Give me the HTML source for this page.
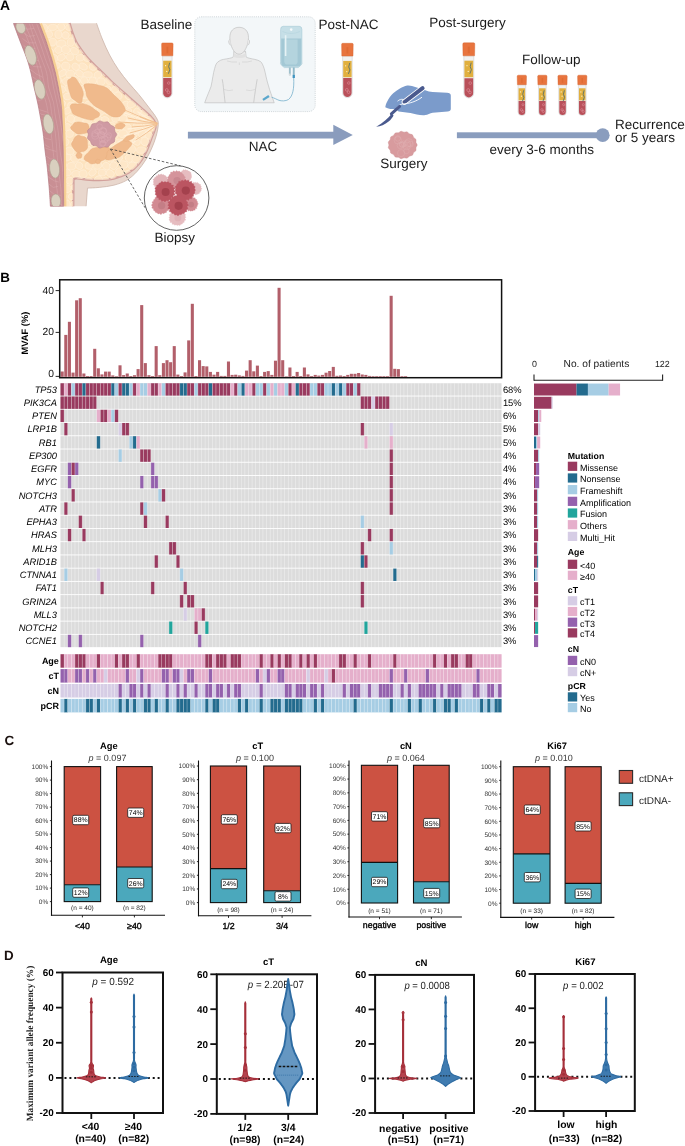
<!DOCTYPE html>
<html><head><meta charset="utf-8"><style>
html,body{margin:0;padding:0;background:#fff;}
svg{display:block;will-change:transform;}
</style></head><body>
<svg width="685" height="1146" viewBox="0 0 685 1146" text-rendering="geometricPrecision">
<rect width="685" height="1146" fill="#fff"/>
<text x="-0.1" y="9.5" font-family="Liberation Sans" font-size="13.9" font-weight="bold" text-anchor="start" fill="#000">A</text>
<path d="M39.3,23.2 L96.5,23.2  C97.47,25.83 100.12,33.70 102.30,39.00 C104.48,44.30 106.92,49.90 109.60,55.00 C112.28,60.10 115.23,64.97 118.40,69.60 C121.57,74.23 125.20,78.65 128.60,82.80 C132.00,86.95 135.40,90.37 138.80,94.50 C142.20,98.63 146.07,103.72 149.00,107.60 C151.93,111.48 154.85,115.02 156.40,117.80 C157.95,120.58 158.35,121.22 158.30,124.30 C158.25,127.38 157.18,132.35 156.10,136.30 C155.02,140.25 153.50,144.12 151.80,148.00 C150.10,151.88 148.33,155.72 145.90,159.60 C143.47,163.48 140.37,167.88 137.20,171.30 C134.03,174.72 130.80,177.78 126.90,180.10 C123.00,182.42 118.42,183.98 113.80,185.20 C109.18,186.42 103.58,186.92 99.20,187.40 C94.82,187.88 89.45,187.98 87.50,188.10 L86.1,206.2 L63.7,206.2 L63.5,175 L63.2,150 L62.6,130 L61.7,110 L60.6,100 L58.5,88 L55.5,73 L51.7,58.8 L46,41 L39.3,23.5 Z" fill="#e9d7cd"/>
<path d="M96.5,23.2  C97.47,25.83 100.12,33.70 102.30,39.00 C104.48,44.30 106.92,49.90 109.60,55.00 C112.28,60.10 115.23,64.97 118.40,69.60 C121.57,74.23 125.20,78.65 128.60,82.80 C132.00,86.95 135.40,90.37 138.80,94.50 C142.20,98.63 146.07,103.72 149.00,107.60 C151.93,111.48 154.85,115.02 156.40,117.80 C157.95,120.58 158.35,121.22 158.30,124.30 C158.25,127.38 157.18,132.35 156.10,136.30 C155.02,140.25 153.50,144.12 151.80,148.00 C150.10,151.88 148.33,155.72 145.90,159.60 C143.47,163.48 140.37,167.88 137.20,171.30 C134.03,174.72 130.80,177.78 126.90,180.10 C123.00,182.42 118.42,183.98 113.80,185.20 C109.18,186.42 103.58,186.92 99.20,187.40 C94.82,187.88 89.45,187.98 87.50,188.10 L86.1,206.2" fill="none" stroke="#cdb5aa" stroke-width="0.8"/>
<path d="M69.50,23.20 C70.00,24.83 71.40,29.88 72.50,33.00 C73.60,36.12 74.68,39.15 76.10,41.90 C77.52,44.65 79.30,47.07 81.00,49.50 C82.70,51.93 84.38,54.22 86.30,56.50 C88.22,58.78 90.32,61.02 92.50,63.20 C94.68,65.38 96.30,66.58 99.40,69.60 C102.50,72.62 106.97,77.40 111.10,81.30 C115.23,85.20 119.82,89.10 124.20,93.00 C128.58,96.90 134.10,101.78 137.40,104.70 C140.70,107.62 141.82,108.55 144.00,110.50 C146.18,112.45 148.75,114.57 150.50,116.40 C152.25,118.23 153.68,119.65 154.50,121.50 C155.32,123.35 155.98,124.55 155.40,127.50 C154.82,130.45 152.58,135.07 151.00,139.20 C149.42,143.33 147.97,148.17 145.90,152.30 C143.83,156.43 141.52,160.58 138.60,164.00 C135.68,167.42 132.53,170.37 128.40,172.80 C124.27,175.23 118.67,177.38 113.80,178.60 C108.93,179.82 104.07,179.98 99.20,180.10 C94.33,180.22 88.50,179.62 84.60,179.30 C80.70,178.98 77.27,178.38 75.80,178.20 L73.4,179.5 L73.2,206.2 L63.7,206.2 L63.5,175 L63.2,150 L62.6,130 L61.7,110 L60.6,100 L58.5,88 L55.5,73 L51.7,58.8 L46,41 L39.3,23.5 Z" fill="#fde3bf"/>
<path d="M69.50,23.20 C70.00,24.83 71.40,29.88 72.50,33.00 C73.60,36.12 74.68,39.15 76.10,41.90 C77.52,44.65 79.30,47.07 81.00,49.50 C82.70,51.93 84.38,54.22 86.30,56.50 C88.22,58.78 90.32,61.02 92.50,63.20 C94.68,65.38 96.30,66.58 99.40,69.60 C102.50,72.62 106.97,77.40 111.10,81.30 C115.23,85.20 119.82,89.10 124.20,93.00 C128.58,96.90 134.10,101.78 137.40,104.70 C140.70,107.62 141.82,108.55 144.00,110.50 C146.18,112.45 148.75,114.57 150.50,116.40 C152.25,118.23 153.68,119.65 154.50,121.50 C155.32,123.35 155.98,124.55 155.40,127.50 C154.82,130.45 152.58,135.07 151.00,139.20 C149.42,143.33 147.97,148.17 145.90,152.30 C143.83,156.43 141.52,160.58 138.60,164.00 C135.68,167.42 132.53,170.37 128.40,172.80 C124.27,175.23 118.67,177.38 113.80,178.60 C108.93,179.82 104.07,179.98 99.20,180.10 C94.33,180.22 88.50,179.62 84.60,179.30 C80.70,178.98 77.27,178.38 75.80,178.20 L73.4,179.5 L73.2,206.2" fill="none" stroke="#d3a19c" stroke-width="2.4"/>
<clipPath id="fatclip"><path d="M69.50,23.20 C70.00,24.83 71.40,29.88 72.50,33.00 C73.60,36.12 74.68,39.15 76.10,41.90 C77.52,44.65 79.30,47.07 81.00,49.50 C82.70,51.93 84.38,54.22 86.30,56.50 C88.22,58.78 90.32,61.02 92.50,63.20 C94.68,65.38 96.30,66.58 99.40,69.60 C102.50,72.62 106.97,77.40 111.10,81.30 C115.23,85.20 119.82,89.10 124.20,93.00 C128.58,96.90 134.10,101.78 137.40,104.70 C140.70,107.62 141.82,108.55 144.00,110.50 C146.18,112.45 148.75,114.57 150.50,116.40 C152.25,118.23 153.68,119.65 154.50,121.50 C155.32,123.35 155.98,124.55 155.40,127.50 C154.82,130.45 152.58,135.07 151.00,139.20 C149.42,143.33 147.97,148.17 145.90,152.30 C143.83,156.43 141.52,160.58 138.60,164.00 C135.68,167.42 132.53,170.37 128.40,172.80 C124.27,175.23 118.67,177.38 113.80,178.60 C108.93,179.82 104.07,179.98 99.20,180.10 C94.33,180.22 88.50,179.62 84.60,179.30 C80.70,178.98 77.27,178.38 75.80,178.20 L73.4,179.5 L73.2,206.2 L63.7,206.2 L63.5,175 L63.2,150 L62.6,130 L61.7,110 L60.6,100 L58.5,88 L55.5,73 L51.7,58.8 L46,41 L39.3,23.5 Z"/></clipPath>
<g clip-path="url(#fatclip)" fill="#fee8cb" stroke="#fff4e4" stroke-width="0.6" opacity="0.75"><ellipse cx="39.6" cy="19.2" rx="4.4" ry="3.1" transform="rotate(3 39.6 19.2)"/><ellipse cx="48.5" cy="18.9" rx="4.2" ry="3.0" transform="rotate(-5 48.5 18.9)"/><ellipse cx="56.6" cy="19.0" rx="4.1" ry="4.0" transform="rotate(-30 56.6 19.0)"/><ellipse cx="65.7" cy="20.3" rx="4.7" ry="3.7" transform="rotate(-8 65.7 20.3)"/><ellipse cx="76.3" cy="18.9" rx="4.6" ry="3.3" transform="rotate(-28 76.3 18.9)"/><ellipse cx="83.1" cy="19.5" rx="4.6" ry="3.2" transform="rotate(7 83.1 19.5)"/><ellipse cx="93.1" cy="19.7" rx="4.3" ry="3.1" transform="rotate(-35 93.1 19.7)"/><ellipse cx="100.9" cy="20.4" rx="4.1" ry="3.4" transform="rotate(7 100.9 20.4)"/><ellipse cx="110.3" cy="19.5" rx="4.6" ry="3.8" transform="rotate(-20 110.3 19.5)"/><ellipse cx="119.4" cy="20.1" rx="4.7" ry="3.9" transform="rotate(-17 119.4 20.1)"/><ellipse cx="129.2" cy="19.1" rx="4.1" ry="3.9" transform="rotate(-28 129.2 19.1)"/><ellipse cx="136.8" cy="18.9" rx="4.4" ry="3.9" transform="rotate(6 136.8 18.9)"/><ellipse cx="146.5" cy="19.6" rx="4.4" ry="3.7" transform="rotate(6 146.5 19.6)"/><ellipse cx="154.3" cy="20.8" rx="4.7" ry="3.6" transform="rotate(13 154.3 20.8)"/><ellipse cx="43.3" cy="28.1" rx="4.4" ry="4.2" transform="rotate(26 43.3 28.1)"/><ellipse cx="52.7" cy="27.4" rx="4.4" ry="3.0" transform="rotate(-3 52.7 27.4)"/><ellipse cx="61.2" cy="26.7" rx="3.7" ry="3.9" transform="rotate(-30 61.2 26.7)"/><ellipse cx="70.2" cy="27.4" rx="4.6" ry="3.1" transform="rotate(-4 70.2 27.4)"/><ellipse cx="79.7" cy="28.6" rx="4.6" ry="4.0" transform="rotate(-18 79.7 28.6)"/><ellipse cx="88.2" cy="27.3" rx="4.7" ry="4.1" transform="rotate(-28 88.2 27.3)"/><ellipse cx="96.4" cy="27.0" rx="3.9" ry="3.6" transform="rotate(7 96.4 27.0)"/><ellipse cx="105.4" cy="26.5" rx="4.1" ry="3.4" transform="rotate(5 105.4 26.5)"/><ellipse cx="115.9" cy="28.1" rx="4.2" ry="3.7" transform="rotate(14 115.9 28.1)"/><ellipse cx="122.5" cy="28.6" rx="4.5" ry="4.0" transform="rotate(24 122.5 28.6)"/><ellipse cx="132.1" cy="27.4" rx="3.7" ry="3.8" transform="rotate(-35 132.1 27.4)"/><ellipse cx="140.2" cy="27.0" rx="3.8" ry="3.4" transform="rotate(-36 140.2 27.0)"/><ellipse cx="148.8" cy="26.8" rx="3.7" ry="3.4" transform="rotate(-38 148.8 26.8)"/><ellipse cx="159.7" cy="27.9" rx="3.8" ry="3.3" transform="rotate(-12 159.7 27.9)"/><ellipse cx="39.7" cy="34.4" rx="4.6" ry="4.2" transform="rotate(-3 39.7 34.4)"/><ellipse cx="48.8" cy="34.3" rx="3.7" ry="3.4" transform="rotate(-19 48.8 34.3)"/><ellipse cx="58.4" cy="34.5" rx="3.6" ry="4.1" transform="rotate(2 58.4 34.5)"/><ellipse cx="65.6" cy="35.4" rx="3.6" ry="3.6" transform="rotate(38 65.6 35.4)"/><ellipse cx="76.1" cy="35.8" rx="3.9" ry="3.4" transform="rotate(-27 76.1 35.8)"/><ellipse cx="84.7" cy="35.4" rx="4.5" ry="3.4" transform="rotate(-22 84.7 35.4)"/><ellipse cx="93.5" cy="36.5" rx="4.6" ry="4.0" transform="rotate(25 93.5 36.5)"/><ellipse cx="102.2" cy="34.7" rx="4.2" ry="3.4" transform="rotate(-38 102.2 34.7)"/><ellipse cx="109.3" cy="34.8" rx="3.9" ry="3.8" transform="rotate(37 109.3 34.8)"/><ellipse cx="119.1" cy="36.4" rx="4.8" ry="4.1" transform="rotate(-11 119.1 36.4)"/><ellipse cx="127.3" cy="34.7" rx="3.8" ry="3.2" transform="rotate(10 127.3 34.7)"/><ellipse cx="137.8" cy="36.1" rx="4.2" ry="3.8" transform="rotate(24 137.8 36.1)"/><ellipse cx="144.6" cy="35.7" rx="4.7" ry="3.9" transform="rotate(20 144.6 35.7)"/><ellipse cx="154.3" cy="34.5" rx="4.5" ry="3.4" transform="rotate(24 154.3 34.5)"/><ellipse cx="45.5" cy="42.7" rx="4.1" ry="4.1" transform="rotate(18 45.5 42.7)"/><ellipse cx="52.4" cy="42.1" rx="3.8" ry="4.1" transform="rotate(25 52.4 42.1)"/><ellipse cx="61.2" cy="43.8" rx="4.8" ry="3.8" transform="rotate(-12 61.2 43.8)"/><ellipse cx="70.9" cy="42.1" rx="3.6" ry="4.2" transform="rotate(12 70.9 42.1)"/><ellipse cx="79.7" cy="44.0" rx="4.1" ry="4.0" transform="rotate(26 79.7 44.0)"/><ellipse cx="87.7" cy="42.4" rx="4.0" ry="3.3" transform="rotate(7 87.7 42.4)"/><ellipse cx="96.6" cy="42.8" rx="3.8" ry="4.1" transform="rotate(-12 96.6 42.8)"/><ellipse cx="105.9" cy="43.2" rx="4.7" ry="3.5" transform="rotate(33 105.9 43.2)"/><ellipse cx="114.8" cy="43.0" rx="4.2" ry="3.0" transform="rotate(-5 114.8 43.0)"/><ellipse cx="122.8" cy="41.8" rx="4.6" ry="3.2" transform="rotate(-2 122.8 41.8)"/><ellipse cx="132.9" cy="43.1" rx="4.0" ry="3.6" transform="rotate(4 132.9 43.1)"/><ellipse cx="141.9" cy="42.0" rx="4.3" ry="3.3" transform="rotate(-18 141.9 42.0)"/><ellipse cx="150.7" cy="43.0" rx="4.3" ry="3.9" transform="rotate(33 150.7 43.0)"/><ellipse cx="158.7" cy="43.2" rx="4.2" ry="3.6" transform="rotate(15 158.7 43.2)"/><ellipse cx="39.9" cy="50.7" rx="4.2" ry="4.1" transform="rotate(16 39.9 50.7)"/><ellipse cx="49.7" cy="51.7" rx="3.9" ry="3.7" transform="rotate(35 49.7 51.7)"/><ellipse cx="58.4" cy="49.8" rx="3.7" ry="3.5" transform="rotate(-34 58.4 49.8)"/><ellipse cx="65.8" cy="49.6" rx="4.4" ry="3.9" transform="rotate(32 65.8 49.6)"/><ellipse cx="74.4" cy="51.1" rx="4.4" ry="3.2" transform="rotate(31 74.4 51.1)"/><ellipse cx="85.1" cy="50.0" rx="4.7" ry="3.5" transform="rotate(-1 85.1 50.0)"/><ellipse cx="94.0" cy="51.4" rx="3.8" ry="3.5" transform="rotate(1 94.0 51.4)"/><ellipse cx="101.2" cy="49.9" rx="4.0" ry="3.9" transform="rotate(-38 101.2 49.9)"/><ellipse cx="110.5" cy="50.5" rx="3.6" ry="3.4" transform="rotate(10 110.5 50.5)"/><ellipse cx="119.2" cy="49.6" rx="4.8" ry="3.9" transform="rotate(38 119.2 49.6)"/><ellipse cx="127.1" cy="50.1" rx="3.6" ry="3.9" transform="rotate(-18 127.1 50.1)"/><ellipse cx="135.9" cy="50.4" rx="4.7" ry="4.0" transform="rotate(-19 135.9 50.4)"/><ellipse cx="144.8" cy="51.6" rx="4.3" ry="3.8" transform="rotate(-33 144.8 51.6)"/><ellipse cx="153.3" cy="51.1" rx="4.1" ry="3.1" transform="rotate(35 153.3 51.1)"/><ellipse cx="44.7" cy="59.0" rx="3.7" ry="4.0" transform="rotate(-35 44.7 59.0)"/><ellipse cx="54.1" cy="58.2" rx="4.0" ry="3.7" transform="rotate(34 54.1 58.2)"/><ellipse cx="61.4" cy="57.4" rx="4.2" ry="3.3" transform="rotate(-31 61.4 57.4)"/><ellipse cx="70.0" cy="57.2" rx="3.8" ry="3.4" transform="rotate(-16 70.0 57.2)"/><ellipse cx="80.2" cy="57.8" rx="4.2" ry="3.2" transform="rotate(-12 80.2 57.8)"/><ellipse cx="87.2" cy="57.7" rx="3.6" ry="3.9" transform="rotate(4 87.2 57.7)"/><ellipse cx="96.5" cy="58.2" rx="4.7" ry="3.1" transform="rotate(26 96.5 58.2)"/><ellipse cx="105.8" cy="58.3" rx="4.6" ry="3.5" transform="rotate(1 105.8 58.3)"/><ellipse cx="115.3" cy="59.4" rx="4.0" ry="4.0" transform="rotate(17 115.3 59.4)"/><ellipse cx="123.9" cy="58.1" rx="4.0" ry="3.1" transform="rotate(-30 123.9 58.1)"/><ellipse cx="131.4" cy="58.9" rx="3.9" ry="3.2" transform="rotate(-33 131.4 58.9)"/><ellipse cx="142.0" cy="59.2" rx="4.4" ry="3.3" transform="rotate(-21 142.0 59.2)"/><ellipse cx="149.5" cy="58.2" rx="3.8" ry="3.5" transform="rotate(-19 149.5 58.2)"/><ellipse cx="159.9" cy="59.4" rx="4.3" ry="3.3" transform="rotate(37 159.9 59.4)"/><ellipse cx="39.5" cy="65.6" rx="3.6" ry="3.5" transform="rotate(-2 39.5 65.6)"/><ellipse cx="48.8" cy="65.2" rx="4.2" ry="3.0" transform="rotate(-19 48.8 65.2)"/><ellipse cx="56.6" cy="65.7" rx="3.7" ry="3.0" transform="rotate(-16 56.6 65.7)"/><ellipse cx="65.8" cy="66.1" rx="4.2" ry="3.9" transform="rotate(13 65.8 66.1)"/><ellipse cx="75.7" cy="66.8" rx="4.1" ry="3.4" transform="rotate(39 75.7 66.8)"/><ellipse cx="83.2" cy="66.5" rx="4.4" ry="3.1" transform="rotate(27 83.2 66.5)"/><ellipse cx="93.7" cy="66.2" rx="4.5" ry="4.0" transform="rotate(-29 93.7 66.2)"/><ellipse cx="101.7" cy="65.9" rx="4.6" ry="4.0" transform="rotate(26 101.7 65.9)"/><ellipse cx="110.6" cy="66.9" rx="4.4" ry="3.8" transform="rotate(-22 110.6 66.9)"/><ellipse cx="118.1" cy="65.1" rx="4.0" ry="3.1" transform="rotate(27 118.1 65.1)"/><ellipse cx="128.1" cy="66.2" rx="4.4" ry="3.8" transform="rotate(-1 128.1 66.2)"/><ellipse cx="135.6" cy="66.7" rx="4.5" ry="3.6" transform="rotate(3 135.6 66.7)"/><ellipse cx="146.0" cy="64.9" rx="4.5" ry="3.3" transform="rotate(-34 146.0 64.9)"/><ellipse cx="153.8" cy="66.5" rx="3.8" ry="3.9" transform="rotate(38 153.8 66.5)"/><ellipse cx="44.4" cy="73.3" rx="4.2" ry="3.8" transform="rotate(21 44.4 73.3)"/><ellipse cx="53.5" cy="73.9" rx="3.7" ry="3.2" transform="rotate(-20 53.5 73.9)"/><ellipse cx="62.6" cy="73.1" rx="4.3" ry="3.0" transform="rotate(-35 62.6 73.1)"/><ellipse cx="70.2" cy="74.0" rx="4.4" ry="3.8" transform="rotate(-17 70.2 74.0)"/><ellipse cx="79.6" cy="73.5" rx="4.2" ry="3.1" transform="rotate(31 79.6 73.5)"/><ellipse cx="87.7" cy="74.7" rx="4.7" ry="3.0" transform="rotate(-3 87.7 74.7)"/><ellipse cx="98.0" cy="74.7" rx="4.1" ry="3.3" transform="rotate(-23 98.0 74.7)"/><ellipse cx="107.1" cy="72.9" rx="4.3" ry="3.2" transform="rotate(2 107.1 72.9)"/><ellipse cx="115.9" cy="72.7" rx="4.6" ry="3.6" transform="rotate(31 115.9 72.7)"/><ellipse cx="124.1" cy="72.9" rx="4.7" ry="3.6" transform="rotate(-38 124.1 72.9)"/><ellipse cx="131.2" cy="73.6" rx="4.1" ry="3.4" transform="rotate(-29 131.2 73.6)"/><ellipse cx="140.8" cy="73.2" rx="4.6" ry="3.0" transform="rotate(20 140.8 73.2)"/><ellipse cx="150.8" cy="72.7" rx="4.7" ry="3.9" transform="rotate(32 150.8 72.7)"/><ellipse cx="158.3" cy="73.3" rx="4.1" ry="4.2" transform="rotate(7 158.3 73.3)"/><ellipse cx="39.7" cy="81.1" rx="3.9" ry="3.1" transform="rotate(-32 39.7 81.1)"/><ellipse cx="49.6" cy="80.7" rx="4.7" ry="3.3" transform="rotate(-19 49.6 80.7)"/><ellipse cx="57.6" cy="80.5" rx="4.0" ry="4.1" transform="rotate(31 57.6 80.5)"/><ellipse cx="67.1" cy="81.6" rx="4.7" ry="4.1" transform="rotate(4 67.1 81.6)"/><ellipse cx="75.7" cy="80.2" rx="4.5" ry="3.5" transform="rotate(20 75.7 80.2)"/><ellipse cx="84.3" cy="80.7" rx="3.7" ry="4.1" transform="rotate(-30 84.3 80.7)"/><ellipse cx="92.7" cy="80.9" rx="4.0" ry="3.9" transform="rotate(38 92.7 80.9)"/><ellipse cx="101.0" cy="81.6" rx="4.0" ry="3.7" transform="rotate(-8 101.0 81.6)"/><ellipse cx="109.6" cy="80.4" rx="3.8" ry="4.1" transform="rotate(-0 109.6 80.4)"/><ellipse cx="118.5" cy="82.2" rx="4.8" ry="3.5" transform="rotate(-29 118.5 82.2)"/><ellipse cx="127.3" cy="80.3" rx="4.0" ry="3.1" transform="rotate(-21 127.3 80.3)"/><ellipse cx="136.2" cy="81.4" rx="4.7" ry="3.9" transform="rotate(-7 136.2 81.4)"/><ellipse cx="145.4" cy="81.3" rx="4.1" ry="3.4" transform="rotate(-35 145.4 81.3)"/><ellipse cx="153.9" cy="82.4" rx="3.8" ry="3.6" transform="rotate(10 153.9 82.4)"/><ellipse cx="45.3" cy="88.2" rx="3.9" ry="3.3" transform="rotate(-8 45.3 88.2)"/><ellipse cx="53.1" cy="90.0" rx="4.6" ry="4.0" transform="rotate(-38 53.1 90.0)"/><ellipse cx="60.9" cy="89.4" rx="4.7" ry="3.6" transform="rotate(7 60.9 89.4)"/><ellipse cx="69.6" cy="88.6" rx="4.7" ry="4.0" transform="rotate(28 69.6 88.6)"/><ellipse cx="80.7" cy="88.3" rx="3.7" ry="3.2" transform="rotate(2 80.7 88.3)"/><ellipse cx="88.8" cy="90.0" rx="4.5" ry="3.8" transform="rotate(21 88.8 90.0)"/><ellipse cx="97.1" cy="89.0" rx="3.6" ry="3.9" transform="rotate(-21 97.1 89.0)"/><ellipse cx="107.0" cy="89.3" rx="4.0" ry="3.2" transform="rotate(-20 107.0 89.3)"/><ellipse cx="115.1" cy="89.4" rx="3.7" ry="3.1" transform="rotate(2 115.1 89.4)"/><ellipse cx="123.8" cy="88.6" rx="3.9" ry="3.7" transform="rotate(-39 123.8 88.6)"/><ellipse cx="131.9" cy="88.8" rx="4.8" ry="3.8" transform="rotate(31 131.9 88.8)"/><ellipse cx="141.1" cy="88.3" rx="3.9" ry="4.2" transform="rotate(16 141.1 88.3)"/><ellipse cx="149.5" cy="87.8" rx="4.2" ry="3.8" transform="rotate(-6 149.5 87.8)"/><ellipse cx="158.2" cy="89.3" rx="4.7" ry="3.3" transform="rotate(-37 158.2 89.3)"/><ellipse cx="39.6" cy="96.4" rx="4.4" ry="3.2" transform="rotate(24 39.6 96.4)"/><ellipse cx="49.4" cy="96.6" rx="3.8" ry="4.2" transform="rotate(-15 49.4 96.6)"/><ellipse cx="58.4" cy="95.9" rx="3.9" ry="3.9" transform="rotate(-16 58.4 95.9)"/><ellipse cx="67.5" cy="96.5" rx="3.8" ry="3.3" transform="rotate(-7 67.5 96.5)"/><ellipse cx="75.6" cy="97.6" rx="3.8" ry="3.5" transform="rotate(-23 75.6 97.6)"/><ellipse cx="85.1" cy="95.7" rx="3.7" ry="3.1" transform="rotate(-9 85.1 95.7)"/><ellipse cx="93.8" cy="97.5" rx="4.5" ry="4.2" transform="rotate(35 93.8 97.5)"/><ellipse cx="101.2" cy="95.8" rx="4.7" ry="3.9" transform="rotate(-37 101.2 95.8)"/><ellipse cx="110.8" cy="96.3" rx="4.0" ry="3.4" transform="rotate(-26 110.8 96.3)"/><ellipse cx="118.0" cy="96.0" rx="4.0" ry="4.1" transform="rotate(-30 118.0 96.0)"/><ellipse cx="129.1" cy="95.9" rx="4.0" ry="4.0" transform="rotate(26 129.1 95.9)"/><ellipse cx="136.6" cy="95.5" rx="4.2" ry="3.4" transform="rotate(34 136.6 95.5)"/><ellipse cx="144.9" cy="96.2" rx="4.7" ry="3.0" transform="rotate(-7 144.9 96.2)"/><ellipse cx="155.1" cy="97.2" rx="3.6" ry="3.0" transform="rotate(-35 155.1 97.2)"/><ellipse cx="45.4" cy="103.6" rx="4.5" ry="4.1" transform="rotate(-13 45.4 103.6)"/><ellipse cx="52.7" cy="105.3" rx="4.3" ry="3.3" transform="rotate(17 52.7 105.3)"/><ellipse cx="61.6" cy="103.7" rx="3.6" ry="3.9" transform="rotate(33 61.6 103.7)"/><ellipse cx="71.1" cy="105.3" rx="3.6" ry="3.3" transform="rotate(-2 71.1 105.3)"/><ellipse cx="80.7" cy="105.3" rx="4.1" ry="3.3" transform="rotate(-6 80.7 105.3)"/><ellipse cx="88.4" cy="105.2" rx="3.8" ry="4.0" transform="rotate(19 88.4 105.2)"/><ellipse cx="98.0" cy="104.9" rx="4.3" ry="3.4" transform="rotate(-14 98.0 104.9)"/><ellipse cx="105.7" cy="104.9" rx="3.7" ry="3.2" transform="rotate(20 105.7 104.9)"/><ellipse cx="114.2" cy="103.2" rx="3.6" ry="3.7" transform="rotate(-14 114.2 103.2)"/><ellipse cx="124.8" cy="105.1" rx="4.8" ry="3.3" transform="rotate(-33 124.8 105.1)"/><ellipse cx="131.4" cy="104.2" rx="4.5" ry="3.5" transform="rotate(-21 131.4 104.2)"/><ellipse cx="141.0" cy="104.5" rx="4.4" ry="3.9" transform="rotate(28 141.0 104.5)"/><ellipse cx="150.4" cy="103.3" rx="4.6" ry="3.4" transform="rotate(5 150.4 103.3)"/><ellipse cx="158.5" cy="104.8" rx="3.8" ry="3.3" transform="rotate(-20 158.5 104.8)"/><ellipse cx="39.2" cy="112.8" rx="4.3" ry="3.4" transform="rotate(-8 39.2 112.8)"/><ellipse cx="50.0" cy="111.9" rx="3.9" ry="4.0" transform="rotate(12 50.0 111.9)"/><ellipse cx="58.8" cy="110.9" rx="4.2" ry="4.0" transform="rotate(27 58.8 110.9)"/><ellipse cx="67.4" cy="110.8" rx="4.0" ry="3.1" transform="rotate(-25 67.4 110.8)"/><ellipse cx="76.3" cy="112.1" rx="4.7" ry="3.4" transform="rotate(29 76.3 112.1)"/><ellipse cx="83.9" cy="111.3" rx="4.5" ry="4.1" transform="rotate(-32 83.9 111.3)"/><ellipse cx="93.0" cy="112.2" rx="3.9" ry="3.4" transform="rotate(-29 93.0 112.2)"/><ellipse cx="100.9" cy="111.3" rx="4.3" ry="3.8" transform="rotate(-24 100.9 111.3)"/><ellipse cx="109.2" cy="111.5" rx="4.4" ry="3.2" transform="rotate(-15 109.2 111.5)"/><ellipse cx="118.5" cy="112.6" rx="4.3" ry="3.1" transform="rotate(-32 118.5 112.6)"/><ellipse cx="127.7" cy="112.0" rx="4.4" ry="3.1" transform="rotate(-27 127.7 112.0)"/><ellipse cx="137.3" cy="111.7" rx="3.9" ry="3.4" transform="rotate(36 137.3 111.7)"/><ellipse cx="145.1" cy="112.0" rx="4.0" ry="3.5" transform="rotate(29 145.1 112.0)"/><ellipse cx="155.6" cy="111.5" rx="3.8" ry="3.9" transform="rotate(-24 155.6 111.5)"/><ellipse cx="43.2" cy="120.5" rx="4.1" ry="4.0" transform="rotate(-8 43.2 120.5)"/><ellipse cx="54.1" cy="119.4" rx="3.8" ry="3.0" transform="rotate(4 54.1 119.4)"/><ellipse cx="62.3" cy="120.5" rx="3.7" ry="3.7" transform="rotate(-10 62.3 120.5)"/><ellipse cx="70.8" cy="118.7" rx="3.9" ry="3.6" transform="rotate(34 70.8 118.7)"/><ellipse cx="78.7" cy="119.5" rx="4.6" ry="4.2" transform="rotate(-24 78.7 119.5)"/><ellipse cx="87.5" cy="120.6" rx="4.8" ry="3.6" transform="rotate(-36 87.5 120.6)"/><ellipse cx="98.2" cy="119.3" rx="4.7" ry="3.7" transform="rotate(26 98.2 119.3)"/><ellipse cx="105.2" cy="120.2" rx="3.9" ry="3.5" transform="rotate(28 105.2 120.2)"/><ellipse cx="115.6" cy="118.8" rx="3.9" ry="3.5" transform="rotate(1 115.6 118.8)"/><ellipse cx="123.3" cy="118.6" rx="3.9" ry="3.9" transform="rotate(32 123.3 118.6)"/><ellipse cx="131.3" cy="119.7" rx="4.5" ry="3.0" transform="rotate(27 131.3 119.7)"/><ellipse cx="140.3" cy="119.8" rx="4.3" ry="3.8" transform="rotate(-16 140.3 119.8)"/><ellipse cx="149.8" cy="119.7" rx="4.1" ry="3.8" transform="rotate(-4 149.8 119.7)"/><ellipse cx="158.7" cy="118.4" rx="4.3" ry="3.6" transform="rotate(-21 158.7 118.4)"/><ellipse cx="40.6" cy="127.9" rx="4.1" ry="3.2" transform="rotate(-2 40.6 127.9)"/><ellipse cx="47.9" cy="126.3" rx="4.1" ry="3.1" transform="rotate(-5 47.9 126.3)"/><ellipse cx="57.6" cy="126.1" rx="4.4" ry="3.1" transform="rotate(19 57.6 126.1)"/><ellipse cx="67.1" cy="127.2" rx="3.7" ry="3.6" transform="rotate(-10 67.1 127.2)"/><ellipse cx="76.3" cy="126.3" rx="4.6" ry="4.2" transform="rotate(19 76.3 126.3)"/><ellipse cx="84.8" cy="126.4" rx="4.8" ry="3.6" transform="rotate(37 84.8 126.4)"/><ellipse cx="93.8" cy="126.4" rx="4.5" ry="4.1" transform="rotate(-35 93.8 126.4)"/><ellipse cx="101.2" cy="127.8" rx="3.8" ry="4.1" transform="rotate(-18 101.2 127.8)"/><ellipse cx="111.2" cy="126.3" rx="4.2" ry="4.1" transform="rotate(-23 111.2 126.3)"/><ellipse cx="118.6" cy="127.2" rx="4.0" ry="3.0" transform="rotate(-25 118.6 127.2)"/><ellipse cx="127.2" cy="128.2" rx="4.4" ry="4.1" transform="rotate(-27 127.2 128.2)"/><ellipse cx="137.5" cy="126.3" rx="4.2" ry="3.8" transform="rotate(-11 137.5 126.3)"/><ellipse cx="146.5" cy="127.3" rx="4.3" ry="4.1" transform="rotate(-32 146.5 127.3)"/><ellipse cx="155.6" cy="127.5" rx="4.1" ry="4.0" transform="rotate(-19 155.6 127.5)"/><ellipse cx="45.6" cy="135.0" rx="4.0" ry="3.9" transform="rotate(-5 45.6 135.0)"/><ellipse cx="52.4" cy="135.4" rx="3.7" ry="4.0" transform="rotate(-20 52.4 135.4)"/><ellipse cx="62.3" cy="136.0" rx="4.3" ry="3.8" transform="rotate(-15 62.3 136.0)"/><ellipse cx="69.6" cy="133.7" rx="3.8" ry="3.7" transform="rotate(-5 69.6 133.7)"/><ellipse cx="79.6" cy="135.8" rx="3.8" ry="3.3" transform="rotate(12 79.6 135.8)"/><ellipse cx="87.3" cy="133.6" rx="4.0" ry="3.1" transform="rotate(-11 87.3 133.6)"/><ellipse cx="96.5" cy="135.0" rx="4.3" ry="3.2" transform="rotate(10 96.5 135.0)"/><ellipse cx="105.9" cy="134.0" rx="4.7" ry="3.3" transform="rotate(-28 105.9 134.0)"/><ellipse cx="113.8" cy="135.2" rx="4.6" ry="3.9" transform="rotate(-8 113.8 135.2)"/><ellipse cx="123.0" cy="133.7" rx="4.4" ry="3.7" transform="rotate(-12 123.0 133.7)"/><ellipse cx="132.7" cy="134.7" rx="4.7" ry="3.9" transform="rotate(-20 132.7 134.7)"/><ellipse cx="142.2" cy="133.7" rx="4.2" ry="3.5" transform="rotate(-21 142.2 133.7)"/><ellipse cx="148.9" cy="135.5" rx="3.6" ry="3.7" transform="rotate(35 148.9 135.5)"/><ellipse cx="157.9" cy="134.1" rx="4.3" ry="3.6" transform="rotate(11 157.9 134.1)"/><ellipse cx="40.8" cy="141.7" rx="4.0" ry="3.4" transform="rotate(-36 40.8 141.7)"/><ellipse cx="49.7" cy="143.2" rx="4.5" ry="3.0" transform="rotate(28 49.7 143.2)"/><ellipse cx="58.2" cy="142.4" rx="4.5" ry="3.5" transform="rotate(-22 58.2 142.4)"/><ellipse cx="65.5" cy="141.9" rx="3.6" ry="3.4" transform="rotate(20 65.5 141.9)"/><ellipse cx="75.7" cy="143.3" rx="4.5" ry="3.3" transform="rotate(4 75.7 143.3)"/><ellipse cx="83.8" cy="143.2" rx="4.2" ry="3.3" transform="rotate(11 83.8 143.2)"/><ellipse cx="93.9" cy="141.8" rx="4.7" ry="3.0" transform="rotate(-19 93.9 141.8)"/><ellipse cx="101.0" cy="143.1" rx="4.7" ry="3.9" transform="rotate(-14 101.0 143.1)"/><ellipse cx="111.3" cy="142.1" rx="3.9" ry="4.1" transform="rotate(10 111.3 142.1)"/><ellipse cx="119.7" cy="142.9" rx="4.8" ry="3.6" transform="rotate(27 119.7 142.9)"/><ellipse cx="128.5" cy="143.4" rx="4.1" ry="3.9" transform="rotate(6 128.5 143.4)"/><ellipse cx="136.3" cy="141.8" rx="4.3" ry="3.1" transform="rotate(33 136.3 141.8)"/><ellipse cx="144.7" cy="141.4" rx="3.7" ry="4.1" transform="rotate(-12 144.7 141.4)"/><ellipse cx="153.5" cy="141.4" rx="3.6" ry="3.8" transform="rotate(11 153.5 141.4)"/><ellipse cx="44.9" cy="150.7" rx="3.7" ry="3.7" transform="rotate(-11 44.9 150.7)"/><ellipse cx="54.0" cy="150.9" rx="4.7" ry="3.1" transform="rotate(29 54.0 150.9)"/><ellipse cx="63.0" cy="151.2" rx="3.7" ry="3.2" transform="rotate(-31 63.0 151.2)"/><ellipse cx="69.7" cy="151.0" rx="4.6" ry="3.8" transform="rotate(26 69.7 151.0)"/><ellipse cx="79.9" cy="149.6" rx="3.7" ry="3.1" transform="rotate(21 79.9 149.6)"/><ellipse cx="87.7" cy="149.7" rx="4.1" ry="3.0" transform="rotate(-19 87.7 149.7)"/><ellipse cx="96.7" cy="150.7" rx="4.0" ry="3.4" transform="rotate(37 96.7 150.7)"/><ellipse cx="106.0" cy="151.0" rx="4.3" ry="3.0" transform="rotate(-7 106.0 151.0)"/><ellipse cx="114.6" cy="150.8" rx="4.0" ry="3.8" transform="rotate(3 114.6 150.8)"/><ellipse cx="122.9" cy="151.0" rx="3.7" ry="4.0" transform="rotate(-26 122.9 151.0)"/><ellipse cx="131.2" cy="149.4" rx="4.5" ry="4.2" transform="rotate(-40 131.2 149.4)"/><ellipse cx="141.2" cy="150.1" rx="4.6" ry="3.2" transform="rotate(-0 141.2 150.1)"/><ellipse cx="149.6" cy="150.9" rx="3.9" ry="4.1" transform="rotate(-17 149.6 150.9)"/><ellipse cx="158.1" cy="150.6" rx="4.2" ry="3.1" transform="rotate(11 158.1 150.6)"/><ellipse cx="39.0" cy="158.5" rx="4.4" ry="3.9" transform="rotate(10 39.0 158.5)"/><ellipse cx="48.5" cy="157.6" rx="4.1" ry="4.1" transform="rotate(-33 48.5 157.6)"/><ellipse cx="58.5" cy="156.7" rx="3.8" ry="3.3" transform="rotate(32 58.5 156.7)"/><ellipse cx="66.4" cy="157.5" rx="4.7" ry="3.3" transform="rotate(-3 66.4 157.5)"/><ellipse cx="75.3" cy="158.4" rx="4.5" ry="3.8" transform="rotate(-12 75.3 158.4)"/><ellipse cx="83.6" cy="157.0" rx="4.6" ry="3.8" transform="rotate(19 83.6 157.0)"/><ellipse cx="92.0" cy="157.7" rx="4.5" ry="3.7" transform="rotate(-30 92.0 157.7)"/><ellipse cx="101.5" cy="158.7" rx="3.9" ry="3.2" transform="rotate(-16 101.5 158.7)"/><ellipse cx="110.9" cy="158.6" rx="3.8" ry="3.2" transform="rotate(-20 110.9 158.6)"/><ellipse cx="118.8" cy="157.9" rx="3.8" ry="3.4" transform="rotate(-25 118.8 157.9)"/><ellipse cx="129.1" cy="158.4" rx="3.7" ry="4.2" transform="rotate(-32 129.1 158.4)"/><ellipse cx="136.5" cy="159.0" rx="4.6" ry="3.9" transform="rotate(-5 136.5 159.0)"/><ellipse cx="144.9" cy="158.1" rx="3.7" ry="3.2" transform="rotate(-9 144.9 158.1)"/><ellipse cx="153.3" cy="157.6" rx="4.5" ry="3.8" transform="rotate(0 153.3 157.6)"/><ellipse cx="44.7" cy="165.4" rx="3.8" ry="3.7" transform="rotate(-8 44.7 165.4)"/><ellipse cx="53.8" cy="166.4" rx="4.1" ry="3.7" transform="rotate(20 53.8 166.4)"/><ellipse cx="61.8" cy="164.8" rx="4.5" ry="4.1" transform="rotate(22 61.8 164.8)"/><ellipse cx="71.3" cy="166.3" rx="4.4" ry="3.8" transform="rotate(-4 71.3 166.3)"/><ellipse cx="79.2" cy="165.8" rx="3.7" ry="3.5" transform="rotate(23 79.2 165.8)"/><ellipse cx="88.9" cy="165.8" rx="3.9" ry="3.5" transform="rotate(-4 88.9 165.8)"/><ellipse cx="97.5" cy="165.2" rx="4.4" ry="4.1" transform="rotate(-25 97.5 165.2)"/><ellipse cx="106.4" cy="166.1" rx="4.1" ry="3.6" transform="rotate(38 106.4 166.1)"/><ellipse cx="113.7" cy="165.6" rx="3.8" ry="3.9" transform="rotate(35 113.7 165.6)"/><ellipse cx="123.6" cy="164.5" rx="4.3" ry="3.6" transform="rotate(17 123.6 164.5)"/><ellipse cx="132.4" cy="165.8" rx="4.6" ry="3.6" transform="rotate(-7 132.4 165.8)"/><ellipse cx="142.3" cy="164.8" rx="4.4" ry="3.5" transform="rotate(21 142.3 164.8)"/><ellipse cx="149.1" cy="166.6" rx="4.0" ry="3.1" transform="rotate(-18 149.1 166.6)"/><ellipse cx="158.6" cy="164.3" rx="4.1" ry="3.5" transform="rotate(16 158.6 164.3)"/><ellipse cx="39.6" cy="172.6" rx="3.9" ry="3.9" transform="rotate(35 39.6 172.6)"/><ellipse cx="48.9" cy="172.4" rx="4.6" ry="3.5" transform="rotate(-23 48.9 172.4)"/><ellipse cx="56.7" cy="173.8" rx="4.6" ry="3.8" transform="rotate(-2 56.7 173.8)"/><ellipse cx="66.5" cy="172.5" rx="4.8" ry="3.4" transform="rotate(11 66.5 172.5)"/><ellipse cx="76.0" cy="173.9" rx="4.2" ry="3.4" transform="rotate(4 76.0 173.9)"/><ellipse cx="83.1" cy="173.9" rx="4.0" ry="4.0" transform="rotate(-19 83.1 173.9)"/><ellipse cx="92.5" cy="172.5" rx="4.1" ry="3.2" transform="rotate(-40 92.5 172.5)"/><ellipse cx="102.1" cy="172.6" rx="3.9" ry="3.4" transform="rotate(-2 102.1 172.6)"/><ellipse cx="110.2" cy="173.4" rx="4.4" ry="3.4" transform="rotate(34 110.2 173.4)"/><ellipse cx="120.1" cy="172.1" rx="4.6" ry="4.1" transform="rotate(23 120.1 172.1)"/><ellipse cx="127.1" cy="173.9" rx="4.4" ry="3.0" transform="rotate(-39 127.1 173.9)"/><ellipse cx="137.9" cy="173.5" rx="3.9" ry="3.1" transform="rotate(-29 137.9 173.5)"/><ellipse cx="145.0" cy="173.8" rx="4.0" ry="3.2" transform="rotate(32 145.0 173.8)"/><ellipse cx="155.1" cy="172.3" rx="4.7" ry="3.7" transform="rotate(23 155.1 172.3)"/><ellipse cx="44.8" cy="181.7" rx="4.5" ry="4.0" transform="rotate(-24 44.8 181.7)"/><ellipse cx="53.7" cy="180.8" rx="4.5" ry="3.5" transform="rotate(31 53.7 180.8)"/><ellipse cx="62.1" cy="180.2" rx="3.9" ry="3.2" transform="rotate(-1 62.1 180.2)"/><ellipse cx="69.7" cy="180.7" rx="3.8" ry="3.6" transform="rotate(-0 69.7 180.7)"/><ellipse cx="79.7" cy="181.6" rx="3.6" ry="4.0" transform="rotate(-3 79.7 181.6)"/><ellipse cx="88.6" cy="181.2" rx="4.6" ry="3.4" transform="rotate(-6 88.6 181.2)"/><ellipse cx="98.3" cy="179.8" rx="4.4" ry="3.8" transform="rotate(-38 98.3 179.8)"/><ellipse cx="106.3" cy="181.2" rx="4.7" ry="3.4" transform="rotate(39 106.3 181.2)"/><ellipse cx="114.8" cy="180.7" rx="4.7" ry="3.0" transform="rotate(17 114.8 180.7)"/><ellipse cx="123.9" cy="180.4" rx="4.6" ry="3.4" transform="rotate(-2 123.9 180.4)"/><ellipse cx="132.5" cy="181.4" rx="3.9" ry="3.5" transform="rotate(-6 132.5 181.4)"/><ellipse cx="141.3" cy="181.6" rx="4.0" ry="4.0" transform="rotate(-8 141.3 181.6)"/><ellipse cx="150.0" cy="180.2" rx="4.2" ry="4.2" transform="rotate(12 150.0 180.2)"/><ellipse cx="159.5" cy="180.4" rx="4.0" ry="3.4" transform="rotate(7 159.5 180.4)"/><ellipse cx="40.3" cy="189.1" rx="3.6" ry="3.9" transform="rotate(31 40.3 189.1)"/><ellipse cx="48.9" cy="187.4" rx="4.0" ry="3.0" transform="rotate(-25 48.9 187.4)"/><ellipse cx="58.6" cy="188.7" rx="4.4" ry="3.9" transform="rotate(33 58.6 188.7)"/><ellipse cx="66.7" cy="188.7" rx="4.4" ry="3.8" transform="rotate(8 66.7 188.7)"/><ellipse cx="75.6" cy="187.7" rx="4.4" ry="3.5" transform="rotate(21 75.6 187.7)"/><ellipse cx="83.0" cy="187.7" rx="3.6" ry="3.9" transform="rotate(33 83.0 187.7)"/><ellipse cx="93.2" cy="188.1" rx="4.6" ry="3.9" transform="rotate(5 93.2 188.1)"/><ellipse cx="101.0" cy="188.0" rx="4.1" ry="3.4" transform="rotate(-6 101.0 188.0)"/><ellipse cx="110.7" cy="189.5" rx="3.7" ry="3.7" transform="rotate(-37 110.7 189.5)"/><ellipse cx="118.3" cy="189.2" rx="4.3" ry="4.1" transform="rotate(-4 118.3 189.2)"/><ellipse cx="126.8" cy="188.2" rx="4.3" ry="4.1" transform="rotate(38 126.8 188.2)"/><ellipse cx="136.7" cy="188.2" rx="3.7" ry="3.8" transform="rotate(-23 136.7 188.2)"/><ellipse cx="144.8" cy="187.3" rx="3.6" ry="3.8" transform="rotate(-30 144.8 187.3)"/><ellipse cx="155.5" cy="187.4" rx="4.6" ry="3.2" transform="rotate(-39 155.5 187.4)"/><ellipse cx="44.9" cy="195.5" rx="4.5" ry="3.2" transform="rotate(-36 44.9 195.5)"/><ellipse cx="53.9" cy="196.6" rx="4.6" ry="3.9" transform="rotate(-33 53.9 196.6)"/><ellipse cx="62.3" cy="196.6" rx="4.2" ry="4.1" transform="rotate(-20 62.3 196.6)"/><ellipse cx="71.9" cy="196.6" rx="3.6" ry="3.0" transform="rotate(12 71.9 196.6)"/><ellipse cx="80.4" cy="195.1" rx="4.0" ry="3.9" transform="rotate(-27 80.4 195.1)"/><ellipse cx="89.3" cy="196.1" rx="3.7" ry="3.4" transform="rotate(6 89.3 196.1)"/><ellipse cx="97.1" cy="196.5" rx="3.8" ry="4.0" transform="rotate(-11 97.1 196.5)"/><ellipse cx="106.3" cy="196.4" rx="4.1" ry="3.5" transform="rotate(23 106.3 196.4)"/><ellipse cx="115.9" cy="196.8" rx="4.3" ry="3.4" transform="rotate(-35 115.9 196.8)"/><ellipse cx="124.7" cy="196.6" rx="4.6" ry="3.4" transform="rotate(8 124.7 196.6)"/><ellipse cx="133.5" cy="196.9" rx="4.3" ry="3.4" transform="rotate(-6 133.5 196.9)"/><ellipse cx="142.1" cy="195.8" rx="4.4" ry="3.7" transform="rotate(32 142.1 195.8)"/><ellipse cx="150.7" cy="195.6" rx="3.6" ry="3.3" transform="rotate(-6 150.7 195.6)"/><ellipse cx="159.0" cy="196.8" rx="4.7" ry="3.1" transform="rotate(27 159.0 196.8)"/><ellipse cx="40.7" cy="204.6" rx="4.3" ry="3.3" transform="rotate(28 40.7 204.6)"/><ellipse cx="49.5" cy="204.2" rx="4.7" ry="3.4" transform="rotate(-33 49.5 204.2)"/><ellipse cx="57.7" cy="204.5" rx="3.8" ry="3.9" transform="rotate(35 57.7 204.5)"/><ellipse cx="65.8" cy="204.0" rx="4.4" ry="3.6" transform="rotate(-23 65.8 204.0)"/><ellipse cx="74.6" cy="204.3" rx="4.5" ry="3.6" transform="rotate(-33 74.6 204.3)"/><ellipse cx="84.7" cy="204.4" rx="3.9" ry="3.7" transform="rotate(32 84.7 204.4)"/><ellipse cx="93.7" cy="203.8" rx="4.2" ry="3.7" transform="rotate(-25 93.7 203.8)"/><ellipse cx="100.9" cy="203.0" rx="4.4" ry="3.4" transform="rotate(5 100.9 203.0)"/><ellipse cx="110.2" cy="203.8" rx="3.8" ry="3.1" transform="rotate(40 110.2 203.8)"/><ellipse cx="118.9" cy="202.8" rx="4.4" ry="3.9" transform="rotate(-28 118.9 202.8)"/><ellipse cx="128.2" cy="203.4" rx="4.2" ry="3.0" transform="rotate(-37 128.2 203.4)"/><ellipse cx="138.0" cy="204.6" rx="4.2" ry="3.7" transform="rotate(-19 138.0 204.6)"/><ellipse cx="146.3" cy="203.6" rx="4.7" ry="3.9" transform="rotate(26 146.3 203.6)"/><ellipse cx="155.5" cy="203.2" rx="3.6" ry="3.2" transform="rotate(-26 155.5 203.2)"/></g>
<path d="M39.30,23.50 C40.42,26.42 43.93,35.12 46.00,41.00 C48.07,46.88 50.12,53.47 51.70,58.80 C53.28,64.13 54.37,68.13 55.50,73.00 C56.63,77.87 57.65,83.50 58.50,88.00 C59.35,92.50 60.07,96.33 60.60,100.00 C61.13,103.67 61.37,105.00 61.70,110.00 C62.03,115.00 62.35,123.33 62.60,130.00 C62.85,136.67 63.05,142.50 63.20,150.00 C63.35,157.50 63.42,165.63 63.50,175.00 C63.58,184.37 63.67,201.00 63.70,206.20" fill="none" stroke="#f7cf93" stroke-width="2.4" transform="translate(1.5,0)"/>
<path d="M13.50,23.50 C14.58,26.42 17.77,35.12 20.00,41.00 C22.23,46.88 25.07,53.47 26.90,58.80 C28.73,64.13 29.78,68.13 31.00,73.00 C32.22,77.87 33.12,83.17 34.20,88.00 C35.28,92.83 36.53,97.50 37.50,102.00 C38.47,106.50 39.08,110.00 40.00,115.00 C40.92,120.00 42.17,126.17 43.00,132.00 C43.83,137.83 44.33,144.50 45.00,150.00 C45.67,155.50 46.42,160.00 47.00,165.00 C47.58,170.00 48.08,175.50 48.50,180.00 C48.92,184.50 49.18,187.63 49.50,192.00 C49.82,196.37 50.25,203.83 50.40,206.20 L63.7,206.2 L63.5,175 L63.2,150 L62.6,130 L61.7,110 L60.6,100 L58.5,88 L55.5,73 L51.7,58.8 L46,41 L39.3,23.5 Z" fill="#c98f94" stroke="#b27780" stroke-width="0.7"/>
<clipPath id="muscclip"><path d="M13.50,23.50 C14.58,26.42 17.77,35.12 20.00,41.00 C22.23,46.88 25.07,53.47 26.90,58.80 C28.73,64.13 29.78,68.13 31.00,73.00 C32.22,77.87 33.12,83.17 34.20,88.00 C35.28,92.83 36.53,97.50 37.50,102.00 C38.47,106.50 39.08,110.00 40.00,115.00 C40.92,120.00 42.17,126.17 43.00,132.00 C43.83,137.83 44.33,144.50 45.00,150.00 C45.67,155.50 46.42,160.00 47.00,165.00 C47.58,170.00 48.08,175.50 48.50,180.00 C48.92,184.50 49.18,187.63 49.50,192.00 C49.82,196.37 50.25,203.83 50.40,206.20 L63.7,206.2 L63.5,175 L63.2,150 L62.6,130 L61.7,110 L60.6,100 L58.5,88 L55.5,73 L51.7,58.8 L46,41 L39.3,23.5 Z"/></clipPath>
<g clip-path="url(#muscclip)" fill="none" stroke="#e2b8bb" stroke-width="0.4" opacity="0.8"><path d="M20.96,23.50 C22.19,26.42 25.94,35.12 28.30,41.00 C30.66,46.88 33.34,53.47 35.12,58.80 C36.89,64.13 37.86,68.13 38.97,73.00 C40.07,77.87 40.58,83.17 41.75,88.00 C42.91,92.83 44.84,97.50 45.97,102.00 C47.09,106.50 47.65,110.00 48.49,115.00 C49.33,120.00 50.27,126.17 51.02,132.00 C51.77,137.83 52.42,144.50 53.01,150.00 C53.60,155.50 54.13,160.00 54.58,165.00 C55.03,170.00 55.25,175.50 55.71,180.00 C56.16,184.50 56.82,187.63 57.29,192.00 C57.77,196.37 58.33,203.83 58.54,206.20"/><path d="M24.41,23.50 C25.69,26.42 29.79,35.12 32.07,41.00 C34.35,46.88 36.39,53.47 38.07,58.80 C39.76,64.13 41.01,68.13 42.17,73.00 C43.34,77.87 43.78,83.17 45.07,88.00 C46.36,92.83 48.74,97.50 49.90,102.00 C51.05,106.50 51.10,110.00 51.98,115.00 C52.87,120.00 54.40,126.17 55.20,132.00 C56.00,137.83 56.34,144.50 56.79,150.00 C57.23,155.50 57.35,160.00 57.85,165.00 C58.36,170.00 59.29,175.50 59.83,180.00 C60.37,184.50 60.84,187.63 61.10,192.00 C61.36,196.37 61.34,203.83 61.39,206.20"/><path d="M29.42,23.50 C30.35,26.42 32.97,35.12 34.99,41.00 C37.01,46.88 39.59,53.47 41.55,58.80 C43.50,64.13 45.50,68.13 46.71,73.00 C47.92,77.87 47.69,83.17 48.80,88.00 C49.91,92.83 52.33,97.50 53.38,102.00 C54.44,106.50 54.31,110.00 55.13,115.00 C55.94,120.00 57.48,126.17 58.28,132.00 C59.09,137.83 59.30,144.50 59.95,150.00 C60.60,155.50 61.63,160.00 62.18,165.00 C62.72,170.00 62.90,175.50 63.20,180.00 C63.50,184.50 63.46,187.63 63.96,192.00 C64.46,196.37 65.81,203.83 66.19,206.20"/><path d="M31.88,23.50 C33.10,26.42 37.02,35.12 39.25,41.00 C41.47,46.88 43.35,53.47 45.23,58.80 C47.12,64.13 49.15,68.13 50.55,73.00 C51.95,77.87 52.60,83.17 53.63,88.00 C54.66,92.83 55.78,97.50 56.71,102.00 C57.64,106.50 58.35,110.00 59.22,115.00 C60.09,120.00 61.10,126.17 61.93,132.00 C62.75,137.83 63.62,144.50 64.17,150.00 C64.71,155.50 64.68,160.00 65.20,165.00 C65.71,170.00 66.66,175.50 67.26,180.00 C67.87,184.50 68.58,187.63 68.82,192.00 C69.07,196.37 68.74,203.83 68.72,206.20"/><path d="M36.58,23.50 C37.65,26.42 40.92,35.12 43.02,41.00 C45.12,46.88 47.46,53.47 49.16,58.80 C50.85,64.13 51.96,68.13 53.18,73.00 C54.41,77.87 55.43,83.17 56.52,88.00 C57.61,92.83 58.61,97.50 59.72,102.00 C60.83,106.50 62.27,110.00 63.19,115.00 C64.11,120.00 64.64,126.17 65.22,132.00 C65.79,137.83 66.05,144.50 66.64,150.00 C67.23,155.50 67.98,160.00 68.75,165.00 C69.52,170.00 70.59,175.50 71.25,180.00 C71.91,184.50 72.43,187.63 72.69,192.00 C72.95,196.37 72.78,203.83 72.79,206.20"/><path d="M20.0,24.0 l7.0,5.2 l7.0,-0.7"/><path d="M21.2,31.2 l7.4,5.2 l6.5,-0.9"/><path d="M22.4,38.4 l5.7,4.4 l7.7,0.1"/><path d="M23.7,45.6 l7.4,4.2 l4.4,-1.6"/><path d="M24.9,52.8 l8.3,6.1 l5.5,2.1"/><path d="M26.1,60.0 l7.7,6.6 l7.8,0.4"/><path d="M27.3,67.2 l9.0,6.8 l6.4,3.3"/><path d="M28.6,74.4 l7.0,4.5 l5.0,3.3"/><path d="M29.8,81.6 l5.6,3.3 l7.2,2.6"/><path d="M31.0,88.8 l6.9,6.3 l4.2,-0.5"/><path d="M32.2,96.0 l6.2,4.7 l4.7,-1.6"/><path d="M33.5,103.2 l6.4,6.6 l7.9,2.5"/><path d="M34.7,110.4 l6.9,4.0 l7.8,1.2"/><path d="M35.9,117.6 l7.9,3.1 l4.8,3.0"/><path d="M37.1,124.8 l8.2,6.5 l6.4,0.6"/><path d="M38.4,132.0 l7.3,6.4 l5.2,1.2"/><path d="M39.6,139.2 l6.1,6.1 l4.0,2.1"/><path d="M40.8,146.4 l8.8,3.1 l6.4,1.9"/><path d="M42.0,153.6 l8.4,5.3 l5.0,0.4"/><path d="M43.3,160.8 l8.8,6.6 l4.5,-1.4"/><path d="M44.5,168.0 l5.4,3.1 l5.8,-1.2"/><path d="M45.7,175.2 l8.5,5.6 l4.5,1.2"/><path d="M46.9,182.4 l6.3,5.0 l4.9,-1.0"/><path d="M48.2,189.6 l5.7,4.5 l6.8,1.3"/><path d="M49.4,196.8 l5.2,5.8 l7.5,2.6"/><path d="M50.6,204.0 l8.2,3.0 l5.9,-1.6"/></g>
<g clip-path="url(#muscclip)" fill="#d9d0bf" stroke="#ad9f8f" stroke-width="0.6"><ellipse cx="20.7" cy="27.5" rx="4.6" ry="6.2" transform="rotate(-20 20.7 27.5)"/><ellipse cx="30.6" cy="55.3" rx="5.3" ry="10.2" transform="rotate(-17 30.6 55.3)"/><ellipse cx="39.8" cy="89.4" rx="5.2" ry="10.0" transform="rotate(-14 39.8 89.4)"/><ellipse cx="48.4" cy="124.0" rx="5.1" ry="10.0" transform="rotate(-10 48.4 124.0)"/><ellipse cx="54.6" cy="168.6" rx="5.0" ry="9.6" transform="rotate(-6 54.6 168.6)"/><ellipse cx="55.9" cy="201.0" rx="4.8" ry="7.0" transform="rotate(-4 55.9 201.0)"/></g>
<g fill="none" stroke="#fff1dc" stroke-width="1.3" stroke-linecap="round" opacity="0.9"><path d="M112,104 Q134.0,114.55 156,123.5"/><path d="M122,112 Q139.0,118.55 156,123.5"/><path d="M126,121 Q141.0,123.05 156,123.5"/><path d="M128,129 Q142.0,127.05 156,123.5"/><path d="M124,136 Q140.0,130.55 156,123.5"/><path d="M133,143 Q144.5,134.05 156,123.5"/><path d="M118,142 Q137.0,133.55 156,123.5"/><path d="M138,112 Q147.0,118.55 156,123.5"/></g>
<g fill="#f0ba8c" stroke="#e5ab7b" stroke-width="0.4"><path d="M81.65,87.76 C82.42,89.54 83.24,91.97 83.36,93.67 C83.49,95.36 82.69,96.48 82.40,97.93 C82.11,99.39 82.25,101.58 81.63,102.42 C81.01,103.26 79.72,103.27 78.67,102.97 C77.62,102.68 76.46,101.48 75.31,100.65 C74.16,99.83 72.72,99.44 71.76,98.02 C70.81,96.60 70.19,94.06 69.59,92.15 C69.00,90.24 68.51,88.45 68.17,86.58 C67.84,84.71 67.29,82.20 67.60,80.91 C67.91,79.63 69.22,79.54 70.01,78.87 C70.79,78.20 71.35,77.00 72.30,76.90 C73.25,76.80 74.63,77.25 75.71,78.27 C76.78,79.29 77.77,81.43 78.76,83.01 C79.75,84.59 80.88,85.99 81.65,87.76Z"/><path d="M122.68,113.70 C121.61,114.84 120.81,116.19 119.01,116.64 C117.21,117.08 114.59,117.39 111.88,116.38 C109.17,115.38 105.77,112.47 102.74,110.60 C99.70,108.73 96.23,107.34 93.66,105.16 C91.09,102.98 88.65,99.84 87.33,97.51 C86.01,95.18 86.27,93.35 85.72,91.20 C85.18,89.05 83.30,85.84 84.07,84.61 C84.84,83.37 88.08,83.73 90.35,83.78 C92.62,83.83 95.01,84.25 97.71,84.93 C100.41,85.60 103.76,86.11 106.52,87.84 C109.29,89.58 111.81,92.89 114.31,95.33 C116.82,97.77 119.72,100.07 121.57,102.48 C123.42,104.89 125.22,107.92 125.40,109.79 C125.59,111.66 123.74,112.56 122.68,113.70Z"/><path d="M99.08,116.24 C98.49,117.11 96.80,117.47 95.65,118.11 C94.49,118.76 93.84,119.98 92.16,120.11 C90.48,120.24 87.67,119.43 85.54,118.87 C83.42,118.31 81.47,117.58 79.41,116.76 C77.35,115.94 74.51,115.05 73.19,113.97 C71.86,112.89 71.97,111.47 71.47,110.28 C70.97,109.09 70.08,107.87 70.17,106.84 C70.25,105.81 70.73,104.57 72.00,104.09 C73.28,103.61 75.90,104.05 77.80,103.97 C79.70,103.90 81.38,103.31 83.39,103.64 C85.39,103.98 87.99,105.04 89.84,105.98 C91.69,106.93 92.90,108.17 94.46,109.32 C96.03,110.47 98.45,111.72 99.22,112.87 C99.99,114.03 99.68,115.37 99.08,116.24Z"/><path d="M89.35,128.77 C89.41,129.66 89.90,130.83 89.32,131.55 C88.74,132.27 87.10,132.72 85.89,133.09 C84.67,133.46 83.40,133.63 82.04,133.79 C80.67,133.94 78.95,134.34 77.70,134.03 C76.45,133.72 75.53,132.63 74.53,131.93 C73.54,131.23 72.38,130.65 71.71,129.85 C71.05,129.05 70.39,127.96 70.57,127.13 C70.74,126.30 72.08,125.65 72.78,124.89 C73.48,124.14 73.75,123.08 74.77,122.59 C75.79,122.09 77.52,121.90 78.88,121.92 C80.25,121.93 81.57,122.42 82.96,122.69 C84.35,122.97 86.23,122.98 87.23,123.56 C88.24,124.15 88.64,125.34 88.99,126.21 C89.34,127.08 89.30,127.88 89.35,128.77Z"/><path d="M87.44,144.00 C87.49,145.26 87.90,146.71 87.50,147.84 C87.10,148.96 86.04,150.09 85.07,150.75 C84.09,151.41 82.83,151.43 81.67,151.78 C80.51,152.13 79.19,153.05 78.10,152.83 C77.01,152.62 75.99,151.34 75.15,150.47 C74.30,149.59 73.62,148.65 73.01,147.58 C72.40,146.50 71.43,145.17 71.46,144.00 C71.50,142.83 72.64,141.65 73.22,140.53 C73.80,139.41 74.13,138.14 74.95,137.28 C75.77,136.41 77.03,135.52 78.14,135.35 C79.26,135.19 80.47,136.01 81.66,136.29 C82.84,136.57 84.30,136.36 85.23,137.03 C86.16,137.69 86.87,139.14 87.24,140.30 C87.60,141.46 87.40,142.74 87.44,144.00Z"/><path d="M110.09,150.42 C110.24,151.53 109.79,152.72 109.46,153.95 C109.13,155.18 109.26,156.71 108.11,157.82 C106.96,158.92 104.40,159.73 102.58,160.57 C100.75,161.41 99.07,162.29 97.18,162.84 C95.29,163.38 92.81,164.05 91.26,163.87 C89.71,163.68 89.03,162.41 87.89,161.73 C86.74,161.04 84.92,160.71 84.39,159.77 C83.85,158.84 84.03,157.33 84.67,156.13 C85.31,154.92 87.03,153.76 88.23,152.54 C89.42,151.32 90.24,149.67 91.84,148.79 C93.44,147.91 95.93,147.56 97.82,147.25 C99.71,146.94 101.40,146.92 103.18,146.92 C104.97,146.93 107.38,146.70 108.53,147.28 C109.68,147.87 109.93,149.31 110.09,150.42Z"/><path d="M130.12,141.86 C130.84,142.43 132.21,142.88 131.93,143.99 C131.66,145.10 129.70,147.06 128.46,148.54 C127.21,150.01 126.03,151.39 124.48,152.82 C122.93,154.26 120.93,156.16 119.16,157.13 C117.39,158.09 115.60,158.11 113.85,158.61 C112.11,159.11 110.03,160.08 108.69,160.12 C107.35,160.17 106.13,159.70 105.81,158.89 C105.49,158.07 106.50,156.45 106.79,155.24 C107.08,154.02 106.60,152.96 107.55,151.61 C108.50,150.26 110.74,148.48 112.47,147.15 C114.19,145.81 116.02,144.77 117.91,143.60 C119.80,142.43 122.20,140.65 123.82,140.15 C125.44,139.65 126.57,140.30 127.62,140.59 C128.67,140.87 129.41,141.29 130.12,141.86Z"/><path d="M125.12,125.10 C125.25,125.51 125.04,126.08 124.73,126.51 C124.42,126.93 123.77,127.27 123.26,127.66 C122.76,128.05 122.35,128.64 121.71,128.86 C121.07,129.09 120.14,129.01 119.43,128.99 C118.71,128.97 118.07,128.90 117.42,128.76 C116.76,128.63 115.85,128.53 115.51,128.20 C115.16,127.88 115.41,127.27 115.37,126.82 C115.33,126.37 115.12,125.94 115.28,125.49 C115.45,125.05 115.83,124.49 116.37,124.15 C116.91,123.82 117.80,123.73 118.51,123.50 C119.22,123.27 119.92,122.83 120.62,122.77 C121.31,122.71 122.11,122.93 122.67,123.14 C123.23,123.35 123.57,123.72 123.98,124.05 C124.39,124.38 125.00,124.69 125.12,125.10Z"/><path d="M81.91,155.50 C81.87,155.94 81.78,156.35 81.63,156.77 C81.48,157.18 81.33,157.75 80.99,158.00 C80.66,158.25 80.07,158.17 79.63,158.24 C79.18,158.32 78.75,158.52 78.32,158.47 C77.89,158.42 77.36,158.23 77.05,157.94 C76.75,157.65 76.69,157.12 76.48,156.71 C76.28,156.30 75.87,155.92 75.84,155.50 C75.81,155.08 76.07,154.57 76.30,154.20 C76.53,153.83 76.90,153.58 77.23,153.28 C77.56,152.97 77.88,152.47 78.29,152.37 C78.69,152.27 79.21,152.56 79.64,152.70 C80.07,152.83 80.47,152.95 80.84,153.19 C81.21,153.43 81.69,153.73 81.87,154.12 C82.04,154.50 81.95,155.06 81.91,155.50Z"/><path d="M100.40,161.50 C100.37,161.82 100.34,162.13 100.22,162.44 C100.09,162.74 99.94,163.15 99.65,163.33 C99.37,163.50 98.89,163.44 98.52,163.50 C98.15,163.57 97.78,163.74 97.43,163.70 C97.07,163.66 96.65,163.49 96.39,163.27 C96.14,163.05 96.07,162.69 95.90,162.39 C95.73,162.09 95.37,161.81 95.35,161.50 C95.33,161.19 95.58,160.83 95.77,160.56 C95.97,160.28 96.24,160.08 96.51,159.86 C96.78,159.63 97.07,159.27 97.40,159.21 C97.74,159.14 98.17,159.36 98.53,159.46 C98.89,159.56 99.24,159.62 99.55,159.79 C99.86,159.96 100.24,160.21 100.38,160.49 C100.52,160.78 100.43,161.18 100.40,161.50Z"/><path d="M134.36,135.50 C134.41,135.83 134.24,136.23 134.08,136.64 C133.92,137.05 133.92,137.53 133.40,137.98 C132.89,138.42 131.79,138.89 131.01,139.31 C130.22,139.73 129.50,140.17 128.70,140.50 C127.89,140.84 126.84,141.24 126.19,141.31 C125.55,141.38 125.29,141.04 124.82,140.93 C124.34,140.82 123.55,140.88 123.35,140.63 C123.15,140.39 123.31,139.88 123.60,139.44 C123.90,139.01 124.62,138.51 125.14,138.02 C125.66,137.54 126.05,136.94 126.75,136.53 C127.44,136.12 128.49,135.82 129.30,135.55 C130.10,135.29 130.83,135.11 131.58,134.96 C132.33,134.81 133.34,134.55 133.80,134.64 C134.27,134.73 134.32,135.16 134.36,135.50Z"/></g>
<g fill="none" stroke="#f0bd8c" stroke-width="0.9" stroke-linecap="round"><path d="M120,108 Q138.5,116.5 157,123"/><path d="M128,118 Q142.5,121.75 157,123.5"/><path d="M132,127 Q144.5,126.5 157,124"/><path d="M130,133 Q143.5,129.75 157,124.5"/><path d="M136,140 Q146.5,133.5 157,125"/><path d="M118,122 Q137.5,123.6 157,123.2"/><path d="M140,117 Q148.5,121.0 157,123"/></g>
<path d="M116.67,134.50 C116.67,135.67 115.17,136.78 114.77,138.02 C114.38,139.25 115.00,140.94 114.31,141.92 C113.62,142.91 111.71,143.09 110.65,143.93 C109.60,144.78 109.13,146.50 107.98,146.99 C106.82,147.47 105.11,146.67 103.72,146.85 C102.34,147.04 100.94,148.26 99.68,148.09 C98.43,147.92 97.45,146.39 96.18,145.85 C94.91,145.32 93.02,145.64 92.06,144.87 C91.10,144.11 91.18,142.33 90.43,141.25 C89.67,140.16 87.89,139.49 87.53,138.37 C87.17,137.24 88.28,135.79 88.28,134.50 C88.28,133.21 87.17,131.76 87.53,130.63 C87.89,129.51 89.67,128.84 90.43,127.75 C91.18,126.67 91.10,124.89 92.06,124.13 C93.02,123.36 94.91,123.68 96.18,123.15 C97.45,122.61 98.43,121.08 99.68,120.91 C100.94,120.74 102.34,121.96 103.72,122.15 C105.11,122.33 106.82,121.53 107.98,122.01 C109.13,122.50 109.60,124.22 110.65,125.07 C111.71,125.91 113.62,126.09 114.31,127.08 C115.00,128.06 114.38,129.75 114.77,130.98 C115.17,132.22 116.67,133.33 116.67,134.50Z" fill="#cf9aa3" stroke="#bb838d" stroke-width="0.6"/>
<g fill="none" stroke="#dcaab2" stroke-width="0.5"><circle cx="101.9" cy="139.7" r="2.7"/><circle cx="97.0" cy="131.4" r="2.3"/><circle cx="109.0" cy="135.4" r="2.6"/><circle cx="102.4" cy="143.7" r="2.9"/><circle cx="103.7" cy="131.1" r="3.1"/><circle cx="104.8" cy="139.4" r="3.4"/><circle cx="94.9" cy="133.8" r="3.1"/><circle cx="107.8" cy="137.5" r="3.0"/><circle cx="101.4" cy="135.1" r="3.4"/><circle cx="95.1" cy="135.9" r="3.4"/><circle cx="99.6" cy="126.7" r="2.8"/><circle cx="102.8" cy="131.0" r="3.5"/><circle cx="102.1" cy="134.2" r="2.4"/><circle cx="103.3" cy="143.3" r="2.8"/></g>
<g fill="none" stroke="#444" stroke-width="0.8" stroke-dasharray="2.6 1.8"><line x1="110.4" y1="149" x2="180.6" y2="165.8"/><line x1="110.4" y1="149" x2="145.1" y2="207.8"/></g>
<circle cx="176.6" cy="198" r="32.3" fill="#fff" stroke="#3a3a3a" stroke-width="0.8"/>
<path d="M185.82,217.30 L184.92,218.51 L185.76,220.05 L184.12,220.78 L184.23,222.34 L182.77,222.77 L182.18,224.02 L180.79,224.15 L179.98,225.54 L178.53,225.07 L177.30,225.54 L176.12,224.76 L174.76,225.13 L173.72,224.32 L172.18,224.35 L172.08,222.52 L170.06,222.56 L170.19,220.92 L169.04,219.98 L169.64,218.51 L169.01,217.30 L170.02,216.15 L169.14,214.65 L170.71,213.94 L170.58,212.41 L171.99,211.99 L172.49,210.68 L173.82,210.48 L174.67,209.20 L176.06,209.50 L177.30,208.72 L178.52,209.63 L179.95,209.16 L180.83,210.36 L182.31,210.40 L182.63,211.97 L184.55,212.03 L184.43,213.67 L185.70,214.57 L185.02,216.08Z" fill="#e6bcc0" stroke="#e6bcc0" stroke-width="0.3"/>
<circle cx="177.9" cy="217.9" r="3.4" fill="#e0b0b5"/>
<path d="M168.99,182.00 L168.04,183.12 L168.58,184.46 L167.27,185.19 L167.74,186.90 L166.12,187.12 L165.93,188.79 L164.28,188.44 L163.62,190.07 L162.17,189.41 L161.00,189.75 L159.89,189.03 L158.39,190.03 L157.70,188.48 L156.01,188.87 L155.89,187.11 L154.68,186.59 L154.43,185.35 L153.06,184.58 L153.93,183.12 L153.18,182.00 L153.89,180.87 L152.93,179.38 L154.36,178.62 L154.66,177.39 L155.95,176.95 L156.40,175.67 L157.81,175.74 L158.42,174.05 L159.89,174.99 L161.00,173.82 L162.14,174.83 L163.44,174.49 L164.38,175.37 L165.62,175.65 L166.22,176.78 L167.34,177.39 L167.46,178.71 L168.53,179.55 L168.07,180.88Z" fill="#e2b4b9" stroke="#e2b4b9" stroke-width="0.3"/>
<path d="M202.00,188.50 L201.13,189.42 L201.29,190.45 L200.60,191.20 L200.35,192.17 L199.34,192.54 L199.20,193.87 L197.95,193.69 L197.21,194.38 L196.24,194.42 L195.30,194.75 L194.42,194.07 L193.27,194.76 L192.72,193.56 L191.60,193.60 L191.37,192.43 L190.31,192.13 L190.13,191.13 L189.34,190.44 L189.56,189.41 L188.96,188.50 L189.63,187.60 L188.93,186.43 L190.17,185.89 L190.07,184.70 L191.10,184.30 L191.64,183.46 L192.76,183.52 L193.24,182.16 L194.38,182.66 L195.30,182.23 L196.18,182.96 L197.33,182.26 L198.01,183.18 L198.97,183.45 L199.53,184.27 L200.68,184.59 L200.48,185.86 L201.36,186.53 L200.80,187.63Z" fill="#e4b8bc" stroke="#e4b8bc" stroke-width="0.3"/>
<path d="M191.64,176.00 L191.41,176.94 L191.46,177.94 L190.72,178.66 L190.58,179.69 L189.68,180.18 L189.31,181.24 L188.07,181.04 L187.42,181.92 L186.42,181.79 L185.50,182.16 L184.62,181.56 L183.51,182.14 L182.81,181.28 L181.69,181.25 L181.50,180.00 L180.10,179.92 L180.49,178.55 L179.67,177.89 L179.92,176.88 L179.11,176.00 L180.02,175.13 L179.58,174.08 L180.42,173.41 L180.27,172.20 L181.55,172.05 L181.78,170.87 L182.80,170.70 L183.43,169.62 L184.59,170.24 L185.50,169.47 L186.41,170.27 L187.42,170.10 L188.01,171.07 L189.10,171.04 L189.71,171.79 L190.79,172.16 L190.83,173.28 L191.33,174.10 L191.25,175.09Z" fill="#e6bcc0" stroke="#e6bcc0" stroke-width="0.3"/>
<path d="M185.90,180.00 L185.00,181.35 L185.30,182.86 L184.34,183.99 L183.82,185.31 L182.50,186.00 L182.16,187.79 L180.46,187.78 L179.47,189.15 L177.84,188.49 L176.50,189.67 L175.13,188.63 L173.63,188.83 L172.61,187.64 L170.76,187.90 L170.34,186.16 L168.94,185.49 L168.79,183.93 L167.24,183.01 L168.11,181.33 L166.97,180.00 L168.24,178.69 L167.48,177.07 L168.90,176.13 L169.18,174.68 L170.46,173.96 L170.71,172.03 L172.54,172.23 L173.53,170.85 L175.19,171.73 L176.50,170.38 L177.83,171.60 L179.39,171.09 L180.44,172.26 L181.82,172.68 L182.60,173.90 L183.78,174.71 L184.09,176.13 L185.44,177.10 L184.66,178.71Z" fill="#d5949b" stroke="#d5949b" stroke-width="0.3"/>
<circle cx="177.1" cy="180.6" r="3.7" fill="#c98890"/>
<path d="M170.59,205.00 L169.34,206.32 L170.05,207.94 L168.79,208.97 L168.44,210.41 L166.73,210.73 L166.43,212.48 L164.89,212.64 L163.83,213.71 L162.29,213.11 L161.00,214.77 L159.66,213.46 L158.11,213.91 L157.04,212.77 L155.55,212.49 L154.94,211.06 L153.60,210.38 L153.52,208.81 L151.79,207.99 L152.37,206.37 L151.25,205.00 L152.74,203.69 L151.98,202.07 L153.59,201.22 L153.64,199.65 L155.03,199.03 L155.29,197.14 L157.05,197.25 L158.03,195.87 L159.63,196.34 L161.00,195.78 L162.29,196.89 L163.90,196.09 L164.76,197.61 L166.39,197.59 L166.93,199.07 L168.71,199.40 L168.52,201.17 L169.80,202.14 L169.58,203.64Z" fill="#d28a92" stroke="#d28a92" stroke-width="0.3"/>
<circle cx="161.6" cy="205.6" r="3.7" fill="#c47e86"/>
<path d="M198.43,204.00 L197.21,205.05 L197.44,206.22 L196.35,206.93 L196.87,208.56 L195.17,208.57 L195.09,210.18 L193.67,210.02 L192.87,211.00 L191.68,210.80 L190.60,211.15 L189.58,210.44 L188.30,211.09 L187.67,209.75 L186.06,210.25 L185.95,208.65 L184.74,208.25 L184.84,206.94 L183.39,206.34 L183.99,205.05 L183.02,204.00 L183.88,202.94 L183.27,201.62 L184.38,200.83 L184.44,199.52 L185.97,199.37 L186.21,197.95 L187.63,198.17 L188.39,197.20 L189.55,197.38 L190.60,196.36 L191.62,197.54 L192.87,197.03 L193.61,198.09 L195.08,197.83 L195.36,199.24 L196.72,199.55 L196.72,200.88 L197.65,201.71 L197.40,202.92Z" fill="#d28a92" stroke="#d28a92" stroke-width="0.3"/>
<circle cx="191.2" cy="204.6" r="2.9" fill="#c47e86"/>
<path d="M175.66,191.30 L173.79,192.69 L175.16,194.60 L173.36,195.56 L173.02,197.13 L171.49,197.79 L171.11,199.71 L169.33,199.79 L168.14,200.96 L166.45,200.45 L165.00,201.94 L163.52,200.63 L161.69,201.47 L160.83,199.49 L158.88,199.73 L158.64,197.66 L156.52,197.46 L156.57,195.59 L155.10,194.52 L155.73,192.77 L155.00,191.30 L155.59,189.81 L154.79,187.98 L156.46,186.95 L156.66,185.24 L158.33,184.63 L159.06,183.13 L160.67,182.81 L161.72,181.21 L163.58,182.31 L165.00,181.43 L166.43,182.24 L168.19,181.48 L169.28,182.90 L171.03,183.00 L171.26,185.04 L173.55,185.09 L172.91,187.27 L175.04,188.04 L173.85,189.90Z" fill="#bb5561" stroke="#bb5561" stroke-width="0.3"/>
<circle cx="165.6" cy="191.9" r="4.0" fill="#a4414d"/>
<path d="M195.52,190.00 L194.72,191.51 L194.84,193.13 L193.34,194.15 L193.70,196.17 L191.98,196.78 L191.56,198.75 L189.54,198.51 L188.58,200.39 L186.67,199.29 L185.20,200.93 L183.78,198.97 L182.04,199.71 L180.92,198.40 L179.16,198.32 L178.42,196.78 L176.61,196.24 L176.80,194.28 L174.91,193.34 L175.86,191.48 L174.90,190.00 L176.00,188.54 L174.91,186.66 L176.54,185.59 L176.95,184.00 L178.35,183.15 L178.77,181.15 L180.92,181.60 L181.94,179.96 L183.76,180.94 L185.20,179.48 L186.67,180.71 L188.47,179.93 L189.30,181.95 L191.63,181.14 L191.86,183.34 L193.60,183.89 L193.79,185.62 L195.23,186.74 L194.49,188.53Z" fill="#bb5561" stroke="#bb5561" stroke-width="0.3"/>
<circle cx="185.8" cy="190.6" r="4.1" fill="#a4414d"/>
<path d="M188.67,205.20 L186.96,206.62 L188.01,208.45 L186.32,209.44 L186.85,211.63 L184.89,212.09 L184.03,213.50 L182.26,213.56 L181.13,214.83 L179.46,214.44 L178.00,216.00 L176.48,214.80 L174.77,215.15 L173.79,213.45 L172.01,213.44 L171.28,211.92 L169.18,211.61 L169.88,209.34 L167.77,208.52 L169.08,206.61 L167.81,205.20 L168.92,203.76 L167.85,201.90 L169.74,200.99 L169.63,199.12 L171.28,198.48 L172.06,197.03 L173.65,196.66 L174.87,195.58 L176.53,195.90 L178.00,194.96 L179.43,196.14 L181.25,195.20 L182.25,196.86 L184.09,196.82 L184.60,198.60 L186.51,199.02 L186.14,201.05 L187.70,202.05 L187.39,203.71Z" fill="#bb5561" stroke="#bb5561" stroke-width="0.3"/>
<circle cx="178.6" cy="205.8" r="4.1" fill="#a4414d"/>
<rect x="194.8" y="16.8" width="120.4" height="94.8" rx="6.5" fill="#f3f7f9" stroke="#c4cbcf" stroke-width="0.8" stroke-dasharray="1 1.1"/>
<path d="M204.7,102.8 C207,96 209.5,91 211.1,86.2 C212.5,80 213.2,73 214.6,68.7 C215.5,65 216.5,63 217.5,62.3 C219.5,60.5 221.5,59.8 223.4,59.4 C227.5,58.7 231.5,58.2 233.3,57 L233.9,51.2 L245.5,51.2 L246.1,57 C248,58.2 251.5,58.7 254.9,59.4 C257,59.8 259,60.5 260.7,61.7 C262,63 263,65 264.2,68.7 C265.5,73 266.5,80 268.3,85.1 C269.8,91 272,96 274.2,102.8 Z" fill="#ebebeb" stroke="#b4b4b4" stroke-width="0.55"/>
<path d="M222.2,79.2 C222.8,82 223.2,85 223.4,87.4 C224,93 224.6,98 225.1,102.6 M257.2,79.2 C256.5,83 256,86.5 255.5,89.7 C254.8,94 254.2,98.5 253.7,102.6" fill="none" stroke="#b4b4b4" stroke-width="0.55"/>
<path d="M227,61 Q232,62.5 237,62 M252,61 Q247,62.5 242,62 M239.4,62.5 L239.4,65 M224,89.5 Q229,91.5 233,90 M255,89.5 Q250,91.5 246,90" fill="none" stroke="#c6c6c6" stroke-width="0.45"/>
<path d="M233.6,53 Q239.5,57.5 245.8,53 L246,57 Q239.5,59 233.3,57 Z" fill="#e1e1e1"/>
<path d="M239.1,27.3 C244.6,27.3 248.5,31 248.5,37.5 C248.5,44 245.5,50.5 242.5,53 C240.5,54.6 237.7,54.6 235.7,53 C232.7,50.5 229.8,44 229.8,37.5 C229.8,31 233.6,27.3 239.1,27.3 Z" fill="#ebebeb" stroke="#b4b4b4" stroke-width="0.55"/>
<path d="M229.9,39.5 q-1.8,0.5 -1,3.5 q0.6,2 1.8,2 M248.4,39.5 q1.8,0.5 1,3.5 q-0.6,2 -1.8,2" fill="#ebebeb" stroke="#b4b4b4" stroke-width="0.5"/>
<path d="M283.2,26.3 L299.2,26.3 Q301.9,26.3 301.9,29.6 L301.9,61.5 Q302.6,63.8 300.8,65.4 L298.2,67.6 L284.3,67.6 L281.7,65.4 Q279.9,63.8 280.6,61.5 L280.6,29.6 Q280.6,26.3 283.2,26.3 Z" fill="#c6dfe7" stroke="#a6c9d5" stroke-width="0.6"/>
<path d="M281.2,38.6 L301.3,38.6 L301.3,62 Q301.3,66.6 297.5,66.6 L285,66.6 Q281.2,66.6 281.2,62 Z" fill="#a3c8d5"/>
<path d="M284.3,39.6 L297.6,39.6 L297.6,61.5 Q297.6,64.6 294.5,64.6 L287.4,64.6 Q284.3,64.6 284.3,61.5 Z" fill="#b4d4de"/>
<path d="M282.5,31.5 Q291.2,35.5 300,31.5" fill="none" stroke="#b3d3dd" stroke-width="0.6"/>
<rect x="284.8" y="35.2" width="1.6" height="20.8" fill="#e6f2f5"/>
<circle cx="291.2" cy="29.6" r="1.3" fill="#f5f9fa"/>
<rect x="288.9" y="67.4" width="1.9" height="7.9" fill="#9fc0cc"/><rect x="289" y="73.6" width="1.7" height="1.8" fill="#d9dcdd"/>
<rect x="292.8" y="67.4" width="1.9" height="7.6" fill="#8fb8c8"/>
<rect x="292.6" y="74.9" width="2.3" height="3.1" fill="#3e93c0"/>
<path d="M293.7,78 C294.2,88 293,96 288.5,99.5 C285.5,101.3 281.5,101.1 279,100.3 C276.5,99.4 274.5,98 271.5,97.2" fill="none" stroke="#76b0cb" stroke-width="0.8"/>
<path d="M262.3,98.9 l6,-3.9 l1.3,1.9 l-6,3.9 Z" fill="#5ba7cc"/>
<path d="M385.3,107.3 C385.6,105 386.2,103.5 387.1,101.8 C388.8,98.5 390.8,95.5 393.2,93.3 C395.3,91.3 397.5,89.8 399.9,88.5 C402.3,87.2 404.7,85.9 407.1,85.5 C408.8,85.2 410.5,85.5 412,86.1 L420,88.5 C421.8,89 423.5,89.6 425.3,90.3 C427.8,91.2 430,91.8 432.6,92.1 L447.1,92.7 C449.3,92.8 450.8,93.6 450.8,95.5 L450.8,109.1 C450.8,110.6 449.5,111.4 447.7,111.5 L432.6,112.7 C430,113.3 427.6,114.6 425.3,115.1 C422.5,115.6 419.5,114.9 416.8,114.5 C414,114 411.2,113 408.4,112.7 L398.7,111.5 C397.5,111 396.8,110 396.2,109.1 L390.2,109.1 C388.4,108.7 386.7,108.2 385.3,107.3 Z" fill="#7b9bcb"/>
<line x1="422.6" y1="88.2" x2="404.5" y2="102" stroke="#ffffff" stroke-width="5.6" stroke-linecap="round"/>
<line x1="422.6" y1="88.2" x2="404.5" y2="102" stroke="#4a5a8e" stroke-width="4.0" stroke-linecap="round"/>
<path d="M396.5,108.5 C398,106 399.5,104.6 402,104 C410,103.6 416,101.5 422,97.2" fill="none" stroke="#ffffff" stroke-width="0.9"/>
<path d="M397.5,101.2 C399.5,99.4 401.3,99 403.4,99.5" fill="none" stroke="#ffffff" stroke-width="0.8"/>
<line x1="399.6" y1="106.4" x2="391.4" y2="113.9" stroke="#4a5a8e" stroke-width="3.0" stroke-linecap="round"/>
<path d="M391.6,113.9 C388,118 383,122.6 376.2,126.8 C380.5,126.6 385,124.6 388.6,121.6 C390.8,119.6 392.6,117.4 393.6,115.4 Z" fill="#4a5a8e"/>
<path d="M417.23,145.00 C417.23,145.89 416.16,146.74 415.95,147.68 C415.74,148.61 416.35,149.80 415.97,150.61 C415.58,151.43 414.24,151.79 413.64,152.56 C413.05,153.34 413.09,154.65 412.39,155.25 C411.69,155.85 410.30,155.67 409.43,156.15 C408.55,156.62 408.02,157.84 407.12,158.12 C406.22,158.39 405.04,157.70 404.03,157.80 C403.02,157.90 402.01,158.81 401.07,158.72 C400.13,158.63 399.35,157.54 398.38,157.24 C397.42,156.94 396.10,157.39 395.29,156.95 C394.47,156.50 394.22,155.20 393.47,154.56 C392.71,153.92 391.32,153.83 390.76,153.11 C390.21,152.39 390.54,151.11 390.13,150.23 C389.72,149.36 388.49,148.74 388.29,147.87 C388.09,147.00 388.95,145.96 388.95,145.00 C388.95,144.04 388.09,143.00 388.29,142.13 C388.49,141.26 389.72,140.64 390.13,139.77 C390.54,138.89 390.21,137.61 390.76,136.89 C391.32,136.17 392.71,136.08 393.47,135.44 C394.22,134.80 394.47,133.50 395.29,133.05 C396.10,132.61 397.42,133.06 398.38,132.76 C399.35,132.46 400.13,131.37 401.07,131.28 C402.01,131.19 403.02,132.10 404.03,132.20 C405.04,132.30 406.22,131.61 407.12,131.88 C408.02,132.16 408.55,133.38 409.43,133.85 C410.30,134.33 411.69,134.15 412.39,134.75 C413.09,135.35 413.05,136.66 413.64,137.44 C414.24,138.21 415.58,138.57 415.97,139.39 C416.35,140.20 415.74,141.39 415.95,142.32 C416.16,143.26 417.23,144.11 417.23,145.00Z" fill="#d89b9e" stroke="#cc8e91" stroke-width="0.4"/>
<g fill="none" stroke="#e0aeb0" stroke-width="0.45"><circle cx="397.8" cy="140.3" r="3.7"/><circle cx="408.8" cy="142.6" r="3.9"/><circle cx="406.7" cy="145.8" r="3.9"/><circle cx="397.8" cy="138.5" r="2.7"/><circle cx="400.4" cy="145.4" r="3.3"/><circle cx="402.5" cy="144.9" r="2.8"/><circle cx="401.1" cy="153.1" r="3.6"/><circle cx="406.5" cy="151.0" r="2.7"/><circle cx="401.8" cy="144.2" r="2.5"/><circle cx="403.9" cy="143.6" r="2.8"/><circle cx="410.4" cy="144.1" r="2.9"/><circle cx="407.3" cy="143.8" r="3.5"/></g>
<path d="M187.9,131.8 L333.3,131.8 L333.3,124.8 L352.8,134.9 L333.3,145.0 L333.3,138.4 L187.9,138.4 Z" fill="#8a9cbd"/>
<rect x="456.9" y="132.3" width="145.8" height="5.9" fill="#8a9dbe"/>
<circle cx="602.7" cy="135.2" r="6.9" fill="#8a9dbe"/>
<path d="M162.58,55.82 L162.58,93.13 A4.77,4.77 0 0 0 172.12,93.13 L172.12,55.82 Z" fill="#f1f1f1" stroke="#c9c9c9" stroke-width="0.5"/>
<rect x="163.18" y="60.72" width="8.35" height="16.50" fill="#e1b03f"/>
<path d="M163.18,78.10 L163.18,93.13 A4.17,4.17 0 0 0 171.52,93.13 L171.52,78.10 Z" fill="#b9505a"/>
<circle cx="168.73" cy="83.05" r="1.26" fill="none" stroke="#dd8f98" stroke-width="0.6"/>
<circle cx="166.78" cy="89.98" r="1.38" fill="none" stroke="#dd8f98" stroke-width="0.6"/>
<circle cx="168.50" cy="92.36" r="1.26" fill="none" stroke="#dd8f98" stroke-width="0.6"/>
<path d="M169.65,62.72 l-1,4 l1.2,3 l-1.5,4" fill="none" stroke="#4a6a70" stroke-width="0.8"/>
<circle cx="165.62" cy="65.67" r="0.6" fill="#fff6d8"/>
<circle cx="166.78" cy="71.44" r="0.6" fill="#fff6d8"/>
<path d="M161.60,44.10 Q161.60,42.90 162.80,42.90 L171.90,42.90 Q173.10,42.90 173.10,44.10 L172.90,55.82 L161.80,55.82 Z" fill="#e8743e" stroke="#d2622e" stroke-width="0.4"/>
<rect x="166.43" y="46.78" width="1.84" height="6.46" fill="#d9652f" opacity="0.6"/>
<path d="M342.59,56.08 L342.59,92.89 A4.81,4.81 0 0 0 352.21,92.89 L352.21,56.08 Z" fill="#f1f1f1" stroke="#c9c9c9" stroke-width="0.5"/>
<rect x="343.19" y="60.93" width="8.43" height="16.32" fill="#e1b03f"/>
<path d="M343.19,78.12 L343.19,92.89 A4.21,4.21 0 0 0 351.61,92.89 L351.61,78.12 Z" fill="#b9505a"/>
<circle cx="348.79" cy="83.01" r="1.28" fill="none" stroke="#dd8f98" stroke-width="0.6"/>
<circle cx="346.82" cy="89.87" r="1.39" fill="none" stroke="#dd8f98" stroke-width="0.6"/>
<circle cx="348.56" cy="92.22" r="1.28" fill="none" stroke="#dd8f98" stroke-width="0.6"/>
<path d="M349.72,62.93 l-1,4 l1.2,3 l-1.5,4" fill="none" stroke="#4a6a70" stroke-width="0.8"/>
<circle cx="345.66" cy="65.82" r="0.6" fill="#fff6d8"/>
<circle cx="346.82" cy="71.53" r="0.6" fill="#fff6d8"/>
<path d="M341.60,44.50 Q341.60,43.30 342.80,43.30 L352.00,43.30 Q353.20,43.30 353.20,44.50 L353.00,56.08 L341.80,56.08 Z" fill="#e8743e" stroke="#d2622e" stroke-width="0.4"/>
<rect x="346.47" y="47.14" width="1.86" height="6.39" fill="#d9652f" opacity="0.6"/>
<path d="M463.82,55.77 L463.82,93.02 A4.98,4.98 0 0 0 473.78,93.02 L473.78,55.77 Z" fill="#f1f1f1" stroke="#c9c9c9" stroke-width="0.5"/>
<rect x="464.42" y="60.68" width="8.76" height="16.56" fill="#e1b03f"/>
<path d="M464.42,78.13 L464.42,93.02 A4.38,4.38 0 0 0 473.18,93.02 L473.18,78.13 Z" fill="#b9505a"/>
<circle cx="470.24" cy="83.10" r="1.32" fill="none" stroke="#dd8f98" stroke-width="0.6"/>
<circle cx="468.20" cy="90.05" r="1.44" fill="none" stroke="#dd8f98" stroke-width="0.6"/>
<circle cx="470.00" cy="92.44" r="1.32" fill="none" stroke="#dd8f98" stroke-width="0.6"/>
<path d="M471.20,62.68 l-1,4 l1.2,3 l-1.5,4" fill="none" stroke="#4a6a70" stroke-width="0.8"/>
<circle cx="467.00" cy="65.65" r="0.6" fill="#fff6d8"/>
<circle cx="468.20" cy="71.45" r="0.6" fill="#fff6d8"/>
<path d="M462.80,44.00 Q462.80,42.80 464.00,42.80 L473.60,42.80 Q474.80,42.80 474.80,44.00 L474.60,55.77 L463.00,55.77 Z" fill="#e8743e" stroke="#d2622e" stroke-width="0.4"/>
<rect x="467.84" y="46.69" width="1.92" height="6.49" fill="#d9652f" opacity="0.6"/>
<path d="M517.99,84.69 L517.99,111.74 A3.86,3.86 0 0 0 525.71,111.74 L525.71,84.69 Z" fill="#f1f1f1" stroke="#c9c9c9" stroke-width="0.5"/>
<rect x="518.59" y="88.29" width="6.52" height="12.12" fill="#e1b03f"/>
<path d="M518.59,101.06 L518.59,111.74 A3.26,3.26 0 0 0 525.11,111.74 L525.11,101.06 Z" fill="#b9505a"/>
<circle cx="522.97" cy="104.69" r="1.02" fill="none" stroke="#dd8f98" stroke-width="0.6"/>
<circle cx="521.38" cy="109.78" r="1.12" fill="none" stroke="#dd8f98" stroke-width="0.6"/>
<circle cx="522.78" cy="111.53" r="1.02" fill="none" stroke="#dd8f98" stroke-width="0.6"/>
<path d="M523.71,90.29 l-1,4 l1.2,3 l-1.5,4" fill="none" stroke="#4a6a70" stroke-width="0.8"/>
<circle cx="520.46" cy="91.93" r="0.6" fill="#fff6d8"/>
<circle cx="521.38" cy="96.17" r="0.6" fill="#fff6d8"/>
<path d="M517.20,76.40 Q517.20,75.20 518.40,75.20 L525.30,75.20 Q526.50,75.20 526.50,76.40 L526.30,84.69 L517.40,84.69 Z" fill="#e8743e" stroke="#d2622e" stroke-width="0.4"/>
<rect x="521.11" y="78.05" width="1.49" height="4.75" fill="#d9652f" opacity="0.6"/>
<path d="M538.49,84.69 L538.49,111.74 A3.86,3.86 0 0 0 546.21,111.74 L546.21,84.69 Z" fill="#f1f1f1" stroke="#c9c9c9" stroke-width="0.5"/>
<rect x="539.09" y="88.29" width="6.52" height="12.12" fill="#e1b03f"/>
<path d="M539.09,101.06 L539.09,111.74 A3.26,3.26 0 0 0 545.61,111.74 L545.61,101.06 Z" fill="#b9505a"/>
<circle cx="543.47" cy="104.69" r="1.02" fill="none" stroke="#dd8f98" stroke-width="0.6"/>
<circle cx="541.88" cy="109.78" r="1.12" fill="none" stroke="#dd8f98" stroke-width="0.6"/>
<circle cx="543.28" cy="111.53" r="1.02" fill="none" stroke="#dd8f98" stroke-width="0.6"/>
<path d="M544.21,90.29 l-1,4 l1.2,3 l-1.5,4" fill="none" stroke="#4a6a70" stroke-width="0.8"/>
<circle cx="540.96" cy="91.93" r="0.6" fill="#fff6d8"/>
<circle cx="541.88" cy="96.17" r="0.6" fill="#fff6d8"/>
<path d="M537.70,76.40 Q537.70,75.20 538.90,75.20 L545.80,75.20 Q547.00,75.20 547.00,76.40 L546.80,84.69 L537.90,84.69 Z" fill="#e8743e" stroke="#d2622e" stroke-width="0.4"/>
<rect x="541.61" y="78.05" width="1.49" height="4.75" fill="#d9652f" opacity="0.6"/>
<path d="M558.69,84.69 L558.69,111.74 A3.86,3.86 0 0 0 566.41,111.74 L566.41,84.69 Z" fill="#f1f1f1" stroke="#c9c9c9" stroke-width="0.5"/>
<rect x="559.29" y="88.29" width="6.52" height="12.12" fill="#e1b03f"/>
<path d="M559.29,101.06 L559.29,111.74 A3.26,3.26 0 0 0 565.81,111.74 L565.81,101.06 Z" fill="#b9505a"/>
<circle cx="563.67" cy="104.69" r="1.02" fill="none" stroke="#dd8f98" stroke-width="0.6"/>
<circle cx="562.08" cy="109.78" r="1.12" fill="none" stroke="#dd8f98" stroke-width="0.6"/>
<circle cx="563.48" cy="111.53" r="1.02" fill="none" stroke="#dd8f98" stroke-width="0.6"/>
<path d="M564.41,90.29 l-1,4 l1.2,3 l-1.5,4" fill="none" stroke="#4a6a70" stroke-width="0.8"/>
<circle cx="561.15" cy="91.93" r="0.6" fill="#fff6d8"/>
<circle cx="562.08" cy="96.17" r="0.6" fill="#fff6d8"/>
<path d="M557.90,76.40 Q557.90,75.20 559.10,75.20 L566.00,75.20 Q567.20,75.20 567.20,76.40 L567.00,84.69 L558.10,84.69 Z" fill="#e8743e" stroke="#d2622e" stroke-width="0.4"/>
<rect x="561.81" y="78.05" width="1.49" height="4.75" fill="#d9652f" opacity="0.6"/>
<path d="M578.39,84.69 L578.39,111.74 A3.86,3.86 0 0 0 586.11,111.74 L586.11,84.69 Z" fill="#f1f1f1" stroke="#c9c9c9" stroke-width="0.5"/>
<rect x="578.99" y="88.29" width="6.52" height="12.12" fill="#e1b03f"/>
<path d="M578.99,101.06 L578.99,111.74 A3.26,3.26 0 0 0 585.51,111.74 L585.51,101.06 Z" fill="#b9505a"/>
<circle cx="583.37" cy="104.69" r="1.02" fill="none" stroke="#dd8f98" stroke-width="0.6"/>
<circle cx="581.78" cy="109.78" r="1.12" fill="none" stroke="#dd8f98" stroke-width="0.6"/>
<circle cx="583.18" cy="111.53" r="1.02" fill="none" stroke="#dd8f98" stroke-width="0.6"/>
<path d="M584.11,90.29 l-1,4 l1.2,3 l-1.5,4" fill="none" stroke="#4a6a70" stroke-width="0.8"/>
<circle cx="580.86" cy="91.93" r="0.6" fill="#fff6d8"/>
<circle cx="581.78" cy="96.17" r="0.6" fill="#fff6d8"/>
<path d="M577.60,76.40 Q577.60,75.20 578.80,75.20 L585.70,75.20 Q586.90,75.20 586.90,76.40 L586.70,84.69 L577.80,84.69 Z" fill="#e8743e" stroke="#d2622e" stroke-width="0.4"/>
<rect x="581.51" y="78.05" width="1.49" height="4.75" fill="#d9652f" opacity="0.6"/>
<text x="140.5" y="29.1" font-family="Liberation Sans" font-size="13.5" font-weight="normal" text-anchor="start" fill="#1a1a1a">Baseline</text>
<text x="318.4" y="29.1" font-family="Liberation Sans" font-size="13.5" font-weight="normal" text-anchor="start" fill="#1a1a1a">Post-NAC</text>
<text x="429.3" y="26.9" font-family="Liberation Sans" font-size="13.5" font-weight="normal" text-anchor="start" fill="#1a1a1a">Post-surgery</text>
<text x="522.1" y="63.7" font-family="Liberation Sans" font-size="13.5" font-weight="normal" text-anchor="start" fill="#1a1a1a">Follow-up</text>
<text x="248.8" y="151.3" font-family="Liberation Sans" font-size="13.5" font-weight="normal" text-anchor="start" fill="#1a1a1a">NAC</text>
<text x="380.2" y="168.1" font-family="Liberation Sans" font-size="13.5" font-weight="normal" text-anchor="start" fill="#1a1a1a">Surgery</text>
<text x="489.6" y="153.7" font-family="Liberation Sans" font-size="13.5" font-weight="normal" text-anchor="start" fill="#1a1a1a">every 3-6 months</text>
<text x="615.0" y="129.4" font-family="Liberation Sans" font-size="13.5" font-weight="normal" text-anchor="start" fill="#1a1a1a">Recurrence</text>
<text x="615.0" y="142.4" font-family="Liberation Sans" font-size="13.5" font-weight="normal" text-anchor="start" fill="#1a1a1a">or 5 years</text>
<text x="154.6" y="242.4" font-family="Liberation Sans" font-size="13.5" font-weight="normal" text-anchor="start" fill="#1a1a1a">Biopsy</text>
<text x="0.2" y="281.6" font-family="Liberation Sans" font-size="13.4" font-weight="bold" font-style="normal" text-anchor="start" fill="#000" >B</text>
<g>
<rect x="60.65" y="371.5" width="3.07" height="5.3" fill="#b25f6a" />
<rect x="64.27" y="334.9" width="3.07" height="41.9" fill="#b25f6a" />
<rect x="67.88" y="321.8" width="3.07" height="55" fill="#b25f6a" />
<rect x="71.5" y="372.6" width="3.07" height="4.2" fill="#b25f6a" />
<rect x="75.11" y="300.3" width="3.07" height="76.5" fill="#b25f6a" />
<rect x="78.73" y="298.2" width="3.07" height="78.6" fill="#b25f6a" />
<rect x="82.34" y="373.5" width="3.07" height="3.3" fill="#b25f6a" />
<rect x="85.96" y="376" width="3.07" height="0.8" fill="#b25f6a" />
<rect x="89.57" y="376" width="3.07" height="0.8" fill="#b25f6a" />
<rect x="93.19" y="348.8" width="3.07" height="28" fill="#b25f6a" />
<rect x="96.8" y="368.3" width="3.07" height="8.5" fill="#b25f6a" />
<rect x="100.42" y="374.4" width="3.07" height="2.4" fill="#b25f6a" />
<rect x="104.03" y="371.6" width="3.07" height="5.2" fill="#b25f6a" />
<rect x="107.65" y="371.6" width="3.07" height="5.2" fill="#b25f6a" />
<rect x="111.26" y="375.4" width="3.07" height="1.4" fill="#b25f6a" />
<rect x="114.88" y="376.2" width="3.07" height="0.6" fill="#b25f6a" />
<rect x="118.49" y="365.3" width="3.07" height="11.5" fill="#b25f6a" />
<rect x="122.11" y="375.1" width="3.07" height="1.7" fill="#b25f6a" />
<rect x="125.72" y="373.5" width="3.07" height="3.3" fill="#b25f6a" />
<rect x="129.34" y="376" width="3.07" height="0.8" fill="#b25f6a" />
<rect x="132.95" y="375.2" width="3.07" height="1.6" fill="#b25f6a" />
<rect x="136.57" y="369.1" width="3.07" height="7.7" fill="#b25f6a" />
<rect x="140.18" y="305.1" width="3.07" height="71.7" fill="#b25f6a" />
<rect x="143.8" y="363.1" width="3.07" height="13.7" fill="#b25f6a" />
<rect x="147.41" y="375.2" width="3.07" height="1.6" fill="#b25f6a" />
<rect x="151.03" y="376" width="3.07" height="0.8" fill="#b25f6a" />
<rect x="154.64" y="346.1" width="3.07" height="30.7" fill="#b25f6a" />
<rect x="158.26" y="375.2" width="3.07" height="1.6" fill="#b25f6a" />
<rect x="161.87" y="363.1" width="3.07" height="13.7" fill="#b25f6a" />
<rect x="165.49" y="360.2" width="3.07" height="16.6" fill="#b25f6a" />
<rect x="169.1" y="362.2" width="3.07" height="14.6" fill="#b25f6a" />
<rect x="172.72" y="346.1" width="3.07" height="30.7" fill="#b25f6a" />
<rect x="176.33" y="374.6" width="3.07" height="2.2" fill="#b25f6a" />
<rect x="179.95" y="376" width="3.07" height="0.8" fill="#b25f6a" />
<rect x="183.56" y="372.4" width="3.07" height="4.4" fill="#b25f6a" />
<rect x="187.18" y="340.4" width="3.07" height="36.4" fill="#b25f6a" />
<rect x="190.79" y="303.8" width="3.07" height="73" fill="#b25f6a" />
<rect x="194.41" y="376" width="3.07" height="0.8" fill="#b25f6a" />
<rect x="198.02" y="360.2" width="3.07" height="16.6" fill="#b25f6a" />
<rect x="201.64" y="366.1" width="3.07" height="10.7" fill="#b25f6a" />
<rect x="205.25" y="366.4" width="3.07" height="10.4" fill="#b25f6a" />
<rect x="208.87" y="371.9" width="3.07" height="4.9" fill="#b25f6a" />
<rect x="212.48" y="374.7" width="3.07" height="2.1" fill="#b25f6a" />
<rect x="216.1" y="371.9" width="3.07" height="4.9" fill="#b25f6a" />
<rect x="219.71" y="375.9" width="3.07" height="0.9" fill="#b25f6a" />
<rect x="223.33" y="375.9" width="3.07" height="0.9" fill="#b25f6a" />
<rect x="226.94" y="361.5" width="3.07" height="15.3" fill="#b25f6a" />
<rect x="230.56" y="374.9" width="3.07" height="1.9" fill="#b25f6a" />
<rect x="234.17" y="374.7" width="3.07" height="2.1" fill="#b25f6a" />
<rect x="237.79" y="375.4" width="3.07" height="1.4" fill="#b25f6a" />
<rect x="241.4" y="375.9" width="3.07" height="0.9" fill="#b25f6a" />
<rect x="245.02" y="370.6" width="3.07" height="6.2" fill="#b25f6a" />
<rect x="248.63" y="360.2" width="3.07" height="16.6" fill="#b25f6a" />
<rect x="252.25" y="371.3" width="3.07" height="5.5" fill="#b25f6a" />
<rect x="255.86" y="365.6" width="3.07" height="11.2" fill="#b25f6a" />
<rect x="259.48" y="376" width="3.07" height="0.8" fill="#b25f6a" />
<rect x="263.09" y="371.9" width="3.07" height="4.9" fill="#b25f6a" />
<rect x="266.7" y="371.1" width="3.07" height="5.7" fill="#b25f6a" />
<rect x="270.32" y="374.9" width="3.07" height="1.9" fill="#b25f6a" />
<rect x="273.94" y="360.7" width="3.07" height="16.1" fill="#b25f6a" />
<rect x="277.55" y="287.8" width="3.07" height="89" fill="#b25f6a" />
<rect x="281.16" y="360.2" width="3.07" height="16.6" fill="#b25f6a" />
<rect x="284.78" y="376.3" width="3.07" height="0.5" fill="#b25f6a" />
<rect x="288.39" y="367.5" width="3.07" height="9.3" fill="#b25f6a" />
<rect x="292.01" y="376" width="3.07" height="0.8" fill="#b25f6a" />
<rect x="295.62" y="371.9" width="3.07" height="4.9" fill="#b25f6a" />
<rect x="299.24" y="376" width="3.07" height="0.8" fill="#b25f6a" />
<rect x="302.86" y="367.5" width="3.07" height="9.3" fill="#b25f6a" />
<rect x="306.47" y="374.4" width="3.07" height="2.4" fill="#b25f6a" />
<rect x="310.08" y="376" width="3.07" height="0.8" fill="#b25f6a" />
<rect x="313.7" y="374.9" width="3.07" height="1.9" fill="#b25f6a" />
<rect x="317.31" y="375.6" width="3.07" height="1.2" fill="#b25f6a" />
<rect x="320.93" y="374.9" width="3.07" height="1.9" fill="#b25f6a" />
<rect x="324.55" y="372.7" width="3.07" height="4.1" fill="#b25f6a" />
<rect x="328.16" y="371" width="3.07" height="5.8" fill="#b25f6a" />
<rect x="331.77" y="366.9" width="3.07" height="9.9" fill="#b25f6a" />
<rect x="335.39" y="375.8" width="3.07" height="1" fill="#b25f6a" />
<rect x="339" y="375.5" width="3.07" height="1.3" fill="#b25f6a" />
<rect x="342.62" y="376" width="3.07" height="0.8" fill="#b25f6a" />
<rect x="346.24" y="374.9" width="3.07" height="1.9" fill="#b25f6a" />
<rect x="349.85" y="373.8" width="3.07" height="3" fill="#b25f6a" />
<rect x="353.46" y="373.8" width="3.07" height="3" fill="#b25f6a" />
<rect x="357.08" y="373" width="3.07" height="3.8" fill="#b25f6a" />
<rect x="360.69" y="374.5" width="3.07" height="2.3" fill="#b25f6a" />
<rect x="364.31" y="374.9" width="3.07" height="1.9" fill="#b25f6a" />
<rect x="367.93" y="375.9" width="3.07" height="0.9" fill="#b25f6a" />
<rect x="371.54" y="376.1" width="3.07" height="0.7" fill="#b25f6a" />
<rect x="375.15" y="376.1" width="3.07" height="0.7" fill="#b25f6a" />
<rect x="378.77" y="376.1" width="3.07" height="0.7" fill="#b25f6a" />
<rect x="382.38" y="376.1" width="3.07" height="0.7" fill="#b25f6a" />
<rect x="386" y="376.1" width="3.07" height="0.7" fill="#b25f6a" />
<rect x="389.62" y="295.8" width="3.07" height="81" fill="#b25f6a" />
<rect x="393.23" y="368.8" width="3.07" height="8" fill="#b25f6a" />
<rect x="396.84" y="369.1" width="3.07" height="7.7" fill="#b25f6a" />
<rect x="400.46" y="376.1" width="3.07" height="0.7" fill="#b25f6a" />
<rect x="404.07" y="376.1" width="3.07" height="0.7" fill="#b25f6a" />
</g>
<rect x="59.7" y="279.8" width="441.9" height="97.9" fill="none" stroke="#111" stroke-width="1.5"/>
<line x1="55.6" y1="290.6" x2="59.7" y2="290.6" stroke="#111" stroke-width="0.9" />
<text x="54" y="293.6" font-family="Liberation Sans" font-size="10.3" font-weight="normal" font-style="normal" text-anchor="end" fill="#111" >40</text>
<line x1="55.6" y1="332.4" x2="59.7" y2="332.4" stroke="#111" stroke-width="0.9" />
<text x="54" y="335.3" font-family="Liberation Sans" font-size="10.3" font-weight="normal" font-style="normal" text-anchor="end" fill="#111" >20</text>
<line x1="55.6" y1="376.4" x2="59.7" y2="376.4" stroke="#111" stroke-width="0.9" />
<text x="54" y="376.8" font-family="Liberation Sans" font-size="10.3" font-weight="normal" font-style="normal" text-anchor="end" fill="#111" >0</text>
<text x="0" y="0" font-family="Liberation Sans" font-size="9.3" font-weight="bold" font-style="normal" text-anchor="middle" fill="#000" transform="translate(28.0,333.1) rotate(-90)">MVAF (%)</text>
<g>
<rect x="60.5" y="383.25" width="441.03" height="12.35" fill="#dcdcdc" />
<rect x="60.5" y="396.49" width="441.03" height="12.35" fill="#dcdcdc" />
<rect x="60.5" y="409.73" width="441.03" height="12.35" fill="#dcdcdc" />
<rect x="60.5" y="422.97" width="441.03" height="12.35" fill="#dcdcdc" />
<rect x="60.5" y="436.21" width="441.03" height="12.35" fill="#dcdcdc" />
<rect x="60.5" y="449.45" width="441.03" height="12.35" fill="#dcdcdc" />
<rect x="60.5" y="462.69" width="441.03" height="12.35" fill="#dcdcdc" />
<rect x="60.5" y="475.93" width="441.03" height="12.35" fill="#dcdcdc" />
<rect x="60.5" y="489.17" width="441.03" height="12.35" fill="#dcdcdc" />
<rect x="60.5" y="502.41" width="441.03" height="12.35" fill="#dcdcdc" />
<rect x="60.5" y="515.65" width="441.03" height="12.35" fill="#dcdcdc" />
<rect x="60.5" y="528.89" width="441.03" height="12.35" fill="#dcdcdc" />
<rect x="60.5" y="542.13" width="441.03" height="12.35" fill="#dcdcdc" />
<rect x="60.5" y="555.37" width="441.03" height="12.35" fill="#dcdcdc" />
<rect x="60.5" y="568.61" width="441.03" height="12.35" fill="#dcdcdc" />
<rect x="60.5" y="581.85" width="441.03" height="12.35" fill="#dcdcdc" />
<rect x="60.5" y="595.09" width="441.03" height="12.35" fill="#dcdcdc" />
<rect x="60.5" y="608.33" width="441.03" height="12.35" fill="#dcdcdc" />
<rect x="60.5" y="621.57" width="441.03" height="12.35" fill="#dcdcdc" />
<rect x="60.5" y="634.81" width="441.03" height="12.35" fill="#dcdcdc" />
<rect x="60.5" y="383.25" width="3.62" height="12.35" fill="#993a5f" />
<rect x="64.11" y="383.25" width="3.62" height="12.35" fill="#e5afcb" />
<rect x="67.73" y="383.25" width="3.62" height="12.35" fill="#993a5f" />
<rect x="71.34" y="383.25" width="3.62" height="12.35" fill="#a6cde4" />
<rect x="74.96" y="383.25" width="3.62" height="12.35" fill="#993a5f" />
<rect x="78.58" y="383.25" width="3.62" height="12.35" fill="#993a5f" />
<rect x="82.19" y="383.25" width="3.62" height="12.35" fill="#236b8e" />
<rect x="85.81" y="383.25" width="3.62" height="12.35" fill="#993a5f" />
<rect x="89.42" y="383.25" width="3.62" height="12.35" fill="#993a5f" />
<rect x="93.03" y="383.25" width="3.62" height="12.35" fill="#993a5f" />
<rect x="96.65" y="383.25" width="3.62" height="12.35" fill="#993a5f" />
<rect x="100.27" y="383.25" width="3.62" height="12.35" fill="#993a5f" />
<rect x="103.88" y="383.25" width="3.62" height="12.35" fill="#993a5f" />
<rect x="107.5" y="383.25" width="3.62" height="12.35" fill="#993a5f" />
<rect x="111.11" y="383.25" width="3.62" height="12.35" fill="#236b8e" />
<rect x="114.72" y="383.25" width="3.62" height="12.35" fill="#a6cde4" />
<rect x="118.34" y="383.25" width="3.62" height="12.35" fill="#993a5f" />
<rect x="121.96" y="383.25" width="3.62" height="12.35" fill="#236b8e" />
<rect x="125.57" y="383.25" width="3.62" height="12.35" fill="#236b8e" />
<rect x="129.19" y="383.25" width="3.62" height="12.35" fill="#a6cde4" />
<rect x="132.8" y="383.25" width="3.62" height="12.35" fill="#993a5f" />
<rect x="136.42" y="383.25" width="3.62" height="12.35" fill="#e5afcb" />
<rect x="140.03" y="383.25" width="3.62" height="12.35" fill="#a6cde4" />
<rect x="143.65" y="383.25" width="3.62" height="12.35" fill="#a6cde4" />
<rect x="147.26" y="383.25" width="3.62" height="12.35" fill="#e5afcb" />
<rect x="150.88" y="383.25" width="3.62" height="12.35" fill="#993a5f" />
<rect x="154.49" y="383.25" width="3.62" height="12.35" fill="#993a5f" />
<rect x="158.11" y="383.25" width="3.62" height="12.35" fill="#e5afcb" />
<rect x="161.72" y="383.25" width="3.62" height="12.35" fill="#a6cde4" />
<rect x="165.34" y="383.25" width="3.62" height="12.35" fill="#993a5f" />
<rect x="168.95" y="383.25" width="3.62" height="12.35" fill="#993a5f" />
<rect x="172.56" y="383.25" width="3.62" height="12.35" fill="#993a5f" />
<rect x="176.18" y="383.25" width="3.62" height="12.35" fill="#993a5f" />
<rect x="179.8" y="383.25" width="3.62" height="12.35" fill="#236b8e" />
<rect x="183.41" y="383.25" width="3.62" height="12.35" fill="#236b8e" />
<rect x="187.03" y="383.25" width="3.62" height="12.35" fill="#993a5f" />
<rect x="190.64" y="383.25" width="3.62" height="12.35" fill="#993a5f" />
<rect x="194.25" y="383.25" width="3.62" height="12.35" fill="#a6cde4" />
<rect x="197.87" y="383.25" width="3.62" height="12.35" fill="#993a5f" />
<rect x="201.49" y="383.25" width="3.62" height="12.35" fill="#993a5f" />
<rect x="205.1" y="383.25" width="3.62" height="12.35" fill="#993a5f" />
<rect x="208.72" y="383.25" width="3.62" height="12.35" fill="#236b8e" />
<rect x="212.33" y="383.25" width="3.62" height="12.35" fill="#993a5f" />
<rect x="215.95" y="383.25" width="3.62" height="12.35" fill="#993a5f" />
<rect x="219.56" y="383.25" width="3.62" height="12.35" fill="#993a5f" />
<rect x="223.18" y="383.25" width="3.62" height="12.35" fill="#993a5f" />
<rect x="226.79" y="383.25" width="3.62" height="12.35" fill="#993a5f" />
<rect x="230.41" y="383.25" width="3.62" height="12.35" fill="#e5afcb" />
<rect x="234.02" y="383.25" width="3.62" height="12.35" fill="#993a5f" />
<rect x="237.64" y="383.25" width="3.62" height="12.35" fill="#a6cde4" />
<rect x="241.25" y="383.25" width="3.62" height="12.35" fill="#236b8e" />
<rect x="244.87" y="383.25" width="3.62" height="12.35" fill="#e5afcb" />
<rect x="248.48" y="383.25" width="3.62" height="12.35" fill="#e5afcb" />
<rect x="252.09" y="383.25" width="3.62" height="12.35" fill="#993a5f" />
<rect x="255.71" y="383.25" width="3.62" height="12.35" fill="#a6cde4" />
<rect x="259.33" y="383.25" width="3.62" height="12.35" fill="#a6cde4" />
<rect x="262.94" y="383.25" width="3.62" height="12.35" fill="#993a5f" />
<rect x="266.56" y="383.25" width="3.62" height="12.35" fill="#a6cde4" />
<rect x="270.17" y="383.25" width="3.62" height="12.35" fill="#e5afcb" />
<rect x="273.79" y="383.25" width="3.62" height="12.35" fill="#a6cde4" />
<rect x="277.4" y="383.25" width="3.62" height="12.35" fill="#e5afcb" />
<rect x="281.01" y="383.25" width="3.62" height="12.35" fill="#e5afcb" />
<rect x="284.63" y="383.25" width="3.62" height="12.35" fill="#a6cde4" />
<rect x="288.25" y="383.25" width="3.62" height="12.35" fill="#993a5f" />
<rect x="291.86" y="383.25" width="3.62" height="12.35" fill="#e5afcb" />
<rect x="295.48" y="383.25" width="3.62" height="12.35" fill="#236b8e" />
<rect x="299.09" y="383.25" width="3.62" height="12.35" fill="#993a5f" />
<rect x="302.71" y="383.25" width="3.62" height="12.35" fill="#993a5f" />
<rect x="306.32" y="383.25" width="3.62" height="12.35" fill="#993a5f" />
<rect x="309.94" y="383.25" width="3.62" height="12.35" fill="#a6cde4" />
<rect x="313.55" y="383.25" width="3.62" height="12.35" fill="#a6cde4" />
<rect x="317.17" y="383.25" width="3.62" height="12.35" fill="#993a5f" />
<rect x="320.78" y="383.25" width="3.62" height="12.35" fill="#993a5f" />
<rect x="324.4" y="383.25" width="3.62" height="12.35" fill="#a6cde4" />
<rect x="328.01" y="383.25" width="3.62" height="12.35" fill="#a6cde4" />
<rect x="331.62" y="383.25" width="3.62" height="12.35" fill="#236b8e" />
<rect x="335.24" y="383.25" width="3.62" height="12.35" fill="#a6cde4" />
<rect x="338.86" y="383.25" width="3.62" height="12.35" fill="#236b8e" />
<rect x="342.47" y="383.25" width="3.62" height="12.35" fill="#a6cde4" />
<rect x="346.09" y="383.25" width="3.62" height="12.35" fill="#993a5f" />
<rect x="349.7" y="383.25" width="3.62" height="12.35" fill="#993a5f" />
<rect x="353.31" y="383.25" width="3.62" height="12.35" fill="#a6cde4" />
<rect x="356.93" y="383.25" width="3.62" height="12.35" fill="#993a5f" />
<rect x="60.5" y="396.49" width="3.62" height="12.35" fill="#993a5f" />
<rect x="64.11" y="396.49" width="3.62" height="12.35" fill="#993a5f" />
<rect x="67.73" y="396.49" width="3.62" height="12.35" fill="#993a5f" />
<rect x="71.34" y="396.49" width="3.62" height="12.35" fill="#993a5f" />
<rect x="74.96" y="396.49" width="3.62" height="12.35" fill="#993a5f" />
<rect x="78.58" y="396.49" width="3.62" height="12.35" fill="#993a5f" />
<rect x="82.19" y="396.49" width="3.62" height="12.35" fill="#993a5f" />
<rect x="85.81" y="396.49" width="3.62" height="12.35" fill="#993a5f" />
<rect x="89.42" y="396.49" width="3.62" height="12.35" fill="#993a5f" />
<rect x="93.03" y="396.49" width="3.62" height="12.35" fill="#993a5f" />
<rect x="360.55" y="396.49" width="3.62" height="12.35" fill="#993a5f" />
<rect x="364.16" y="396.49" width="3.62" height="12.35" fill="#993a5f" />
<rect x="367.78" y="396.49" width="3.62" height="12.35" fill="#993a5f" />
<rect x="371.39" y="396.49" width="3.62" height="12.35" fill="#d6cde5" />
<rect x="375" y="396.49" width="3.62" height="12.35" fill="#993a5f" />
<rect x="378.62" y="396.49" width="3.62" height="12.35" fill="#993a5f" />
<rect x="382.24" y="396.49" width="3.62" height="12.35" fill="#993a5f" />
<rect x="385.85" y="396.49" width="3.62" height="12.35" fill="#993a5f" />
<rect x="60.5" y="409.73" width="3.62" height="12.35" fill="#993a5f" />
<rect x="96.65" y="409.73" width="3.62" height="12.35" fill="#e5afcb" />
<rect x="100.27" y="409.73" width="3.62" height="12.35" fill="#993a5f" />
<rect x="103.88" y="409.73" width="3.62" height="12.35" fill="#993a5f" />
<rect x="107.5" y="409.73" width="3.62" height="12.35" fill="#e5afcb" />
<rect x="111.11" y="409.73" width="3.62" height="12.35" fill="#a6cde4" />
<rect x="114.72" y="409.73" width="3.62" height="12.35" fill="#993a5f" />
<rect x="64.11" y="422.97" width="3.62" height="12.35" fill="#993a5f" />
<rect x="118.34" y="422.97" width="3.62" height="12.35" fill="#d6cde5" />
<rect x="121.96" y="422.97" width="3.62" height="12.35" fill="#993a5f" />
<rect x="125.57" y="422.97" width="3.62" height="12.35" fill="#993a5f" />
<rect x="360.55" y="422.97" width="3.62" height="12.35" fill="#993a5f" />
<rect x="389.47" y="422.97" width="3.62" height="12.35" fill="#d6cde5" />
<rect x="96.65" y="436.21" width="3.62" height="12.35" fill="#236b8e" />
<rect x="129.19" y="436.21" width="3.62" height="12.35" fill="#a6cde4" />
<rect x="132.8" y="436.21" width="3.62" height="12.35" fill="#236b8e" />
<rect x="136.42" y="436.21" width="3.62" height="12.35" fill="#e5afcb" />
<rect x="364.16" y="436.21" width="3.62" height="12.35" fill="#e5afcb" />
<rect x="389.47" y="436.21" width="3.62" height="12.35" fill="#e5afcb" />
<rect x="118.34" y="449.45" width="3.62" height="12.35" fill="#a6cde4" />
<rect x="140.03" y="449.45" width="3.62" height="12.35" fill="#993a5f" />
<rect x="143.65" y="449.45" width="3.62" height="12.35" fill="#993a5f" />
<rect x="147.26" y="449.45" width="3.62" height="12.35" fill="#993a5f" />
<rect x="389.47" y="449.45" width="3.62" height="12.35" fill="#993a5f" />
<rect x="67.73" y="462.69" width="3.62" height="12.35" fill="#9461ad" />
<rect x="71.34" y="462.69" width="3.62" height="12.35" fill="#993a5f" />
<rect x="74.96" y="462.69" width="3.62" height="12.35" fill="#9461ad" />
<rect x="150.88" y="462.69" width="3.62" height="12.35" fill="#9461ad" />
<rect x="389.47" y="462.69" width="3.62" height="12.35" fill="#993a5f" />
<rect x="67.73" y="475.93" width="3.62" height="12.35" fill="#9461ad" />
<rect x="140.03" y="475.93" width="3.62" height="12.35" fill="#9461ad" />
<rect x="150.88" y="475.93" width="3.62" height="12.35" fill="#9461ad" />
<rect x="154.49" y="475.93" width="3.62" height="12.35" fill="#9461ad" />
<rect x="389.47" y="475.93" width="3.62" height="12.35" fill="#993a5f" />
<rect x="71.34" y="489.17" width="3.62" height="12.35" fill="#993a5f" />
<rect x="158.11" y="489.17" width="3.62" height="12.35" fill="#a6cde4" />
<rect x="161.72" y="489.17" width="3.62" height="12.35" fill="#993a5f" />
<rect x="389.47" y="489.17" width="3.62" height="12.35" fill="#993a5f" />
<rect x="64.11" y="502.41" width="3.62" height="12.35" fill="#993a5f" />
<rect x="140.03" y="502.41" width="3.62" height="12.35" fill="#993a5f" />
<rect x="143.65" y="502.41" width="3.62" height="12.35" fill="#a6cde4" />
<rect x="389.47" y="502.41" width="3.62" height="12.35" fill="#993a5f" />
<rect x="78.58" y="515.65" width="3.62" height="12.35" fill="#993a5f" />
<rect x="143.65" y="515.65" width="3.62" height="12.35" fill="#993a5f" />
<rect x="165.34" y="515.65" width="3.62" height="12.35" fill="#993a5f" />
<rect x="360.55" y="515.65" width="3.62" height="12.35" fill="#a6cde4" />
<rect x="67.73" y="528.89" width="3.62" height="12.35" fill="#993a5f" />
<rect x="82.19" y="528.89" width="3.62" height="12.35" fill="#993a5f" />
<rect x="367.78" y="528.89" width="3.62" height="12.35" fill="#993a5f" />
<rect x="389.47" y="528.89" width="3.62" height="12.35" fill="#993a5f" />
<rect x="168.95" y="542.13" width="3.62" height="12.35" fill="#993a5f" />
<rect x="172.56" y="542.13" width="3.62" height="12.35" fill="#993a5f" />
<rect x="360.55" y="542.13" width="3.62" height="12.35" fill="#993a5f" />
<rect x="389.47" y="542.13" width="3.62" height="12.35" fill="#a6cde4" />
<rect x="154.49" y="555.37" width="3.62" height="12.35" fill="#993a5f" />
<rect x="176.18" y="555.37" width="3.62" height="12.35" fill="#993a5f" />
<rect x="360.55" y="555.37" width="3.62" height="12.35" fill="#236b8e" />
<rect x="364.16" y="555.37" width="3.62" height="12.35" fill="#993a5f" />
<rect x="64.11" y="568.61" width="3.62" height="12.35" fill="#a6cde4" />
<rect x="96.65" y="568.61" width="3.62" height="12.35" fill="#d6cde5" />
<rect x="179.8" y="568.61" width="3.62" height="12.35" fill="#a6cde4" />
<rect x="393.08" y="568.61" width="3.62" height="12.35" fill="#236b8e" />
<rect x="100.27" y="581.85" width="3.62" height="12.35" fill="#993a5f" />
<rect x="150.88" y="581.85" width="3.62" height="12.35" fill="#993a5f" />
<rect x="183.41" y="581.85" width="3.62" height="12.35" fill="#993a5f" />
<rect x="360.55" y="581.85" width="3.62" height="12.35" fill="#993a5f" />
<rect x="179.8" y="595.09" width="3.62" height="12.35" fill="#993a5f" />
<rect x="187.03" y="595.09" width="3.62" height="12.35" fill="#993a5f" />
<rect x="190.64" y="595.09" width="3.62" height="12.35" fill="#993a5f" />
<rect x="360.55" y="595.09" width="3.62" height="12.35" fill="#993a5f" />
<rect x="183.41" y="608.33" width="3.62" height="12.35" fill="#d6cde5" />
<rect x="194.25" y="608.33" width="3.62" height="12.35" fill="#e5afcb" />
<rect x="197.87" y="608.33" width="3.62" height="12.35" fill="#e5afcb" />
<rect x="201.49" y="608.33" width="3.62" height="12.35" fill="#993a5f" />
<rect x="168.95" y="621.57" width="3.62" height="12.35" fill="#21a59c" />
<rect x="194.25" y="621.57" width="3.62" height="12.35" fill="#993a5f" />
<rect x="205.1" y="621.57" width="3.62" height="12.35" fill="#21a59c" />
<rect x="364.16" y="621.57" width="3.62" height="12.35" fill="#21a59c" />
<rect x="67.73" y="634.81" width="3.62" height="12.35" fill="#9461ad" />
<rect x="78.58" y="634.81" width="3.62" height="12.35" fill="#9461ad" />
<rect x="140.03" y="634.81" width="3.62" height="12.35" fill="#9461ad" />
<rect x="197.87" y="634.81" width="3.62" height="12.35" fill="#9461ad" />
<rect x="63.81" y="383.25" width="0.6" height="264.8" fill="#ffffff" fill-opacity="0.55"/>
<rect x="67.43" y="383.25" width="0.6" height="264.8" fill="#ffffff" fill-opacity="0.55"/>
<rect x="71.05" y="383.25" width="0.6" height="264.8" fill="#ffffff" fill-opacity="0.55"/>
<rect x="74.66" y="383.25" width="0.6" height="264.8" fill="#ffffff" fill-opacity="0.55"/>
<rect x="78.28" y="383.25" width="0.6" height="264.8" fill="#ffffff" fill-opacity="0.55"/>
<rect x="81.89" y="383.25" width="0.6" height="264.8" fill="#ffffff" fill-opacity="0.55"/>
<rect x="85.51" y="383.25" width="0.6" height="264.8" fill="#ffffff" fill-opacity="0.55"/>
<rect x="89.12" y="383.25" width="0.6" height="264.8" fill="#ffffff" fill-opacity="0.55"/>
<rect x="92.73" y="383.25" width="0.6" height="264.8" fill="#ffffff" fill-opacity="0.55"/>
<rect x="96.35" y="383.25" width="0.6" height="264.8" fill="#ffffff" fill-opacity="0.55"/>
<rect x="99.97" y="383.25" width="0.6" height="264.8" fill="#ffffff" fill-opacity="0.55"/>
<rect x="103.58" y="383.25" width="0.6" height="264.8" fill="#ffffff" fill-opacity="0.55"/>
<rect x="107.2" y="383.25" width="0.6" height="264.8" fill="#ffffff" fill-opacity="0.55"/>
<rect x="110.81" y="383.25" width="0.6" height="264.8" fill="#ffffff" fill-opacity="0.55"/>
<rect x="114.42" y="383.25" width="0.6" height="264.8" fill="#ffffff" fill-opacity="0.55"/>
<rect x="118.04" y="383.25" width="0.6" height="264.8" fill="#ffffff" fill-opacity="0.55"/>
<rect x="121.66" y="383.25" width="0.6" height="264.8" fill="#ffffff" fill-opacity="0.55"/>
<rect x="125.27" y="383.25" width="0.6" height="264.8" fill="#ffffff" fill-opacity="0.55"/>
<rect x="128.88" y="383.25" width="0.6" height="264.8" fill="#ffffff" fill-opacity="0.55"/>
<rect x="132.5" y="383.25" width="0.6" height="264.8" fill="#ffffff" fill-opacity="0.55"/>
<rect x="136.12" y="383.25" width="0.6" height="264.8" fill="#ffffff" fill-opacity="0.55"/>
<rect x="139.73" y="383.25" width="0.6" height="264.8" fill="#ffffff" fill-opacity="0.55"/>
<rect x="143.34" y="383.25" width="0.6" height="264.8" fill="#ffffff" fill-opacity="0.55"/>
<rect x="146.96" y="383.25" width="0.6" height="264.8" fill="#ffffff" fill-opacity="0.55"/>
<rect x="150.57" y="383.25" width="0.6" height="264.8" fill="#ffffff" fill-opacity="0.55"/>
<rect x="154.19" y="383.25" width="0.6" height="264.8" fill="#ffffff" fill-opacity="0.55"/>
<rect x="157.81" y="383.25" width="0.6" height="264.8" fill="#ffffff" fill-opacity="0.55"/>
<rect x="161.42" y="383.25" width="0.6" height="264.8" fill="#ffffff" fill-opacity="0.55"/>
<rect x="165.03" y="383.25" width="0.6" height="264.8" fill="#ffffff" fill-opacity="0.55"/>
<rect x="168.65" y="383.25" width="0.6" height="264.8" fill="#ffffff" fill-opacity="0.55"/>
<rect x="172.26" y="383.25" width="0.6" height="264.8" fill="#ffffff" fill-opacity="0.55"/>
<rect x="175.88" y="383.25" width="0.6" height="264.8" fill="#ffffff" fill-opacity="0.55"/>
<rect x="179.5" y="383.25" width="0.6" height="264.8" fill="#ffffff" fill-opacity="0.55"/>
<rect x="183.11" y="383.25" width="0.6" height="264.8" fill="#ffffff" fill-opacity="0.55"/>
<rect x="186.72" y="383.25" width="0.6" height="264.8" fill="#ffffff" fill-opacity="0.55"/>
<rect x="190.34" y="383.25" width="0.6" height="264.8" fill="#ffffff" fill-opacity="0.55"/>
<rect x="193.95" y="383.25" width="0.6" height="264.8" fill="#ffffff" fill-opacity="0.55"/>
<rect x="197.57" y="383.25" width="0.6" height="264.8" fill="#ffffff" fill-opacity="0.55"/>
<rect x="201.19" y="383.25" width="0.6" height="264.8" fill="#ffffff" fill-opacity="0.55"/>
<rect x="204.8" y="383.25" width="0.6" height="264.8" fill="#ffffff" fill-opacity="0.55"/>
<rect x="208.41" y="383.25" width="0.6" height="264.8" fill="#ffffff" fill-opacity="0.55"/>
<rect x="212.03" y="383.25" width="0.6" height="264.8" fill="#ffffff" fill-opacity="0.55"/>
<rect x="215.65" y="383.25" width="0.6" height="264.8" fill="#ffffff" fill-opacity="0.55"/>
<rect x="219.26" y="383.25" width="0.6" height="264.8" fill="#ffffff" fill-opacity="0.55"/>
<rect x="222.88" y="383.25" width="0.6" height="264.8" fill="#ffffff" fill-opacity="0.55"/>
<rect x="226.49" y="383.25" width="0.6" height="264.8" fill="#ffffff" fill-opacity="0.55"/>
<rect x="230.1" y="383.25" width="0.6" height="264.8" fill="#ffffff" fill-opacity="0.55"/>
<rect x="233.72" y="383.25" width="0.6" height="264.8" fill="#ffffff" fill-opacity="0.55"/>
<rect x="237.34" y="383.25" width="0.6" height="264.8" fill="#ffffff" fill-opacity="0.55"/>
<rect x="240.95" y="383.25" width="0.6" height="264.8" fill="#ffffff" fill-opacity="0.55"/>
<rect x="244.56" y="383.25" width="0.6" height="264.8" fill="#ffffff" fill-opacity="0.55"/>
<rect x="248.18" y="383.25" width="0.6" height="264.8" fill="#ffffff" fill-opacity="0.55"/>
<rect x="251.79" y="383.25" width="0.6" height="264.8" fill="#ffffff" fill-opacity="0.55"/>
<rect x="255.41" y="383.25" width="0.6" height="264.8" fill="#ffffff" fill-opacity="0.55"/>
<rect x="259.03" y="383.25" width="0.6" height="264.8" fill="#ffffff" fill-opacity="0.55"/>
<rect x="262.64" y="383.25" width="0.6" height="264.8" fill="#ffffff" fill-opacity="0.55"/>
<rect x="266.25" y="383.25" width="0.6" height="264.8" fill="#ffffff" fill-opacity="0.55"/>
<rect x="269.87" y="383.25" width="0.6" height="264.8" fill="#ffffff" fill-opacity="0.55"/>
<rect x="273.49" y="383.25" width="0.6" height="264.8" fill="#ffffff" fill-opacity="0.55"/>
<rect x="277.1" y="383.25" width="0.6" height="264.8" fill="#ffffff" fill-opacity="0.55"/>
<rect x="280.71" y="383.25" width="0.6" height="264.8" fill="#ffffff" fill-opacity="0.55"/>
<rect x="284.33" y="383.25" width="0.6" height="264.8" fill="#ffffff" fill-opacity="0.55"/>
<rect x="287.94" y="383.25" width="0.6" height="264.8" fill="#ffffff" fill-opacity="0.55"/>
<rect x="291.56" y="383.25" width="0.6" height="264.8" fill="#ffffff" fill-opacity="0.55"/>
<rect x="295.18" y="383.25" width="0.6" height="264.8" fill="#ffffff" fill-opacity="0.55"/>
<rect x="298.79" y="383.25" width="0.6" height="264.8" fill="#ffffff" fill-opacity="0.55"/>
<rect x="302.41" y="383.25" width="0.6" height="264.8" fill="#ffffff" fill-opacity="0.55"/>
<rect x="306.02" y="383.25" width="0.6" height="264.8" fill="#ffffff" fill-opacity="0.55"/>
<rect x="309.63" y="383.25" width="0.6" height="264.8" fill="#ffffff" fill-opacity="0.55"/>
<rect x="313.25" y="383.25" width="0.6" height="264.8" fill="#ffffff" fill-opacity="0.55"/>
<rect x="316.87" y="383.25" width="0.6" height="264.8" fill="#ffffff" fill-opacity="0.55"/>
<rect x="320.48" y="383.25" width="0.6" height="264.8" fill="#ffffff" fill-opacity="0.55"/>
<rect x="324.1" y="383.25" width="0.6" height="264.8" fill="#ffffff" fill-opacity="0.55"/>
<rect x="327.71" y="383.25" width="0.6" height="264.8" fill="#ffffff" fill-opacity="0.55"/>
<rect x="331.32" y="383.25" width="0.6" height="264.8" fill="#ffffff" fill-opacity="0.55"/>
<rect x="334.94" y="383.25" width="0.6" height="264.8" fill="#ffffff" fill-opacity="0.55"/>
<rect x="338.56" y="383.25" width="0.6" height="264.8" fill="#ffffff" fill-opacity="0.55"/>
<rect x="342.17" y="383.25" width="0.6" height="264.8" fill="#ffffff" fill-opacity="0.55"/>
<rect x="345.79" y="383.25" width="0.6" height="264.8" fill="#ffffff" fill-opacity="0.55"/>
<rect x="349.4" y="383.25" width="0.6" height="264.8" fill="#ffffff" fill-opacity="0.55"/>
<rect x="353.01" y="383.25" width="0.6" height="264.8" fill="#ffffff" fill-opacity="0.55"/>
<rect x="356.63" y="383.25" width="0.6" height="264.8" fill="#ffffff" fill-opacity="0.55"/>
<rect x="360.25" y="383.25" width="0.6" height="264.8" fill="#ffffff" fill-opacity="0.55"/>
<rect x="363.86" y="383.25" width="0.6" height="264.8" fill="#ffffff" fill-opacity="0.55"/>
<rect x="367.48" y="383.25" width="0.6" height="264.8" fill="#ffffff" fill-opacity="0.55"/>
<rect x="371.09" y="383.25" width="0.6" height="264.8" fill="#ffffff" fill-opacity="0.55"/>
<rect x="374.7" y="383.25" width="0.6" height="264.8" fill="#ffffff" fill-opacity="0.55"/>
<rect x="378.32" y="383.25" width="0.6" height="264.8" fill="#ffffff" fill-opacity="0.55"/>
<rect x="381.94" y="383.25" width="0.6" height="264.8" fill="#ffffff" fill-opacity="0.55"/>
<rect x="385.55" y="383.25" width="0.6" height="264.8" fill="#ffffff" fill-opacity="0.55"/>
<rect x="389.17" y="383.25" width="0.6" height="264.8" fill="#ffffff" fill-opacity="0.55"/>
<rect x="392.78" y="383.25" width="0.6" height="264.8" fill="#ffffff" fill-opacity="0.55"/>
<rect x="396.39" y="383.25" width="0.6" height="264.8" fill="#ffffff" fill-opacity="0.55"/>
<rect x="400.01" y="383.25" width="0.6" height="264.8" fill="#ffffff" fill-opacity="0.55"/>
<rect x="403.62" y="383.25" width="0.6" height="264.8" fill="#ffffff" fill-opacity="0.55"/>
<rect x="407.24" y="383.25" width="0.6" height="264.8" fill="#ffffff" fill-opacity="0.55"/>
<rect x="410.86" y="383.25" width="0.6" height="264.8" fill="#ffffff" fill-opacity="0.55"/>
<rect x="414.47" y="383.25" width="0.6" height="264.8" fill="#ffffff" fill-opacity="0.55"/>
<rect x="418.09" y="383.25" width="0.6" height="264.8" fill="#ffffff" fill-opacity="0.55"/>
<rect x="421.7" y="383.25" width="0.6" height="264.8" fill="#ffffff" fill-opacity="0.55"/>
<rect x="425.31" y="383.25" width="0.6" height="264.8" fill="#ffffff" fill-opacity="0.55"/>
<rect x="428.93" y="383.25" width="0.6" height="264.8" fill="#ffffff" fill-opacity="0.55"/>
<rect x="432.55" y="383.25" width="0.6" height="264.8" fill="#ffffff" fill-opacity="0.55"/>
<rect x="436.16" y="383.25" width="0.6" height="264.8" fill="#ffffff" fill-opacity="0.55"/>
<rect x="439.78" y="383.25" width="0.6" height="264.8" fill="#ffffff" fill-opacity="0.55"/>
<rect x="443.39" y="383.25" width="0.6" height="264.8" fill="#ffffff" fill-opacity="0.55"/>
<rect x="447" y="383.25" width="0.6" height="264.8" fill="#ffffff" fill-opacity="0.55"/>
<rect x="450.62" y="383.25" width="0.6" height="264.8" fill="#ffffff" fill-opacity="0.55"/>
<rect x="454.24" y="383.25" width="0.6" height="264.8" fill="#ffffff" fill-opacity="0.55"/>
<rect x="457.85" y="383.25" width="0.6" height="264.8" fill="#ffffff" fill-opacity="0.55"/>
<rect x="461.47" y="383.25" width="0.6" height="264.8" fill="#ffffff" fill-opacity="0.55"/>
<rect x="465.08" y="383.25" width="0.6" height="264.8" fill="#ffffff" fill-opacity="0.55"/>
<rect x="468.69" y="383.25" width="0.6" height="264.8" fill="#ffffff" fill-opacity="0.55"/>
<rect x="472.31" y="383.25" width="0.6" height="264.8" fill="#ffffff" fill-opacity="0.55"/>
<rect x="475.93" y="383.25" width="0.6" height="264.8" fill="#ffffff" fill-opacity="0.55"/>
<rect x="479.54" y="383.25" width="0.6" height="264.8" fill="#ffffff" fill-opacity="0.55"/>
<rect x="483.16" y="383.25" width="0.6" height="264.8" fill="#ffffff" fill-opacity="0.55"/>
<rect x="486.77" y="383.25" width="0.6" height="264.8" fill="#ffffff" fill-opacity="0.55"/>
<rect x="490.38" y="383.25" width="0.6" height="264.8" fill="#ffffff" fill-opacity="0.55"/>
<rect x="494" y="383.25" width="0.6" height="264.8" fill="#ffffff" fill-opacity="0.55"/>
<rect x="497.62" y="383.25" width="0.6" height="264.8" fill="#ffffff" fill-opacity="0.55"/>
</g>
<text x="56.9" y="392.73" font-family="Liberation Sans" font-size="9.3" font-weight="normal" font-style="italic" text-anchor="end" fill="#000" >TP53</text>
<text x="502.9" y="392.73" font-family="Liberation Sans" font-size="9.4" font-weight="normal" font-style="normal" text-anchor="start" fill="#000" >68%</text>
<text x="56.9" y="405.97" font-family="Liberation Sans" font-size="9.3" font-weight="normal" font-style="italic" text-anchor="end" fill="#000" >PIK3CA</text>
<text x="502.9" y="405.97" font-family="Liberation Sans" font-size="9.4" font-weight="normal" font-style="normal" text-anchor="start" fill="#000" >15%</text>
<text x="56.9" y="419.21" font-family="Liberation Sans" font-size="9.3" font-weight="normal" font-style="italic" text-anchor="end" fill="#000" >PTEN</text>
<text x="502.9" y="419.21" font-family="Liberation Sans" font-size="9.4" font-weight="normal" font-style="normal" text-anchor="start" fill="#000" >6%</text>
<text x="56.9" y="432.45" font-family="Liberation Sans" font-size="9.3" font-weight="normal" font-style="italic" text-anchor="end" fill="#000" >LRP1B</text>
<text x="502.9" y="432.45" font-family="Liberation Sans" font-size="9.4" font-weight="normal" font-style="normal" text-anchor="start" fill="#000" >5%</text>
<text x="56.9" y="445.69" font-family="Liberation Sans" font-size="9.3" font-weight="normal" font-style="italic" text-anchor="end" fill="#000" >RB1</text>
<text x="502.9" y="445.69" font-family="Liberation Sans" font-size="9.4" font-weight="normal" font-style="normal" text-anchor="start" fill="#000" >5%</text>
<text x="56.9" y="458.93" font-family="Liberation Sans" font-size="9.3" font-weight="normal" font-style="italic" text-anchor="end" fill="#000" >EP300</text>
<text x="502.9" y="458.93" font-family="Liberation Sans" font-size="9.4" font-weight="normal" font-style="normal" text-anchor="start" fill="#000" >4%</text>
<text x="56.9" y="472.17" font-family="Liberation Sans" font-size="9.3" font-weight="normal" font-style="italic" text-anchor="end" fill="#000" >EGFR</text>
<text x="502.9" y="472.17" font-family="Liberation Sans" font-size="9.4" font-weight="normal" font-style="normal" text-anchor="start" fill="#000" >4%</text>
<text x="56.9" y="485.41" font-family="Liberation Sans" font-size="9.3" font-weight="normal" font-style="italic" text-anchor="end" fill="#000" >MYC</text>
<text x="502.9" y="485.41" font-family="Liberation Sans" font-size="9.4" font-weight="normal" font-style="normal" text-anchor="start" fill="#000" >4%</text>
<text x="56.9" y="498.65" font-family="Liberation Sans" font-size="9.3" font-weight="normal" font-style="italic" text-anchor="end" fill="#000" >NOTCH3</text>
<text x="502.9" y="498.65" font-family="Liberation Sans" font-size="9.4" font-weight="normal" font-style="normal" text-anchor="start" fill="#000" >3%</text>
<text x="56.9" y="511.88" font-family="Liberation Sans" font-size="9.3" font-weight="normal" font-style="italic" text-anchor="end" fill="#000" >ATR</text>
<text x="502.9" y="511.88" font-family="Liberation Sans" font-size="9.4" font-weight="normal" font-style="normal" text-anchor="start" fill="#000" >3%</text>
<text x="56.9" y="525.12" font-family="Liberation Sans" font-size="9.3" font-weight="normal" font-style="italic" text-anchor="end" fill="#000" >EPHA3</text>
<text x="502.9" y="525.12" font-family="Liberation Sans" font-size="9.4" font-weight="normal" font-style="normal" text-anchor="start" fill="#000" >3%</text>
<text x="56.9" y="538.37" font-family="Liberation Sans" font-size="9.3" font-weight="normal" font-style="italic" text-anchor="end" fill="#000" >HRAS</text>
<text x="502.9" y="538.37" font-family="Liberation Sans" font-size="9.4" font-weight="normal" font-style="normal" text-anchor="start" fill="#000" >3%</text>
<text x="56.9" y="551.61" font-family="Liberation Sans" font-size="9.3" font-weight="normal" font-style="italic" text-anchor="end" fill="#000" >MLH3</text>
<text x="502.9" y="551.61" font-family="Liberation Sans" font-size="9.4" font-weight="normal" font-style="normal" text-anchor="start" fill="#000" >3%</text>
<text x="56.9" y="564.85" font-family="Liberation Sans" font-size="9.3" font-weight="normal" font-style="italic" text-anchor="end" fill="#000" >ARID1B</text>
<text x="502.9" y="564.85" font-family="Liberation Sans" font-size="9.4" font-weight="normal" font-style="normal" text-anchor="start" fill="#000" >3%</text>
<text x="56.9" y="578.09" font-family="Liberation Sans" font-size="9.3" font-weight="normal" font-style="italic" text-anchor="end" fill="#000" >CTNNA1</text>
<text x="502.9" y="578.09" font-family="Liberation Sans" font-size="9.4" font-weight="normal" font-style="normal" text-anchor="start" fill="#000" >3%</text>
<text x="56.9" y="591.33" font-family="Liberation Sans" font-size="9.3" font-weight="normal" font-style="italic" text-anchor="end" fill="#000" >FAT1</text>
<text x="502.9" y="591.33" font-family="Liberation Sans" font-size="9.4" font-weight="normal" font-style="normal" text-anchor="start" fill="#000" >3%</text>
<text x="56.9" y="604.57" font-family="Liberation Sans" font-size="9.3" font-weight="normal" font-style="italic" text-anchor="end" fill="#000" >GRIN2A</text>
<text x="502.9" y="604.57" font-family="Liberation Sans" font-size="9.4" font-weight="normal" font-style="normal" text-anchor="start" fill="#000" >3%</text>
<text x="56.9" y="617.81" font-family="Liberation Sans" font-size="9.3" font-weight="normal" font-style="italic" text-anchor="end" fill="#000" >MLL3</text>
<text x="502.9" y="617.81" font-family="Liberation Sans" font-size="9.4" font-weight="normal" font-style="normal" text-anchor="start" fill="#000" >3%</text>
<text x="56.9" y="631.04" font-family="Liberation Sans" font-size="9.3" font-weight="normal" font-style="italic" text-anchor="end" fill="#000" >NOTCH2</text>
<text x="502.9" y="631.04" font-family="Liberation Sans" font-size="9.4" font-weight="normal" font-style="normal" text-anchor="start" fill="#000" >3%</text>
<text x="56.9" y="644.28" font-family="Liberation Sans" font-size="9.3" font-weight="normal" font-style="italic" text-anchor="end" fill="#000" >CCNE1</text>
<text x="502.9" y="644.28" font-family="Liberation Sans" font-size="9.4" font-weight="normal" font-style="normal" text-anchor="start" fill="#000" >3%</text>
<rect x="60.5" y="654.2" width="3.67" height="13.5" fill="#993a5f" />
<rect x="64.11" y="654.2" width="3.67" height="13.5" fill="#e5afcb" />
<rect x="67.73" y="654.2" width="3.67" height="13.5" fill="#e5afcb" />
<rect x="71.34" y="654.2" width="3.67" height="13.5" fill="#e5afcb" />
<rect x="74.96" y="654.2" width="3.67" height="13.5" fill="#993a5f" />
<rect x="78.58" y="654.2" width="3.67" height="13.5" fill="#993a5f" />
<rect x="82.19" y="654.2" width="3.67" height="13.5" fill="#993a5f" />
<rect x="85.81" y="654.2" width="3.67" height="13.5" fill="#e5afcb" />
<rect x="89.42" y="654.2" width="3.67" height="13.5" fill="#e5afcb" />
<rect x="93.03" y="654.2" width="3.67" height="13.5" fill="#e5afcb" />
<rect x="96.65" y="654.2" width="3.67" height="13.5" fill="#993a5f" />
<rect x="100.27" y="654.2" width="3.67" height="13.5" fill="#e5afcb" />
<rect x="103.88" y="654.2" width="3.67" height="13.5" fill="#e5afcb" />
<rect x="107.5" y="654.2" width="3.67" height="13.5" fill="#e5afcb" />
<rect x="111.11" y="654.2" width="3.67" height="13.5" fill="#e5afcb" />
<rect x="114.72" y="654.2" width="3.67" height="13.5" fill="#993a5f" />
<rect x="118.34" y="654.2" width="3.67" height="13.5" fill="#e5afcb" />
<rect x="121.96" y="654.2" width="3.67" height="13.5" fill="#993a5f" />
<rect x="125.57" y="654.2" width="3.67" height="13.5" fill="#993a5f" />
<rect x="129.19" y="654.2" width="3.67" height="13.5" fill="#e5afcb" />
<rect x="132.8" y="654.2" width="3.67" height="13.5" fill="#e5afcb" />
<rect x="136.42" y="654.2" width="3.67" height="13.5" fill="#993a5f" />
<rect x="140.03" y="654.2" width="3.67" height="13.5" fill="#e5afcb" />
<rect x="143.65" y="654.2" width="3.67" height="13.5" fill="#e5afcb" />
<rect x="147.26" y="654.2" width="3.67" height="13.5" fill="#e5afcb" />
<rect x="150.88" y="654.2" width="3.67" height="13.5" fill="#e5afcb" />
<rect x="154.49" y="654.2" width="3.67" height="13.5" fill="#e5afcb" />
<rect x="158.11" y="654.2" width="3.67" height="13.5" fill="#993a5f" />
<rect x="161.72" y="654.2" width="3.67" height="13.5" fill="#993a5f" />
<rect x="165.34" y="654.2" width="3.67" height="13.5" fill="#993a5f" />
<rect x="168.95" y="654.2" width="3.67" height="13.5" fill="#993a5f" />
<rect x="172.56" y="654.2" width="3.67" height="13.5" fill="#e5afcb" />
<rect x="176.18" y="654.2" width="3.67" height="13.5" fill="#e5afcb" />
<rect x="179.8" y="654.2" width="3.67" height="13.5" fill="#e5afcb" />
<rect x="183.41" y="654.2" width="3.67" height="13.5" fill="#e5afcb" />
<rect x="187.03" y="654.2" width="3.67" height="13.5" fill="#e5afcb" />
<rect x="190.64" y="654.2" width="3.67" height="13.5" fill="#e5afcb" />
<rect x="194.25" y="654.2" width="3.67" height="13.5" fill="#e5afcb" />
<rect x="197.87" y="654.2" width="3.67" height="13.5" fill="#e5afcb" />
<rect x="201.49" y="654.2" width="3.67" height="13.5" fill="#e5afcb" />
<rect x="205.1" y="654.2" width="3.67" height="13.5" fill="#993a5f" />
<rect x="208.72" y="654.2" width="3.67" height="13.5" fill="#993a5f" />
<rect x="212.33" y="654.2" width="3.67" height="13.5" fill="#e5afcb" />
<rect x="215.95" y="654.2" width="3.67" height="13.5" fill="#993a5f" />
<rect x="219.56" y="654.2" width="3.67" height="13.5" fill="#993a5f" />
<rect x="223.18" y="654.2" width="3.67" height="13.5" fill="#993a5f" />
<rect x="226.79" y="654.2" width="3.67" height="13.5" fill="#e5afcb" />
<rect x="230.41" y="654.2" width="3.67" height="13.5" fill="#993a5f" />
<rect x="234.02" y="654.2" width="3.67" height="13.5" fill="#993a5f" />
<rect x="237.64" y="654.2" width="3.67" height="13.5" fill="#993a5f" />
<rect x="241.25" y="654.2" width="3.67" height="13.5" fill="#e5afcb" />
<rect x="244.87" y="654.2" width="3.67" height="13.5" fill="#e5afcb" />
<rect x="248.48" y="654.2" width="3.67" height="13.5" fill="#e5afcb" />
<rect x="252.09" y="654.2" width="3.67" height="13.5" fill="#e5afcb" />
<rect x="255.71" y="654.2" width="3.67" height="13.5" fill="#e5afcb" />
<rect x="259.33" y="654.2" width="3.67" height="13.5" fill="#993a5f" />
<rect x="262.94" y="654.2" width="3.67" height="13.5" fill="#e5afcb" />
<rect x="266.56" y="654.2" width="3.67" height="13.5" fill="#e5afcb" />
<rect x="270.17" y="654.2" width="3.67" height="13.5" fill="#993a5f" />
<rect x="273.79" y="654.2" width="3.67" height="13.5" fill="#e5afcb" />
<rect x="277.4" y="654.2" width="3.67" height="13.5" fill="#993a5f" />
<rect x="281.01" y="654.2" width="3.67" height="13.5" fill="#e5afcb" />
<rect x="284.63" y="654.2" width="3.67" height="13.5" fill="#993a5f" />
<rect x="288.25" y="654.2" width="3.67" height="13.5" fill="#993a5f" />
<rect x="291.86" y="654.2" width="3.67" height="13.5" fill="#e5afcb" />
<rect x="295.48" y="654.2" width="3.67" height="13.5" fill="#e5afcb" />
<rect x="299.09" y="654.2" width="3.67" height="13.5" fill="#993a5f" />
<rect x="302.71" y="654.2" width="3.67" height="13.5" fill="#e5afcb" />
<rect x="306.32" y="654.2" width="3.67" height="13.5" fill="#993a5f" />
<rect x="309.94" y="654.2" width="3.67" height="13.5" fill="#e5afcb" />
<rect x="313.55" y="654.2" width="3.67" height="13.5" fill="#993a5f" />
<rect x="317.17" y="654.2" width="3.67" height="13.5" fill="#e5afcb" />
<rect x="320.78" y="654.2" width="3.67" height="13.5" fill="#e5afcb" />
<rect x="324.4" y="654.2" width="3.67" height="13.5" fill="#e5afcb" />
<rect x="328.01" y="654.2" width="3.67" height="13.5" fill="#e5afcb" />
<rect x="331.62" y="654.2" width="3.67" height="13.5" fill="#e5afcb" />
<rect x="335.24" y="654.2" width="3.67" height="13.5" fill="#e5afcb" />
<rect x="338.86" y="654.2" width="3.67" height="13.5" fill="#993a5f" />
<rect x="342.47" y="654.2" width="3.67" height="13.5" fill="#993a5f" />
<rect x="346.09" y="654.2" width="3.67" height="13.5" fill="#e5afcb" />
<rect x="349.7" y="654.2" width="3.67" height="13.5" fill="#e5afcb" />
<rect x="353.31" y="654.2" width="3.67" height="13.5" fill="#993a5f" />
<rect x="356.93" y="654.2" width="3.67" height="13.5" fill="#e5afcb" />
<rect x="360.55" y="654.2" width="3.67" height="13.5" fill="#e5afcb" />
<rect x="364.16" y="654.2" width="3.67" height="13.5" fill="#e5afcb" />
<rect x="367.78" y="654.2" width="3.67" height="13.5" fill="#993a5f" />
<rect x="371.39" y="654.2" width="3.67" height="13.5" fill="#e5afcb" />
<rect x="375" y="654.2" width="3.67" height="13.5" fill="#e5afcb" />
<rect x="378.62" y="654.2" width="3.67" height="13.5" fill="#e5afcb" />
<rect x="382.24" y="654.2" width="3.67" height="13.5" fill="#e5afcb" />
<rect x="385.85" y="654.2" width="3.67" height="13.5" fill="#e5afcb" />
<rect x="389.47" y="654.2" width="3.67" height="13.5" fill="#e5afcb" />
<rect x="393.08" y="654.2" width="3.67" height="13.5" fill="#993a5f" />
<rect x="396.69" y="654.2" width="3.67" height="13.5" fill="#e5afcb" />
<rect x="400.31" y="654.2" width="3.67" height="13.5" fill="#e5afcb" />
<rect x="403.93" y="654.2" width="3.67" height="13.5" fill="#e5afcb" />
<rect x="407.54" y="654.2" width="3.67" height="13.5" fill="#e5afcb" />
<rect x="411.16" y="654.2" width="3.67" height="13.5" fill="#e5afcb" />
<rect x="414.77" y="654.2" width="3.67" height="13.5" fill="#e5afcb" />
<rect x="418.39" y="654.2" width="3.67" height="13.5" fill="#e5afcb" />
<rect x="422" y="654.2" width="3.67" height="13.5" fill="#e5afcb" />
<rect x="425.62" y="654.2" width="3.67" height="13.5" fill="#e5afcb" />
<rect x="429.23" y="654.2" width="3.67" height="13.5" fill="#e5afcb" />
<rect x="432.85" y="654.2" width="3.67" height="13.5" fill="#993a5f" />
<rect x="436.46" y="654.2" width="3.67" height="13.5" fill="#e5afcb" />
<rect x="440.08" y="654.2" width="3.67" height="13.5" fill="#e5afcb" />
<rect x="443.69" y="654.2" width="3.67" height="13.5" fill="#993a5f" />
<rect x="447.31" y="654.2" width="3.67" height="13.5" fill="#e5afcb" />
<rect x="450.92" y="654.2" width="3.67" height="13.5" fill="#993a5f" />
<rect x="454.54" y="654.2" width="3.67" height="13.5" fill="#993a5f" />
<rect x="458.15" y="654.2" width="3.67" height="13.5" fill="#e5afcb" />
<rect x="461.77" y="654.2" width="3.67" height="13.5" fill="#e5afcb" />
<rect x="465.38" y="654.2" width="3.67" height="13.5" fill="#993a5f" />
<rect x="469" y="654.2" width="3.67" height="13.5" fill="#993a5f" />
<rect x="472.61" y="654.2" width="3.67" height="13.5" fill="#e5afcb" />
<rect x="476.23" y="654.2" width="3.67" height="13.5" fill="#e5afcb" />
<rect x="479.84" y="654.2" width="3.67" height="13.5" fill="#e5afcb" />
<rect x="483.46" y="654.2" width="3.67" height="13.5" fill="#e5afcb" />
<rect x="487.07" y="654.2" width="3.67" height="13.5" fill="#e5afcb" />
<rect x="490.69" y="654.2" width="3.67" height="13.5" fill="#e5afcb" />
<rect x="494.3" y="654.2" width="3.67" height="13.5" fill="#e5afcb" />
<rect x="497.92" y="654.2" width="3.67" height="13.5" fill="#e5afcb" />
<rect x="63.81" y="654.2" width="0.6" height="13.5" fill="#ffffff" fill-opacity="0.45"/>
<rect x="67.43" y="654.2" width="0.6" height="13.5" fill="#ffffff" fill-opacity="0.45"/>
<rect x="71.05" y="654.2" width="0.6" height="13.5" fill="#ffffff" fill-opacity="0.45"/>
<rect x="74.66" y="654.2" width="0.6" height="13.5" fill="#ffffff" fill-opacity="0.45"/>
<rect x="78.28" y="654.2" width="0.6" height="13.5" fill="#ffffff" fill-opacity="0.45"/>
<rect x="81.89" y="654.2" width="0.6" height="13.5" fill="#ffffff" fill-opacity="0.45"/>
<rect x="85.51" y="654.2" width="0.6" height="13.5" fill="#ffffff" fill-opacity="0.45"/>
<rect x="89.12" y="654.2" width="0.6" height="13.5" fill="#ffffff" fill-opacity="0.45"/>
<rect x="92.73" y="654.2" width="0.6" height="13.5" fill="#ffffff" fill-opacity="0.45"/>
<rect x="96.35" y="654.2" width="0.6" height="13.5" fill="#ffffff" fill-opacity="0.45"/>
<rect x="99.97" y="654.2" width="0.6" height="13.5" fill="#ffffff" fill-opacity="0.45"/>
<rect x="103.58" y="654.2" width="0.6" height="13.5" fill="#ffffff" fill-opacity="0.45"/>
<rect x="107.2" y="654.2" width="0.6" height="13.5" fill="#ffffff" fill-opacity="0.45"/>
<rect x="110.81" y="654.2" width="0.6" height="13.5" fill="#ffffff" fill-opacity="0.45"/>
<rect x="114.42" y="654.2" width="0.6" height="13.5" fill="#ffffff" fill-opacity="0.45"/>
<rect x="118.04" y="654.2" width="0.6" height="13.5" fill="#ffffff" fill-opacity="0.45"/>
<rect x="121.66" y="654.2" width="0.6" height="13.5" fill="#ffffff" fill-opacity="0.45"/>
<rect x="125.27" y="654.2" width="0.6" height="13.5" fill="#ffffff" fill-opacity="0.45"/>
<rect x="128.88" y="654.2" width="0.6" height="13.5" fill="#ffffff" fill-opacity="0.45"/>
<rect x="132.5" y="654.2" width="0.6" height="13.5" fill="#ffffff" fill-opacity="0.45"/>
<rect x="136.12" y="654.2" width="0.6" height="13.5" fill="#ffffff" fill-opacity="0.45"/>
<rect x="139.73" y="654.2" width="0.6" height="13.5" fill="#ffffff" fill-opacity="0.45"/>
<rect x="143.34" y="654.2" width="0.6" height="13.5" fill="#ffffff" fill-opacity="0.45"/>
<rect x="146.96" y="654.2" width="0.6" height="13.5" fill="#ffffff" fill-opacity="0.45"/>
<rect x="150.57" y="654.2" width="0.6" height="13.5" fill="#ffffff" fill-opacity="0.45"/>
<rect x="154.19" y="654.2" width="0.6" height="13.5" fill="#ffffff" fill-opacity="0.45"/>
<rect x="157.81" y="654.2" width="0.6" height="13.5" fill="#ffffff" fill-opacity="0.45"/>
<rect x="161.42" y="654.2" width="0.6" height="13.5" fill="#ffffff" fill-opacity="0.45"/>
<rect x="165.03" y="654.2" width="0.6" height="13.5" fill="#ffffff" fill-opacity="0.45"/>
<rect x="168.65" y="654.2" width="0.6" height="13.5" fill="#ffffff" fill-opacity="0.45"/>
<rect x="172.26" y="654.2" width="0.6" height="13.5" fill="#ffffff" fill-opacity="0.45"/>
<rect x="175.88" y="654.2" width="0.6" height="13.5" fill="#ffffff" fill-opacity="0.45"/>
<rect x="179.5" y="654.2" width="0.6" height="13.5" fill="#ffffff" fill-opacity="0.45"/>
<rect x="183.11" y="654.2" width="0.6" height="13.5" fill="#ffffff" fill-opacity="0.45"/>
<rect x="186.72" y="654.2" width="0.6" height="13.5" fill="#ffffff" fill-opacity="0.45"/>
<rect x="190.34" y="654.2" width="0.6" height="13.5" fill="#ffffff" fill-opacity="0.45"/>
<rect x="193.95" y="654.2" width="0.6" height="13.5" fill="#ffffff" fill-opacity="0.45"/>
<rect x="197.57" y="654.2" width="0.6" height="13.5" fill="#ffffff" fill-opacity="0.45"/>
<rect x="201.19" y="654.2" width="0.6" height="13.5" fill="#ffffff" fill-opacity="0.45"/>
<rect x="204.8" y="654.2" width="0.6" height="13.5" fill="#ffffff" fill-opacity="0.45"/>
<rect x="208.41" y="654.2" width="0.6" height="13.5" fill="#ffffff" fill-opacity="0.45"/>
<rect x="212.03" y="654.2" width="0.6" height="13.5" fill="#ffffff" fill-opacity="0.45"/>
<rect x="215.65" y="654.2" width="0.6" height="13.5" fill="#ffffff" fill-opacity="0.45"/>
<rect x="219.26" y="654.2" width="0.6" height="13.5" fill="#ffffff" fill-opacity="0.45"/>
<rect x="222.88" y="654.2" width="0.6" height="13.5" fill="#ffffff" fill-opacity="0.45"/>
<rect x="226.49" y="654.2" width="0.6" height="13.5" fill="#ffffff" fill-opacity="0.45"/>
<rect x="230.1" y="654.2" width="0.6" height="13.5" fill="#ffffff" fill-opacity="0.45"/>
<rect x="233.72" y="654.2" width="0.6" height="13.5" fill="#ffffff" fill-opacity="0.45"/>
<rect x="237.34" y="654.2" width="0.6" height="13.5" fill="#ffffff" fill-opacity="0.45"/>
<rect x="240.95" y="654.2" width="0.6" height="13.5" fill="#ffffff" fill-opacity="0.45"/>
<rect x="244.56" y="654.2" width="0.6" height="13.5" fill="#ffffff" fill-opacity="0.45"/>
<rect x="248.18" y="654.2" width="0.6" height="13.5" fill="#ffffff" fill-opacity="0.45"/>
<rect x="251.79" y="654.2" width="0.6" height="13.5" fill="#ffffff" fill-opacity="0.45"/>
<rect x="255.41" y="654.2" width="0.6" height="13.5" fill="#ffffff" fill-opacity="0.45"/>
<rect x="259.03" y="654.2" width="0.6" height="13.5" fill="#ffffff" fill-opacity="0.45"/>
<rect x="262.64" y="654.2" width="0.6" height="13.5" fill="#ffffff" fill-opacity="0.45"/>
<rect x="266.25" y="654.2" width="0.6" height="13.5" fill="#ffffff" fill-opacity="0.45"/>
<rect x="269.87" y="654.2" width="0.6" height="13.5" fill="#ffffff" fill-opacity="0.45"/>
<rect x="273.49" y="654.2" width="0.6" height="13.5" fill="#ffffff" fill-opacity="0.45"/>
<rect x="277.1" y="654.2" width="0.6" height="13.5" fill="#ffffff" fill-opacity="0.45"/>
<rect x="280.71" y="654.2" width="0.6" height="13.5" fill="#ffffff" fill-opacity="0.45"/>
<rect x="284.33" y="654.2" width="0.6" height="13.5" fill="#ffffff" fill-opacity="0.45"/>
<rect x="287.94" y="654.2" width="0.6" height="13.5" fill="#ffffff" fill-opacity="0.45"/>
<rect x="291.56" y="654.2" width="0.6" height="13.5" fill="#ffffff" fill-opacity="0.45"/>
<rect x="295.18" y="654.2" width="0.6" height="13.5" fill="#ffffff" fill-opacity="0.45"/>
<rect x="298.79" y="654.2" width="0.6" height="13.5" fill="#ffffff" fill-opacity="0.45"/>
<rect x="302.41" y="654.2" width="0.6" height="13.5" fill="#ffffff" fill-opacity="0.45"/>
<rect x="306.02" y="654.2" width="0.6" height="13.5" fill="#ffffff" fill-opacity="0.45"/>
<rect x="309.63" y="654.2" width="0.6" height="13.5" fill="#ffffff" fill-opacity="0.45"/>
<rect x="313.25" y="654.2" width="0.6" height="13.5" fill="#ffffff" fill-opacity="0.45"/>
<rect x="316.87" y="654.2" width="0.6" height="13.5" fill="#ffffff" fill-opacity="0.45"/>
<rect x="320.48" y="654.2" width="0.6" height="13.5" fill="#ffffff" fill-opacity="0.45"/>
<rect x="324.1" y="654.2" width="0.6" height="13.5" fill="#ffffff" fill-opacity="0.45"/>
<rect x="327.71" y="654.2" width="0.6" height="13.5" fill="#ffffff" fill-opacity="0.45"/>
<rect x="331.32" y="654.2" width="0.6" height="13.5" fill="#ffffff" fill-opacity="0.45"/>
<rect x="334.94" y="654.2" width="0.6" height="13.5" fill="#ffffff" fill-opacity="0.45"/>
<rect x="338.56" y="654.2" width="0.6" height="13.5" fill="#ffffff" fill-opacity="0.45"/>
<rect x="342.17" y="654.2" width="0.6" height="13.5" fill="#ffffff" fill-opacity="0.45"/>
<rect x="345.79" y="654.2" width="0.6" height="13.5" fill="#ffffff" fill-opacity="0.45"/>
<rect x="349.4" y="654.2" width="0.6" height="13.5" fill="#ffffff" fill-opacity="0.45"/>
<rect x="353.01" y="654.2" width="0.6" height="13.5" fill="#ffffff" fill-opacity="0.45"/>
<rect x="356.63" y="654.2" width="0.6" height="13.5" fill="#ffffff" fill-opacity="0.45"/>
<rect x="360.25" y="654.2" width="0.6" height="13.5" fill="#ffffff" fill-opacity="0.45"/>
<rect x="363.86" y="654.2" width="0.6" height="13.5" fill="#ffffff" fill-opacity="0.45"/>
<rect x="367.48" y="654.2" width="0.6" height="13.5" fill="#ffffff" fill-opacity="0.45"/>
<rect x="371.09" y="654.2" width="0.6" height="13.5" fill="#ffffff" fill-opacity="0.45"/>
<rect x="374.7" y="654.2" width="0.6" height="13.5" fill="#ffffff" fill-opacity="0.45"/>
<rect x="378.32" y="654.2" width="0.6" height="13.5" fill="#ffffff" fill-opacity="0.45"/>
<rect x="381.94" y="654.2" width="0.6" height="13.5" fill="#ffffff" fill-opacity="0.45"/>
<rect x="385.55" y="654.2" width="0.6" height="13.5" fill="#ffffff" fill-opacity="0.45"/>
<rect x="389.17" y="654.2" width="0.6" height="13.5" fill="#ffffff" fill-opacity="0.45"/>
<rect x="392.78" y="654.2" width="0.6" height="13.5" fill="#ffffff" fill-opacity="0.45"/>
<rect x="396.39" y="654.2" width="0.6" height="13.5" fill="#ffffff" fill-opacity="0.45"/>
<rect x="400.01" y="654.2" width="0.6" height="13.5" fill="#ffffff" fill-opacity="0.45"/>
<rect x="403.62" y="654.2" width="0.6" height="13.5" fill="#ffffff" fill-opacity="0.45"/>
<rect x="407.24" y="654.2" width="0.6" height="13.5" fill="#ffffff" fill-opacity="0.45"/>
<rect x="410.86" y="654.2" width="0.6" height="13.5" fill="#ffffff" fill-opacity="0.45"/>
<rect x="414.47" y="654.2" width="0.6" height="13.5" fill="#ffffff" fill-opacity="0.45"/>
<rect x="418.09" y="654.2" width="0.6" height="13.5" fill="#ffffff" fill-opacity="0.45"/>
<rect x="421.7" y="654.2" width="0.6" height="13.5" fill="#ffffff" fill-opacity="0.45"/>
<rect x="425.31" y="654.2" width="0.6" height="13.5" fill="#ffffff" fill-opacity="0.45"/>
<rect x="428.93" y="654.2" width="0.6" height="13.5" fill="#ffffff" fill-opacity="0.45"/>
<rect x="432.55" y="654.2" width="0.6" height="13.5" fill="#ffffff" fill-opacity="0.45"/>
<rect x="436.16" y="654.2" width="0.6" height="13.5" fill="#ffffff" fill-opacity="0.45"/>
<rect x="439.78" y="654.2" width="0.6" height="13.5" fill="#ffffff" fill-opacity="0.45"/>
<rect x="443.39" y="654.2" width="0.6" height="13.5" fill="#ffffff" fill-opacity="0.45"/>
<rect x="447" y="654.2" width="0.6" height="13.5" fill="#ffffff" fill-opacity="0.45"/>
<rect x="450.62" y="654.2" width="0.6" height="13.5" fill="#ffffff" fill-opacity="0.45"/>
<rect x="454.24" y="654.2" width="0.6" height="13.5" fill="#ffffff" fill-opacity="0.45"/>
<rect x="457.85" y="654.2" width="0.6" height="13.5" fill="#ffffff" fill-opacity="0.45"/>
<rect x="461.47" y="654.2" width="0.6" height="13.5" fill="#ffffff" fill-opacity="0.45"/>
<rect x="465.08" y="654.2" width="0.6" height="13.5" fill="#ffffff" fill-opacity="0.45"/>
<rect x="468.69" y="654.2" width="0.6" height="13.5" fill="#ffffff" fill-opacity="0.45"/>
<rect x="472.31" y="654.2" width="0.6" height="13.5" fill="#ffffff" fill-opacity="0.45"/>
<rect x="475.93" y="654.2" width="0.6" height="13.5" fill="#ffffff" fill-opacity="0.45"/>
<rect x="479.54" y="654.2" width="0.6" height="13.5" fill="#ffffff" fill-opacity="0.45"/>
<rect x="483.16" y="654.2" width="0.6" height="13.5" fill="#ffffff" fill-opacity="0.45"/>
<rect x="486.77" y="654.2" width="0.6" height="13.5" fill="#ffffff" fill-opacity="0.45"/>
<rect x="490.38" y="654.2" width="0.6" height="13.5" fill="#ffffff" fill-opacity="0.45"/>
<rect x="494" y="654.2" width="0.6" height="13.5" fill="#ffffff" fill-opacity="0.45"/>
<rect x="497.62" y="654.2" width="0.6" height="13.5" fill="#ffffff" fill-opacity="0.45"/>
<text x="58.9" y="664.25" font-family="Liberation Sans" font-size="9" font-weight="bold" font-style="normal" text-anchor="end" fill="#000" >Age</text>
<rect x="60.5" y="669.1" width="3.67" height="13.5" fill="#9461ad" />
<rect x="64.11" y="669.1" width="3.67" height="13.5" fill="#9461ad" />
<rect x="67.73" y="669.1" width="3.67" height="13.5" fill="#e5afcb" />
<rect x="71.34" y="669.1" width="3.67" height="13.5" fill="#e5afcb" />
<rect x="74.96" y="669.1" width="3.67" height="13.5" fill="#9461ad" />
<rect x="78.58" y="669.1" width="3.67" height="13.5" fill="#9461ad" />
<rect x="82.19" y="669.1" width="3.67" height="13.5" fill="#e5afcb" />
<rect x="85.81" y="669.1" width="3.67" height="13.5" fill="#9461ad" />
<rect x="89.42" y="669.1" width="3.67" height="13.5" fill="#e5afcb" />
<rect x="93.03" y="669.1" width="3.67" height="13.5" fill="#9461ad" />
<rect x="96.65" y="669.1" width="3.67" height="13.5" fill="#e5afcb" />
<rect x="100.27" y="669.1" width="3.67" height="13.5" fill="#e5afcb" />
<rect x="103.88" y="669.1" width="3.67" height="13.5" fill="#d6cde5" />
<rect x="107.5" y="669.1" width="3.67" height="13.5" fill="#e5afcb" />
<rect x="111.11" y="669.1" width="3.67" height="13.5" fill="#e5afcb" />
<rect x="114.72" y="669.1" width="3.67" height="13.5" fill="#e5afcb" />
<rect x="118.34" y="669.1" width="3.67" height="13.5" fill="#e5afcb" />
<rect x="121.96" y="669.1" width="3.67" height="13.5" fill="#e5afcb" />
<rect x="125.57" y="669.1" width="3.67" height="13.5" fill="#9461ad" />
<rect x="129.19" y="669.1" width="3.67" height="13.5" fill="#e5afcb" />
<rect x="132.8" y="669.1" width="3.67" height="13.5" fill="#e5afcb" />
<rect x="136.42" y="669.1" width="3.67" height="13.5" fill="#d6cde5" />
<rect x="140.03" y="669.1" width="3.67" height="13.5" fill="#9461ad" />
<rect x="143.65" y="669.1" width="3.67" height="13.5" fill="#e5afcb" />
<rect x="147.26" y="669.1" width="3.67" height="13.5" fill="#e5afcb" />
<rect x="150.88" y="669.1" width="3.67" height="13.5" fill="#e5afcb" />
<rect x="154.49" y="669.1" width="3.67" height="13.5" fill="#e5afcb" />
<rect x="158.11" y="669.1" width="3.67" height="13.5" fill="#e5afcb" />
<rect x="161.72" y="669.1" width="3.67" height="13.5" fill="#9461ad" />
<rect x="165.34" y="669.1" width="3.67" height="13.5" fill="#9461ad" />
<rect x="168.95" y="669.1" width="3.67" height="13.5" fill="#e5afcb" />
<rect x="172.56" y="669.1" width="3.67" height="13.5" fill="#9461ad" />
<rect x="176.18" y="669.1" width="3.67" height="13.5" fill="#9461ad" />
<rect x="179.8" y="669.1" width="3.67" height="13.5" fill="#d6cde5" />
<rect x="183.41" y="669.1" width="3.67" height="13.5" fill="#e5afcb" />
<rect x="187.03" y="669.1" width="3.67" height="13.5" fill="#9461ad" />
<rect x="190.64" y="669.1" width="3.67" height="13.5" fill="#9461ad" />
<rect x="194.25" y="669.1" width="3.67" height="13.5" fill="#e5afcb" />
<rect x="197.87" y="669.1" width="3.67" height="13.5" fill="#e5afcb" />
<rect x="201.49" y="669.1" width="3.67" height="13.5" fill="#e5afcb" />
<rect x="205.1" y="669.1" width="3.67" height="13.5" fill="#e5afcb" />
<rect x="208.72" y="669.1" width="3.67" height="13.5" fill="#9461ad" />
<rect x="212.33" y="669.1" width="3.67" height="13.5" fill="#e5afcb" />
<rect x="215.95" y="669.1" width="3.67" height="13.5" fill="#e5afcb" />
<rect x="219.56" y="669.1" width="3.67" height="13.5" fill="#e5afcb" />
<rect x="223.18" y="669.1" width="3.67" height="13.5" fill="#e5afcb" />
<rect x="226.79" y="669.1" width="3.67" height="13.5" fill="#e5afcb" />
<rect x="230.41" y="669.1" width="3.67" height="13.5" fill="#e5afcb" />
<rect x="234.02" y="669.1" width="3.67" height="13.5" fill="#e5afcb" />
<rect x="237.64" y="669.1" width="3.67" height="13.5" fill="#e5afcb" />
<rect x="241.25" y="669.1" width="3.67" height="13.5" fill="#e5afcb" />
<rect x="244.87" y="669.1" width="3.67" height="13.5" fill="#e5afcb" />
<rect x="248.48" y="669.1" width="3.67" height="13.5" fill="#e5afcb" />
<rect x="252.09" y="669.1" width="3.67" height="13.5" fill="#e5afcb" />
<rect x="255.71" y="669.1" width="3.67" height="13.5" fill="#9461ad" />
<rect x="259.33" y="669.1" width="3.67" height="13.5" fill="#e5afcb" />
<rect x="262.94" y="669.1" width="3.67" height="13.5" fill="#d6cde5" />
<rect x="266.56" y="669.1" width="3.67" height="13.5" fill="#9461ad" />
<rect x="270.17" y="669.1" width="3.67" height="13.5" fill="#e5afcb" />
<rect x="273.79" y="669.1" width="3.67" height="13.5" fill="#e5afcb" />
<rect x="277.4" y="669.1" width="3.67" height="13.5" fill="#9461ad" />
<rect x="281.01" y="669.1" width="3.67" height="13.5" fill="#9461ad" />
<rect x="284.63" y="669.1" width="3.67" height="13.5" fill="#e5afcb" />
<rect x="288.25" y="669.1" width="3.67" height="13.5" fill="#e5afcb" />
<rect x="291.86" y="669.1" width="3.67" height="13.5" fill="#e5afcb" />
<rect x="295.48" y="669.1" width="3.67" height="13.5" fill="#e5afcb" />
<rect x="299.09" y="669.1" width="3.67" height="13.5" fill="#e5afcb" />
<rect x="302.71" y="669.1" width="3.67" height="13.5" fill="#e5afcb" />
<rect x="306.32" y="669.1" width="3.67" height="13.5" fill="#d6cde5" />
<rect x="309.94" y="669.1" width="3.67" height="13.5" fill="#e5afcb" />
<rect x="313.55" y="669.1" width="3.67" height="13.5" fill="#e5afcb" />
<rect x="317.17" y="669.1" width="3.67" height="13.5" fill="#e5afcb" />
<rect x="320.78" y="669.1" width="3.67" height="13.5" fill="#e5afcb" />
<rect x="324.4" y="669.1" width="3.67" height="13.5" fill="#d6cde5" />
<rect x="328.01" y="669.1" width="3.67" height="13.5" fill="#e5afcb" />
<rect x="331.62" y="669.1" width="3.67" height="13.5" fill="#993a5f" />
<rect x="335.24" y="669.1" width="3.67" height="13.5" fill="#e5afcb" />
<rect x="338.86" y="669.1" width="3.67" height="13.5" fill="#e5afcb" />
<rect x="342.47" y="669.1" width="3.67" height="13.5" fill="#e5afcb" />
<rect x="346.09" y="669.1" width="3.67" height="13.5" fill="#e5afcb" />
<rect x="349.7" y="669.1" width="3.67" height="13.5" fill="#e5afcb" />
<rect x="353.31" y="669.1" width="3.67" height="13.5" fill="#e5afcb" />
<rect x="356.93" y="669.1" width="3.67" height="13.5" fill="#e5afcb" />
<rect x="360.55" y="669.1" width="3.67" height="13.5" fill="#e5afcb" />
<rect x="364.16" y="669.1" width="3.67" height="13.5" fill="#e5afcb" />
<rect x="367.78" y="669.1" width="3.67" height="13.5" fill="#e5afcb" />
<rect x="371.39" y="669.1" width="3.67" height="13.5" fill="#e5afcb" />
<rect x="375" y="669.1" width="3.67" height="13.5" fill="#e5afcb" />
<rect x="378.62" y="669.1" width="3.67" height="13.5" fill="#e5afcb" />
<rect x="382.24" y="669.1" width="3.67" height="13.5" fill="#e5afcb" />
<rect x="385.85" y="669.1" width="3.67" height="13.5" fill="#e5afcb" />
<rect x="389.47" y="669.1" width="3.67" height="13.5" fill="#9461ad" />
<rect x="393.08" y="669.1" width="3.67" height="13.5" fill="#e5afcb" />
<rect x="396.69" y="669.1" width="3.67" height="13.5" fill="#e5afcb" />
<rect x="400.31" y="669.1" width="3.67" height="13.5" fill="#e5afcb" />
<rect x="403.93" y="669.1" width="3.67" height="13.5" fill="#9461ad" />
<rect x="407.54" y="669.1" width="3.67" height="13.5" fill="#e5afcb" />
<rect x="411.16" y="669.1" width="3.67" height="13.5" fill="#e5afcb" />
<rect x="414.77" y="669.1" width="3.67" height="13.5" fill="#e5afcb" />
<rect x="418.39" y="669.1" width="3.67" height="13.5" fill="#e5afcb" />
<rect x="422" y="669.1" width="3.67" height="13.5" fill="#e5afcb" />
<rect x="425.62" y="669.1" width="3.67" height="13.5" fill="#9461ad" />
<rect x="429.23" y="669.1" width="3.67" height="13.5" fill="#e5afcb" />
<rect x="432.85" y="669.1" width="3.67" height="13.5" fill="#e5afcb" />
<rect x="436.46" y="669.1" width="3.67" height="13.5" fill="#e5afcb" />
<rect x="440.08" y="669.1" width="3.67" height="13.5" fill="#e5afcb" />
<rect x="443.69" y="669.1" width="3.67" height="13.5" fill="#e5afcb" />
<rect x="447.31" y="669.1" width="3.67" height="13.5" fill="#e5afcb" />
<rect x="450.92" y="669.1" width="3.67" height="13.5" fill="#e5afcb" />
<rect x="454.54" y="669.1" width="3.67" height="13.5" fill="#e5afcb" />
<rect x="458.15" y="669.1" width="3.67" height="13.5" fill="#e5afcb" />
<rect x="461.77" y="669.1" width="3.67" height="13.5" fill="#e5afcb" />
<rect x="465.38" y="669.1" width="3.67" height="13.5" fill="#e5afcb" />
<rect x="469" y="669.1" width="3.67" height="13.5" fill="#e5afcb" />
<rect x="472.61" y="669.1" width="3.67" height="13.5" fill="#e5afcb" />
<rect x="476.23" y="669.1" width="3.67" height="13.5" fill="#9461ad" />
<rect x="479.84" y="669.1" width="3.67" height="13.5" fill="#e5afcb" />
<rect x="483.46" y="669.1" width="3.67" height="13.5" fill="#e5afcb" />
<rect x="487.07" y="669.1" width="3.67" height="13.5" fill="#e5afcb" />
<rect x="490.69" y="669.1" width="3.67" height="13.5" fill="#e5afcb" />
<rect x="494.3" y="669.1" width="3.67" height="13.5" fill="#e5afcb" />
<rect x="497.92" y="669.1" width="3.67" height="13.5" fill="#e5afcb" />
<rect x="63.81" y="669.1" width="0.6" height="13.5" fill="#ffffff" fill-opacity="0.45"/>
<rect x="67.43" y="669.1" width="0.6" height="13.5" fill="#ffffff" fill-opacity="0.45"/>
<rect x="71.05" y="669.1" width="0.6" height="13.5" fill="#ffffff" fill-opacity="0.45"/>
<rect x="74.66" y="669.1" width="0.6" height="13.5" fill="#ffffff" fill-opacity="0.45"/>
<rect x="78.28" y="669.1" width="0.6" height="13.5" fill="#ffffff" fill-opacity="0.45"/>
<rect x="81.89" y="669.1" width="0.6" height="13.5" fill="#ffffff" fill-opacity="0.45"/>
<rect x="85.51" y="669.1" width="0.6" height="13.5" fill="#ffffff" fill-opacity="0.45"/>
<rect x="89.12" y="669.1" width="0.6" height="13.5" fill="#ffffff" fill-opacity="0.45"/>
<rect x="92.73" y="669.1" width="0.6" height="13.5" fill="#ffffff" fill-opacity="0.45"/>
<rect x="96.35" y="669.1" width="0.6" height="13.5" fill="#ffffff" fill-opacity="0.45"/>
<rect x="99.97" y="669.1" width="0.6" height="13.5" fill="#ffffff" fill-opacity="0.45"/>
<rect x="103.58" y="669.1" width="0.6" height="13.5" fill="#ffffff" fill-opacity="0.45"/>
<rect x="107.2" y="669.1" width="0.6" height="13.5" fill="#ffffff" fill-opacity="0.45"/>
<rect x="110.81" y="669.1" width="0.6" height="13.5" fill="#ffffff" fill-opacity="0.45"/>
<rect x="114.42" y="669.1" width="0.6" height="13.5" fill="#ffffff" fill-opacity="0.45"/>
<rect x="118.04" y="669.1" width="0.6" height="13.5" fill="#ffffff" fill-opacity="0.45"/>
<rect x="121.66" y="669.1" width="0.6" height="13.5" fill="#ffffff" fill-opacity="0.45"/>
<rect x="125.27" y="669.1" width="0.6" height="13.5" fill="#ffffff" fill-opacity="0.45"/>
<rect x="128.88" y="669.1" width="0.6" height="13.5" fill="#ffffff" fill-opacity="0.45"/>
<rect x="132.5" y="669.1" width="0.6" height="13.5" fill="#ffffff" fill-opacity="0.45"/>
<rect x="136.12" y="669.1" width="0.6" height="13.5" fill="#ffffff" fill-opacity="0.45"/>
<rect x="139.73" y="669.1" width="0.6" height="13.5" fill="#ffffff" fill-opacity="0.45"/>
<rect x="143.34" y="669.1" width="0.6" height="13.5" fill="#ffffff" fill-opacity="0.45"/>
<rect x="146.96" y="669.1" width="0.6" height="13.5" fill="#ffffff" fill-opacity="0.45"/>
<rect x="150.57" y="669.1" width="0.6" height="13.5" fill="#ffffff" fill-opacity="0.45"/>
<rect x="154.19" y="669.1" width="0.6" height="13.5" fill="#ffffff" fill-opacity="0.45"/>
<rect x="157.81" y="669.1" width="0.6" height="13.5" fill="#ffffff" fill-opacity="0.45"/>
<rect x="161.42" y="669.1" width="0.6" height="13.5" fill="#ffffff" fill-opacity="0.45"/>
<rect x="165.03" y="669.1" width="0.6" height="13.5" fill="#ffffff" fill-opacity="0.45"/>
<rect x="168.65" y="669.1" width="0.6" height="13.5" fill="#ffffff" fill-opacity="0.45"/>
<rect x="172.26" y="669.1" width="0.6" height="13.5" fill="#ffffff" fill-opacity="0.45"/>
<rect x="175.88" y="669.1" width="0.6" height="13.5" fill="#ffffff" fill-opacity="0.45"/>
<rect x="179.5" y="669.1" width="0.6" height="13.5" fill="#ffffff" fill-opacity="0.45"/>
<rect x="183.11" y="669.1" width="0.6" height="13.5" fill="#ffffff" fill-opacity="0.45"/>
<rect x="186.72" y="669.1" width="0.6" height="13.5" fill="#ffffff" fill-opacity="0.45"/>
<rect x="190.34" y="669.1" width="0.6" height="13.5" fill="#ffffff" fill-opacity="0.45"/>
<rect x="193.95" y="669.1" width="0.6" height="13.5" fill="#ffffff" fill-opacity="0.45"/>
<rect x="197.57" y="669.1" width="0.6" height="13.5" fill="#ffffff" fill-opacity="0.45"/>
<rect x="201.19" y="669.1" width="0.6" height="13.5" fill="#ffffff" fill-opacity="0.45"/>
<rect x="204.8" y="669.1" width="0.6" height="13.5" fill="#ffffff" fill-opacity="0.45"/>
<rect x="208.41" y="669.1" width="0.6" height="13.5" fill="#ffffff" fill-opacity="0.45"/>
<rect x="212.03" y="669.1" width="0.6" height="13.5" fill="#ffffff" fill-opacity="0.45"/>
<rect x="215.65" y="669.1" width="0.6" height="13.5" fill="#ffffff" fill-opacity="0.45"/>
<rect x="219.26" y="669.1" width="0.6" height="13.5" fill="#ffffff" fill-opacity="0.45"/>
<rect x="222.88" y="669.1" width="0.6" height="13.5" fill="#ffffff" fill-opacity="0.45"/>
<rect x="226.49" y="669.1" width="0.6" height="13.5" fill="#ffffff" fill-opacity="0.45"/>
<rect x="230.1" y="669.1" width="0.6" height="13.5" fill="#ffffff" fill-opacity="0.45"/>
<rect x="233.72" y="669.1" width="0.6" height="13.5" fill="#ffffff" fill-opacity="0.45"/>
<rect x="237.34" y="669.1" width="0.6" height="13.5" fill="#ffffff" fill-opacity="0.45"/>
<rect x="240.95" y="669.1" width="0.6" height="13.5" fill="#ffffff" fill-opacity="0.45"/>
<rect x="244.56" y="669.1" width="0.6" height="13.5" fill="#ffffff" fill-opacity="0.45"/>
<rect x="248.18" y="669.1" width="0.6" height="13.5" fill="#ffffff" fill-opacity="0.45"/>
<rect x="251.79" y="669.1" width="0.6" height="13.5" fill="#ffffff" fill-opacity="0.45"/>
<rect x="255.41" y="669.1" width="0.6" height="13.5" fill="#ffffff" fill-opacity="0.45"/>
<rect x="259.03" y="669.1" width="0.6" height="13.5" fill="#ffffff" fill-opacity="0.45"/>
<rect x="262.64" y="669.1" width="0.6" height="13.5" fill="#ffffff" fill-opacity="0.45"/>
<rect x="266.25" y="669.1" width="0.6" height="13.5" fill="#ffffff" fill-opacity="0.45"/>
<rect x="269.87" y="669.1" width="0.6" height="13.5" fill="#ffffff" fill-opacity="0.45"/>
<rect x="273.49" y="669.1" width="0.6" height="13.5" fill="#ffffff" fill-opacity="0.45"/>
<rect x="277.1" y="669.1" width="0.6" height="13.5" fill="#ffffff" fill-opacity="0.45"/>
<rect x="280.71" y="669.1" width="0.6" height="13.5" fill="#ffffff" fill-opacity="0.45"/>
<rect x="284.33" y="669.1" width="0.6" height="13.5" fill="#ffffff" fill-opacity="0.45"/>
<rect x="287.94" y="669.1" width="0.6" height="13.5" fill="#ffffff" fill-opacity="0.45"/>
<rect x="291.56" y="669.1" width="0.6" height="13.5" fill="#ffffff" fill-opacity="0.45"/>
<rect x="295.18" y="669.1" width="0.6" height="13.5" fill="#ffffff" fill-opacity="0.45"/>
<rect x="298.79" y="669.1" width="0.6" height="13.5" fill="#ffffff" fill-opacity="0.45"/>
<rect x="302.41" y="669.1" width="0.6" height="13.5" fill="#ffffff" fill-opacity="0.45"/>
<rect x="306.02" y="669.1" width="0.6" height="13.5" fill="#ffffff" fill-opacity="0.45"/>
<rect x="309.63" y="669.1" width="0.6" height="13.5" fill="#ffffff" fill-opacity="0.45"/>
<rect x="313.25" y="669.1" width="0.6" height="13.5" fill="#ffffff" fill-opacity="0.45"/>
<rect x="316.87" y="669.1" width="0.6" height="13.5" fill="#ffffff" fill-opacity="0.45"/>
<rect x="320.48" y="669.1" width="0.6" height="13.5" fill="#ffffff" fill-opacity="0.45"/>
<rect x="324.1" y="669.1" width="0.6" height="13.5" fill="#ffffff" fill-opacity="0.45"/>
<rect x="327.71" y="669.1" width="0.6" height="13.5" fill="#ffffff" fill-opacity="0.45"/>
<rect x="331.32" y="669.1" width="0.6" height="13.5" fill="#ffffff" fill-opacity="0.45"/>
<rect x="334.94" y="669.1" width="0.6" height="13.5" fill="#ffffff" fill-opacity="0.45"/>
<rect x="338.56" y="669.1" width="0.6" height="13.5" fill="#ffffff" fill-opacity="0.45"/>
<rect x="342.17" y="669.1" width="0.6" height="13.5" fill="#ffffff" fill-opacity="0.45"/>
<rect x="345.79" y="669.1" width="0.6" height="13.5" fill="#ffffff" fill-opacity="0.45"/>
<rect x="349.4" y="669.1" width="0.6" height="13.5" fill="#ffffff" fill-opacity="0.45"/>
<rect x="353.01" y="669.1" width="0.6" height="13.5" fill="#ffffff" fill-opacity="0.45"/>
<rect x="356.63" y="669.1" width="0.6" height="13.5" fill="#ffffff" fill-opacity="0.45"/>
<rect x="360.25" y="669.1" width="0.6" height="13.5" fill="#ffffff" fill-opacity="0.45"/>
<rect x="363.86" y="669.1" width="0.6" height="13.5" fill="#ffffff" fill-opacity="0.45"/>
<rect x="367.48" y="669.1" width="0.6" height="13.5" fill="#ffffff" fill-opacity="0.45"/>
<rect x="371.09" y="669.1" width="0.6" height="13.5" fill="#ffffff" fill-opacity="0.45"/>
<rect x="374.7" y="669.1" width="0.6" height="13.5" fill="#ffffff" fill-opacity="0.45"/>
<rect x="378.32" y="669.1" width="0.6" height="13.5" fill="#ffffff" fill-opacity="0.45"/>
<rect x="381.94" y="669.1" width="0.6" height="13.5" fill="#ffffff" fill-opacity="0.45"/>
<rect x="385.55" y="669.1" width="0.6" height="13.5" fill="#ffffff" fill-opacity="0.45"/>
<rect x="389.17" y="669.1" width="0.6" height="13.5" fill="#ffffff" fill-opacity="0.45"/>
<rect x="392.78" y="669.1" width="0.6" height="13.5" fill="#ffffff" fill-opacity="0.45"/>
<rect x="396.39" y="669.1" width="0.6" height="13.5" fill="#ffffff" fill-opacity="0.45"/>
<rect x="400.01" y="669.1" width="0.6" height="13.5" fill="#ffffff" fill-opacity="0.45"/>
<rect x="403.62" y="669.1" width="0.6" height="13.5" fill="#ffffff" fill-opacity="0.45"/>
<rect x="407.24" y="669.1" width="0.6" height="13.5" fill="#ffffff" fill-opacity="0.45"/>
<rect x="410.86" y="669.1" width="0.6" height="13.5" fill="#ffffff" fill-opacity="0.45"/>
<rect x="414.47" y="669.1" width="0.6" height="13.5" fill="#ffffff" fill-opacity="0.45"/>
<rect x="418.09" y="669.1" width="0.6" height="13.5" fill="#ffffff" fill-opacity="0.45"/>
<rect x="421.7" y="669.1" width="0.6" height="13.5" fill="#ffffff" fill-opacity="0.45"/>
<rect x="425.31" y="669.1" width="0.6" height="13.5" fill="#ffffff" fill-opacity="0.45"/>
<rect x="428.93" y="669.1" width="0.6" height="13.5" fill="#ffffff" fill-opacity="0.45"/>
<rect x="432.55" y="669.1" width="0.6" height="13.5" fill="#ffffff" fill-opacity="0.45"/>
<rect x="436.16" y="669.1" width="0.6" height="13.5" fill="#ffffff" fill-opacity="0.45"/>
<rect x="439.78" y="669.1" width="0.6" height="13.5" fill="#ffffff" fill-opacity="0.45"/>
<rect x="443.39" y="669.1" width="0.6" height="13.5" fill="#ffffff" fill-opacity="0.45"/>
<rect x="447" y="669.1" width="0.6" height="13.5" fill="#ffffff" fill-opacity="0.45"/>
<rect x="450.62" y="669.1" width="0.6" height="13.5" fill="#ffffff" fill-opacity="0.45"/>
<rect x="454.24" y="669.1" width="0.6" height="13.5" fill="#ffffff" fill-opacity="0.45"/>
<rect x="457.85" y="669.1" width="0.6" height="13.5" fill="#ffffff" fill-opacity="0.45"/>
<rect x="461.47" y="669.1" width="0.6" height="13.5" fill="#ffffff" fill-opacity="0.45"/>
<rect x="465.08" y="669.1" width="0.6" height="13.5" fill="#ffffff" fill-opacity="0.45"/>
<rect x="468.69" y="669.1" width="0.6" height="13.5" fill="#ffffff" fill-opacity="0.45"/>
<rect x="472.31" y="669.1" width="0.6" height="13.5" fill="#ffffff" fill-opacity="0.45"/>
<rect x="475.93" y="669.1" width="0.6" height="13.5" fill="#ffffff" fill-opacity="0.45"/>
<rect x="479.54" y="669.1" width="0.6" height="13.5" fill="#ffffff" fill-opacity="0.45"/>
<rect x="483.16" y="669.1" width="0.6" height="13.5" fill="#ffffff" fill-opacity="0.45"/>
<rect x="486.77" y="669.1" width="0.6" height="13.5" fill="#ffffff" fill-opacity="0.45"/>
<rect x="490.38" y="669.1" width="0.6" height="13.5" fill="#ffffff" fill-opacity="0.45"/>
<rect x="494" y="669.1" width="0.6" height="13.5" fill="#ffffff" fill-opacity="0.45"/>
<rect x="497.62" y="669.1" width="0.6" height="13.5" fill="#ffffff" fill-opacity="0.45"/>
<text x="58.9" y="679.15" font-family="Liberation Sans" font-size="9" font-weight="bold" font-style="normal" text-anchor="end" fill="#000" >cT</text>
<rect x="60.5" y="684" width="3.67" height="13.5" fill="#d6cde5" />
<rect x="64.11" y="684" width="3.67" height="13.5" fill="#d6cde5" />
<rect x="67.73" y="684" width="3.67" height="13.5" fill="#d6cde5" />
<rect x="71.34" y="684" width="3.67" height="13.5" fill="#d6cde5" />
<rect x="74.96" y="684" width="3.67" height="13.5" fill="#d6cde5" />
<rect x="78.58" y="684" width="3.67" height="13.5" fill="#d6cde5" />
<rect x="82.19" y="684" width="3.67" height="13.5" fill="#d6cde5" />
<rect x="85.81" y="684" width="3.67" height="13.5" fill="#d6cde5" />
<rect x="89.42" y="684" width="3.67" height="13.5" fill="#d6cde5" />
<rect x="93.03" y="684" width="3.67" height="13.5" fill="#d6cde5" />
<rect x="96.65" y="684" width="3.67" height="13.5" fill="#d6cde5" />
<rect x="100.27" y="684" width="3.67" height="13.5" fill="#d6cde5" />
<rect x="103.88" y="684" width="3.67" height="13.5" fill="#d6cde5" />
<rect x="107.5" y="684" width="3.67" height="13.5" fill="#d6cde5" />
<rect x="111.11" y="684" width="3.67" height="13.5" fill="#d6cde5" />
<rect x="114.72" y="684" width="3.67" height="13.5" fill="#d6cde5" />
<rect x="118.34" y="684" width="3.67" height="13.5" fill="#9461ad" />
<rect x="121.96" y="684" width="3.67" height="13.5" fill="#d6cde5" />
<rect x="125.57" y="684" width="3.67" height="13.5" fill="#d6cde5" />
<rect x="129.19" y="684" width="3.67" height="13.5" fill="#9461ad" />
<rect x="132.8" y="684" width="3.67" height="13.5" fill="#9461ad" />
<rect x="136.42" y="684" width="3.67" height="13.5" fill="#d6cde5" />
<rect x="140.03" y="684" width="3.67" height="13.5" fill="#9461ad" />
<rect x="143.65" y="684" width="3.67" height="13.5" fill="#d6cde5" />
<rect x="147.26" y="684" width="3.67" height="13.5" fill="#9461ad" />
<rect x="150.88" y="684" width="3.67" height="13.5" fill="#d6cde5" />
<rect x="154.49" y="684" width="3.67" height="13.5" fill="#d6cde5" />
<rect x="158.11" y="684" width="3.67" height="13.5" fill="#d6cde5" />
<rect x="161.72" y="684" width="3.67" height="13.5" fill="#d6cde5" />
<rect x="165.34" y="684" width="3.67" height="13.5" fill="#9461ad" />
<rect x="168.95" y="684" width="3.67" height="13.5" fill="#d6cde5" />
<rect x="172.56" y="684" width="3.67" height="13.5" fill="#d6cde5" />
<rect x="176.18" y="684" width="3.67" height="13.5" fill="#9461ad" />
<rect x="179.8" y="684" width="3.67" height="13.5" fill="#d6cde5" />
<rect x="183.41" y="684" width="3.67" height="13.5" fill="#9461ad" />
<rect x="187.03" y="684" width="3.67" height="13.5" fill="#d6cde5" />
<rect x="190.64" y="684" width="3.67" height="13.5" fill="#d6cde5" />
<rect x="194.25" y="684" width="3.67" height="13.5" fill="#9461ad" />
<rect x="197.87" y="684" width="3.67" height="13.5" fill="#d6cde5" />
<rect x="201.49" y="684" width="3.67" height="13.5" fill="#d6cde5" />
<rect x="205.1" y="684" width="3.67" height="13.5" fill="#9461ad" />
<rect x="208.72" y="684" width="3.67" height="13.5" fill="#9461ad" />
<rect x="212.33" y="684" width="3.67" height="13.5" fill="#d6cde5" />
<rect x="215.95" y="684" width="3.67" height="13.5" fill="#9461ad" />
<rect x="219.56" y="684" width="3.67" height="13.5" fill="#9461ad" />
<rect x="223.18" y="684" width="3.67" height="13.5" fill="#d6cde5" />
<rect x="226.79" y="684" width="3.67" height="13.5" fill="#9461ad" />
<rect x="230.41" y="684" width="3.67" height="13.5" fill="#d6cde5" />
<rect x="234.02" y="684" width="3.67" height="13.5" fill="#9461ad" />
<rect x="237.64" y="684" width="3.67" height="13.5" fill="#9461ad" />
<rect x="241.25" y="684" width="3.67" height="13.5" fill="#d6cde5" />
<rect x="244.87" y="684" width="3.67" height="13.5" fill="#d6cde5" />
<rect x="248.48" y="684" width="3.67" height="13.5" fill="#d6cde5" />
<rect x="252.09" y="684" width="3.67" height="13.5" fill="#d6cde5" />
<rect x="255.71" y="684" width="3.67" height="13.5" fill="#d6cde5" />
<rect x="259.33" y="684" width="3.67" height="13.5" fill="#9461ad" />
<rect x="262.94" y="684" width="3.67" height="13.5" fill="#d6cde5" />
<rect x="266.56" y="684" width="3.67" height="13.5" fill="#d6cde5" />
<rect x="270.17" y="684" width="3.67" height="13.5" fill="#d6cde5" />
<rect x="273.79" y="684" width="3.67" height="13.5" fill="#d6cde5" />
<rect x="277.4" y="684" width="3.67" height="13.5" fill="#d6cde5" />
<rect x="281.01" y="684" width="3.67" height="13.5" fill="#d6cde5" />
<rect x="284.63" y="684" width="3.67" height="13.5" fill="#9461ad" />
<rect x="288.25" y="684" width="3.67" height="13.5" fill="#9461ad" />
<rect x="291.86" y="684" width="3.67" height="13.5" fill="#d6cde5" />
<rect x="295.48" y="684" width="3.67" height="13.5" fill="#9461ad" />
<rect x="299.09" y="684" width="3.67" height="13.5" fill="#9461ad" />
<rect x="302.71" y="684" width="3.67" height="13.5" fill="#9461ad" />
<rect x="306.32" y="684" width="3.67" height="13.5" fill="#d6cde5" />
<rect x="309.94" y="684" width="3.67" height="13.5" fill="#9461ad" />
<rect x="313.55" y="684" width="3.67" height="13.5" fill="#9461ad" />
<rect x="317.17" y="684" width="3.67" height="13.5" fill="#d6cde5" />
<rect x="320.78" y="684" width="3.67" height="13.5" fill="#9461ad" />
<rect x="324.4" y="684" width="3.67" height="13.5" fill="#d6cde5" />
<rect x="328.01" y="684" width="3.67" height="13.5" fill="#d6cde5" />
<rect x="331.62" y="684" width="3.67" height="13.5" fill="#d6cde5" />
<rect x="335.24" y="684" width="3.67" height="13.5" fill="#d6cde5" />
<rect x="338.86" y="684" width="3.67" height="13.5" fill="#d6cde5" />
<rect x="342.47" y="684" width="3.67" height="13.5" fill="#9461ad" />
<rect x="346.09" y="684" width="3.67" height="13.5" fill="#d6cde5" />
<rect x="349.7" y="684" width="3.67" height="13.5" fill="#9461ad" />
<rect x="353.31" y="684" width="3.67" height="13.5" fill="#9461ad" />
<rect x="356.93" y="684" width="3.67" height="13.5" fill="#9461ad" />
<rect x="360.55" y="684" width="3.67" height="13.5" fill="#d6cde5" />
<rect x="364.16" y="684" width="3.67" height="13.5" fill="#d6cde5" />
<rect x="367.78" y="684" width="3.67" height="13.5" fill="#9461ad" />
<rect x="371.39" y="684" width="3.67" height="13.5" fill="#d6cde5" />
<rect x="375" y="684" width="3.67" height="13.5" fill="#d6cde5" />
<rect x="378.62" y="684" width="3.67" height="13.5" fill="#9461ad" />
<rect x="382.24" y="684" width="3.67" height="13.5" fill="#9461ad" />
<rect x="385.85" y="684" width="3.67" height="13.5" fill="#9461ad" />
<rect x="389.47" y="684" width="3.67" height="13.5" fill="#9461ad" />
<rect x="393.08" y="684" width="3.67" height="13.5" fill="#d6cde5" />
<rect x="396.69" y="684" width="3.67" height="13.5" fill="#d6cde5" />
<rect x="400.31" y="684" width="3.67" height="13.5" fill="#9461ad" />
<rect x="403.93" y="684" width="3.67" height="13.5" fill="#d6cde5" />
<rect x="407.54" y="684" width="3.67" height="13.5" fill="#9461ad" />
<rect x="411.16" y="684" width="3.67" height="13.5" fill="#d6cde5" />
<rect x="414.77" y="684" width="3.67" height="13.5" fill="#d6cde5" />
<rect x="418.39" y="684" width="3.67" height="13.5" fill="#9461ad" />
<rect x="422" y="684" width="3.67" height="13.5" fill="#9461ad" />
<rect x="425.62" y="684" width="3.67" height="13.5" fill="#9461ad" />
<rect x="429.23" y="684" width="3.67" height="13.5" fill="#9461ad" />
<rect x="432.85" y="684" width="3.67" height="13.5" fill="#9461ad" />
<rect x="436.46" y="684" width="3.67" height="13.5" fill="#d6cde5" />
<rect x="440.08" y="684" width="3.67" height="13.5" fill="#9461ad" />
<rect x="443.69" y="684" width="3.67" height="13.5" fill="#d6cde5" />
<rect x="447.31" y="684" width="3.67" height="13.5" fill="#9461ad" />
<rect x="450.92" y="684" width="3.67" height="13.5" fill="#9461ad" />
<rect x="454.54" y="684" width="3.67" height="13.5" fill="#9461ad" />
<rect x="458.15" y="684" width="3.67" height="13.5" fill="#9461ad" />
<rect x="461.77" y="684" width="3.67" height="13.5" fill="#d6cde5" />
<rect x="465.38" y="684" width="3.67" height="13.5" fill="#d6cde5" />
<rect x="469" y="684" width="3.67" height="13.5" fill="#d6cde5" />
<rect x="472.61" y="684" width="3.67" height="13.5" fill="#9461ad" />
<rect x="476.23" y="684" width="3.67" height="13.5" fill="#9461ad" />
<rect x="479.84" y="684" width="3.67" height="13.5" fill="#d6cde5" />
<rect x="483.46" y="684" width="3.67" height="13.5" fill="#d6cde5" />
<rect x="487.07" y="684" width="3.67" height="13.5" fill="#9461ad" />
<rect x="490.69" y="684" width="3.67" height="13.5" fill="#9461ad" />
<rect x="494.3" y="684" width="3.67" height="13.5" fill="#d6cde5" />
<rect x="497.92" y="684" width="3.67" height="13.5" fill="#9461ad" />
<rect x="63.81" y="684" width="0.6" height="13.5" fill="#ffffff" fill-opacity="0.45"/>
<rect x="67.43" y="684" width="0.6" height="13.5" fill="#ffffff" fill-opacity="0.45"/>
<rect x="71.05" y="684" width="0.6" height="13.5" fill="#ffffff" fill-opacity="0.45"/>
<rect x="74.66" y="684" width="0.6" height="13.5" fill="#ffffff" fill-opacity="0.45"/>
<rect x="78.28" y="684" width="0.6" height="13.5" fill="#ffffff" fill-opacity="0.45"/>
<rect x="81.89" y="684" width="0.6" height="13.5" fill="#ffffff" fill-opacity="0.45"/>
<rect x="85.51" y="684" width="0.6" height="13.5" fill="#ffffff" fill-opacity="0.45"/>
<rect x="89.12" y="684" width="0.6" height="13.5" fill="#ffffff" fill-opacity="0.45"/>
<rect x="92.73" y="684" width="0.6" height="13.5" fill="#ffffff" fill-opacity="0.45"/>
<rect x="96.35" y="684" width="0.6" height="13.5" fill="#ffffff" fill-opacity="0.45"/>
<rect x="99.97" y="684" width="0.6" height="13.5" fill="#ffffff" fill-opacity="0.45"/>
<rect x="103.58" y="684" width="0.6" height="13.5" fill="#ffffff" fill-opacity="0.45"/>
<rect x="107.2" y="684" width="0.6" height="13.5" fill="#ffffff" fill-opacity="0.45"/>
<rect x="110.81" y="684" width="0.6" height="13.5" fill="#ffffff" fill-opacity="0.45"/>
<rect x="114.42" y="684" width="0.6" height="13.5" fill="#ffffff" fill-opacity="0.45"/>
<rect x="118.04" y="684" width="0.6" height="13.5" fill="#ffffff" fill-opacity="0.45"/>
<rect x="121.66" y="684" width="0.6" height="13.5" fill="#ffffff" fill-opacity="0.45"/>
<rect x="125.27" y="684" width="0.6" height="13.5" fill="#ffffff" fill-opacity="0.45"/>
<rect x="128.88" y="684" width="0.6" height="13.5" fill="#ffffff" fill-opacity="0.45"/>
<rect x="132.5" y="684" width="0.6" height="13.5" fill="#ffffff" fill-opacity="0.45"/>
<rect x="136.12" y="684" width="0.6" height="13.5" fill="#ffffff" fill-opacity="0.45"/>
<rect x="139.73" y="684" width="0.6" height="13.5" fill="#ffffff" fill-opacity="0.45"/>
<rect x="143.34" y="684" width="0.6" height="13.5" fill="#ffffff" fill-opacity="0.45"/>
<rect x="146.96" y="684" width="0.6" height="13.5" fill="#ffffff" fill-opacity="0.45"/>
<rect x="150.57" y="684" width="0.6" height="13.5" fill="#ffffff" fill-opacity="0.45"/>
<rect x="154.19" y="684" width="0.6" height="13.5" fill="#ffffff" fill-opacity="0.45"/>
<rect x="157.81" y="684" width="0.6" height="13.5" fill="#ffffff" fill-opacity="0.45"/>
<rect x="161.42" y="684" width="0.6" height="13.5" fill="#ffffff" fill-opacity="0.45"/>
<rect x="165.03" y="684" width="0.6" height="13.5" fill="#ffffff" fill-opacity="0.45"/>
<rect x="168.65" y="684" width="0.6" height="13.5" fill="#ffffff" fill-opacity="0.45"/>
<rect x="172.26" y="684" width="0.6" height="13.5" fill="#ffffff" fill-opacity="0.45"/>
<rect x="175.88" y="684" width="0.6" height="13.5" fill="#ffffff" fill-opacity="0.45"/>
<rect x="179.5" y="684" width="0.6" height="13.5" fill="#ffffff" fill-opacity="0.45"/>
<rect x="183.11" y="684" width="0.6" height="13.5" fill="#ffffff" fill-opacity="0.45"/>
<rect x="186.72" y="684" width="0.6" height="13.5" fill="#ffffff" fill-opacity="0.45"/>
<rect x="190.34" y="684" width="0.6" height="13.5" fill="#ffffff" fill-opacity="0.45"/>
<rect x="193.95" y="684" width="0.6" height="13.5" fill="#ffffff" fill-opacity="0.45"/>
<rect x="197.57" y="684" width="0.6" height="13.5" fill="#ffffff" fill-opacity="0.45"/>
<rect x="201.19" y="684" width="0.6" height="13.5" fill="#ffffff" fill-opacity="0.45"/>
<rect x="204.8" y="684" width="0.6" height="13.5" fill="#ffffff" fill-opacity="0.45"/>
<rect x="208.41" y="684" width="0.6" height="13.5" fill="#ffffff" fill-opacity="0.45"/>
<rect x="212.03" y="684" width="0.6" height="13.5" fill="#ffffff" fill-opacity="0.45"/>
<rect x="215.65" y="684" width="0.6" height="13.5" fill="#ffffff" fill-opacity="0.45"/>
<rect x="219.26" y="684" width="0.6" height="13.5" fill="#ffffff" fill-opacity="0.45"/>
<rect x="222.88" y="684" width="0.6" height="13.5" fill="#ffffff" fill-opacity="0.45"/>
<rect x="226.49" y="684" width="0.6" height="13.5" fill="#ffffff" fill-opacity="0.45"/>
<rect x="230.1" y="684" width="0.6" height="13.5" fill="#ffffff" fill-opacity="0.45"/>
<rect x="233.72" y="684" width="0.6" height="13.5" fill="#ffffff" fill-opacity="0.45"/>
<rect x="237.34" y="684" width="0.6" height="13.5" fill="#ffffff" fill-opacity="0.45"/>
<rect x="240.95" y="684" width="0.6" height="13.5" fill="#ffffff" fill-opacity="0.45"/>
<rect x="244.56" y="684" width="0.6" height="13.5" fill="#ffffff" fill-opacity="0.45"/>
<rect x="248.18" y="684" width="0.6" height="13.5" fill="#ffffff" fill-opacity="0.45"/>
<rect x="251.79" y="684" width="0.6" height="13.5" fill="#ffffff" fill-opacity="0.45"/>
<rect x="255.41" y="684" width="0.6" height="13.5" fill="#ffffff" fill-opacity="0.45"/>
<rect x="259.03" y="684" width="0.6" height="13.5" fill="#ffffff" fill-opacity="0.45"/>
<rect x="262.64" y="684" width="0.6" height="13.5" fill="#ffffff" fill-opacity="0.45"/>
<rect x="266.25" y="684" width="0.6" height="13.5" fill="#ffffff" fill-opacity="0.45"/>
<rect x="269.87" y="684" width="0.6" height="13.5" fill="#ffffff" fill-opacity="0.45"/>
<rect x="273.49" y="684" width="0.6" height="13.5" fill="#ffffff" fill-opacity="0.45"/>
<rect x="277.1" y="684" width="0.6" height="13.5" fill="#ffffff" fill-opacity="0.45"/>
<rect x="280.71" y="684" width="0.6" height="13.5" fill="#ffffff" fill-opacity="0.45"/>
<rect x="284.33" y="684" width="0.6" height="13.5" fill="#ffffff" fill-opacity="0.45"/>
<rect x="287.94" y="684" width="0.6" height="13.5" fill="#ffffff" fill-opacity="0.45"/>
<rect x="291.56" y="684" width="0.6" height="13.5" fill="#ffffff" fill-opacity="0.45"/>
<rect x="295.18" y="684" width="0.6" height="13.5" fill="#ffffff" fill-opacity="0.45"/>
<rect x="298.79" y="684" width="0.6" height="13.5" fill="#ffffff" fill-opacity="0.45"/>
<rect x="302.41" y="684" width="0.6" height="13.5" fill="#ffffff" fill-opacity="0.45"/>
<rect x="306.02" y="684" width="0.6" height="13.5" fill="#ffffff" fill-opacity="0.45"/>
<rect x="309.63" y="684" width="0.6" height="13.5" fill="#ffffff" fill-opacity="0.45"/>
<rect x="313.25" y="684" width="0.6" height="13.5" fill="#ffffff" fill-opacity="0.45"/>
<rect x="316.87" y="684" width="0.6" height="13.5" fill="#ffffff" fill-opacity="0.45"/>
<rect x="320.48" y="684" width="0.6" height="13.5" fill="#ffffff" fill-opacity="0.45"/>
<rect x="324.1" y="684" width="0.6" height="13.5" fill="#ffffff" fill-opacity="0.45"/>
<rect x="327.71" y="684" width="0.6" height="13.5" fill="#ffffff" fill-opacity="0.45"/>
<rect x="331.32" y="684" width="0.6" height="13.5" fill="#ffffff" fill-opacity="0.45"/>
<rect x="334.94" y="684" width="0.6" height="13.5" fill="#ffffff" fill-opacity="0.45"/>
<rect x="338.56" y="684" width="0.6" height="13.5" fill="#ffffff" fill-opacity="0.45"/>
<rect x="342.17" y="684" width="0.6" height="13.5" fill="#ffffff" fill-opacity="0.45"/>
<rect x="345.79" y="684" width="0.6" height="13.5" fill="#ffffff" fill-opacity="0.45"/>
<rect x="349.4" y="684" width="0.6" height="13.5" fill="#ffffff" fill-opacity="0.45"/>
<rect x="353.01" y="684" width="0.6" height="13.5" fill="#ffffff" fill-opacity="0.45"/>
<rect x="356.63" y="684" width="0.6" height="13.5" fill="#ffffff" fill-opacity="0.45"/>
<rect x="360.25" y="684" width="0.6" height="13.5" fill="#ffffff" fill-opacity="0.45"/>
<rect x="363.86" y="684" width="0.6" height="13.5" fill="#ffffff" fill-opacity="0.45"/>
<rect x="367.48" y="684" width="0.6" height="13.5" fill="#ffffff" fill-opacity="0.45"/>
<rect x="371.09" y="684" width="0.6" height="13.5" fill="#ffffff" fill-opacity="0.45"/>
<rect x="374.7" y="684" width="0.6" height="13.5" fill="#ffffff" fill-opacity="0.45"/>
<rect x="378.32" y="684" width="0.6" height="13.5" fill="#ffffff" fill-opacity="0.45"/>
<rect x="381.94" y="684" width="0.6" height="13.5" fill="#ffffff" fill-opacity="0.45"/>
<rect x="385.55" y="684" width="0.6" height="13.5" fill="#ffffff" fill-opacity="0.45"/>
<rect x="389.17" y="684" width="0.6" height="13.5" fill="#ffffff" fill-opacity="0.45"/>
<rect x="392.78" y="684" width="0.6" height="13.5" fill="#ffffff" fill-opacity="0.45"/>
<rect x="396.39" y="684" width="0.6" height="13.5" fill="#ffffff" fill-opacity="0.45"/>
<rect x="400.01" y="684" width="0.6" height="13.5" fill="#ffffff" fill-opacity="0.45"/>
<rect x="403.62" y="684" width="0.6" height="13.5" fill="#ffffff" fill-opacity="0.45"/>
<rect x="407.24" y="684" width="0.6" height="13.5" fill="#ffffff" fill-opacity="0.45"/>
<rect x="410.86" y="684" width="0.6" height="13.5" fill="#ffffff" fill-opacity="0.45"/>
<rect x="414.47" y="684" width="0.6" height="13.5" fill="#ffffff" fill-opacity="0.45"/>
<rect x="418.09" y="684" width="0.6" height="13.5" fill="#ffffff" fill-opacity="0.45"/>
<rect x="421.7" y="684" width="0.6" height="13.5" fill="#ffffff" fill-opacity="0.45"/>
<rect x="425.31" y="684" width="0.6" height="13.5" fill="#ffffff" fill-opacity="0.45"/>
<rect x="428.93" y="684" width="0.6" height="13.5" fill="#ffffff" fill-opacity="0.45"/>
<rect x="432.55" y="684" width="0.6" height="13.5" fill="#ffffff" fill-opacity="0.45"/>
<rect x="436.16" y="684" width="0.6" height="13.5" fill="#ffffff" fill-opacity="0.45"/>
<rect x="439.78" y="684" width="0.6" height="13.5" fill="#ffffff" fill-opacity="0.45"/>
<rect x="443.39" y="684" width="0.6" height="13.5" fill="#ffffff" fill-opacity="0.45"/>
<rect x="447" y="684" width="0.6" height="13.5" fill="#ffffff" fill-opacity="0.45"/>
<rect x="450.62" y="684" width="0.6" height="13.5" fill="#ffffff" fill-opacity="0.45"/>
<rect x="454.24" y="684" width="0.6" height="13.5" fill="#ffffff" fill-opacity="0.45"/>
<rect x="457.85" y="684" width="0.6" height="13.5" fill="#ffffff" fill-opacity="0.45"/>
<rect x="461.47" y="684" width="0.6" height="13.5" fill="#ffffff" fill-opacity="0.45"/>
<rect x="465.08" y="684" width="0.6" height="13.5" fill="#ffffff" fill-opacity="0.45"/>
<rect x="468.69" y="684" width="0.6" height="13.5" fill="#ffffff" fill-opacity="0.45"/>
<rect x="472.31" y="684" width="0.6" height="13.5" fill="#ffffff" fill-opacity="0.45"/>
<rect x="475.93" y="684" width="0.6" height="13.5" fill="#ffffff" fill-opacity="0.45"/>
<rect x="479.54" y="684" width="0.6" height="13.5" fill="#ffffff" fill-opacity="0.45"/>
<rect x="483.16" y="684" width="0.6" height="13.5" fill="#ffffff" fill-opacity="0.45"/>
<rect x="486.77" y="684" width="0.6" height="13.5" fill="#ffffff" fill-opacity="0.45"/>
<rect x="490.38" y="684" width="0.6" height="13.5" fill="#ffffff" fill-opacity="0.45"/>
<rect x="494" y="684" width="0.6" height="13.5" fill="#ffffff" fill-opacity="0.45"/>
<rect x="497.62" y="684" width="0.6" height="13.5" fill="#ffffff" fill-opacity="0.45"/>
<text x="58.9" y="694.05" font-family="Liberation Sans" font-size="9" font-weight="bold" font-style="normal" text-anchor="end" fill="#000" >cN</text>
<rect x="60.5" y="698.9" width="3.67" height="13.5" fill="#a6cde4" />
<rect x="64.11" y="698.9" width="3.67" height="13.5" fill="#236b8e" />
<rect x="67.73" y="698.9" width="3.67" height="13.5" fill="#a6cde4" />
<rect x="71.34" y="698.9" width="3.67" height="13.5" fill="#a6cde4" />
<rect x="74.96" y="698.9" width="3.67" height="13.5" fill="#a6cde4" />
<rect x="78.58" y="698.9" width="3.67" height="13.5" fill="#a6cde4" />
<rect x="82.19" y="698.9" width="3.67" height="13.5" fill="#a6cde4" />
<rect x="85.81" y="698.9" width="3.67" height="13.5" fill="#236b8e" />
<rect x="89.42" y="698.9" width="3.67" height="13.5" fill="#236b8e" />
<rect x="93.03" y="698.9" width="3.67" height="13.5" fill="#a6cde4" />
<rect x="96.65" y="698.9" width="3.67" height="13.5" fill="#236b8e" />
<rect x="100.27" y="698.9" width="3.67" height="13.5" fill="#a6cde4" />
<rect x="103.88" y="698.9" width="3.67" height="13.5" fill="#a6cde4" />
<rect x="107.5" y="698.9" width="3.67" height="13.5" fill="#a6cde4" />
<rect x="111.11" y="698.9" width="3.67" height="13.5" fill="#a6cde4" />
<rect x="114.72" y="698.9" width="3.67" height="13.5" fill="#a6cde4" />
<rect x="118.34" y="698.9" width="3.67" height="13.5" fill="#236b8e" />
<rect x="121.96" y="698.9" width="3.67" height="13.5" fill="#a6cde4" />
<rect x="125.57" y="698.9" width="3.67" height="13.5" fill="#236b8e" />
<rect x="129.19" y="698.9" width="3.67" height="13.5" fill="#a6cde4" />
<rect x="132.8" y="698.9" width="3.67" height="13.5" fill="#236b8e" />
<rect x="136.42" y="698.9" width="3.67" height="13.5" fill="#a6cde4" />
<rect x="140.03" y="698.9" width="3.67" height="13.5" fill="#a6cde4" />
<rect x="143.65" y="698.9" width="3.67" height="13.5" fill="#236b8e" />
<rect x="147.26" y="698.9" width="3.67" height="13.5" fill="#236b8e" />
<rect x="150.88" y="698.9" width="3.67" height="13.5" fill="#a6cde4" />
<rect x="154.49" y="698.9" width="3.67" height="13.5" fill="#236b8e" />
<rect x="158.11" y="698.9" width="3.67" height="13.5" fill="#a6cde4" />
<rect x="161.72" y="698.9" width="3.67" height="13.5" fill="#a6cde4" />
<rect x="165.34" y="698.9" width="3.67" height="13.5" fill="#236b8e" />
<rect x="168.95" y="698.9" width="3.67" height="13.5" fill="#a6cde4" />
<rect x="172.56" y="698.9" width="3.67" height="13.5" fill="#a6cde4" />
<rect x="176.18" y="698.9" width="3.67" height="13.5" fill="#236b8e" />
<rect x="179.8" y="698.9" width="3.67" height="13.5" fill="#236b8e" />
<rect x="183.41" y="698.9" width="3.67" height="13.5" fill="#236b8e" />
<rect x="187.03" y="698.9" width="3.67" height="13.5" fill="#236b8e" />
<rect x="190.64" y="698.9" width="3.67" height="13.5" fill="#a6cde4" />
<rect x="194.25" y="698.9" width="3.67" height="13.5" fill="#a6cde4" />
<rect x="197.87" y="698.9" width="3.67" height="13.5" fill="#a6cde4" />
<rect x="201.49" y="698.9" width="3.67" height="13.5" fill="#a6cde4" />
<rect x="205.1" y="698.9" width="3.67" height="13.5" fill="#236b8e" />
<rect x="208.72" y="698.9" width="3.67" height="13.5" fill="#a6cde4" />
<rect x="212.33" y="698.9" width="3.67" height="13.5" fill="#236b8e" />
<rect x="215.95" y="698.9" width="3.67" height="13.5" fill="#236b8e" />
<rect x="219.56" y="698.9" width="3.67" height="13.5" fill="#a6cde4" />
<rect x="223.18" y="698.9" width="3.67" height="13.5" fill="#a6cde4" />
<rect x="226.79" y="698.9" width="3.67" height="13.5" fill="#a6cde4" />
<rect x="230.41" y="698.9" width="3.67" height="13.5" fill="#a6cde4" />
<rect x="234.02" y="698.9" width="3.67" height="13.5" fill="#a6cde4" />
<rect x="237.64" y="698.9" width="3.67" height="13.5" fill="#236b8e" />
<rect x="241.25" y="698.9" width="3.67" height="13.5" fill="#a6cde4" />
<rect x="244.87" y="698.9" width="3.67" height="13.5" fill="#236b8e" />
<rect x="248.48" y="698.9" width="3.67" height="13.5" fill="#a6cde4" />
<rect x="252.09" y="698.9" width="3.67" height="13.5" fill="#a6cde4" />
<rect x="255.71" y="698.9" width="3.67" height="13.5" fill="#a6cde4" />
<rect x="259.33" y="698.9" width="3.67" height="13.5" fill="#236b8e" />
<rect x="262.94" y="698.9" width="3.67" height="13.5" fill="#a6cde4" />
<rect x="266.56" y="698.9" width="3.67" height="13.5" fill="#a6cde4" />
<rect x="270.17" y="698.9" width="3.67" height="13.5" fill="#236b8e" />
<rect x="273.79" y="698.9" width="3.67" height="13.5" fill="#236b8e" />
<rect x="277.4" y="698.9" width="3.67" height="13.5" fill="#236b8e" />
<rect x="281.01" y="698.9" width="3.67" height="13.5" fill="#a6cde4" />
<rect x="284.63" y="698.9" width="3.67" height="13.5" fill="#236b8e" />
<rect x="288.25" y="698.9" width="3.67" height="13.5" fill="#236b8e" />
<rect x="291.86" y="698.9" width="3.67" height="13.5" fill="#236b8e" />
<rect x="295.48" y="698.9" width="3.67" height="13.5" fill="#236b8e" />
<rect x="299.09" y="698.9" width="3.67" height="13.5" fill="#236b8e" />
<rect x="302.71" y="698.9" width="3.67" height="13.5" fill="#a6cde4" />
<rect x="306.32" y="698.9" width="3.67" height="13.5" fill="#a6cde4" />
<rect x="309.94" y="698.9" width="3.67" height="13.5" fill="#a6cde4" />
<rect x="313.55" y="698.9" width="3.67" height="13.5" fill="#236b8e" />
<rect x="317.17" y="698.9" width="3.67" height="13.5" fill="#a6cde4" />
<rect x="320.78" y="698.9" width="3.67" height="13.5" fill="#236b8e" />
<rect x="324.4" y="698.9" width="3.67" height="13.5" fill="#a6cde4" />
<rect x="328.01" y="698.9" width="3.67" height="13.5" fill="#a6cde4" />
<rect x="331.62" y="698.9" width="3.67" height="13.5" fill="#a6cde4" />
<rect x="335.24" y="698.9" width="3.67" height="13.5" fill="#a6cde4" />
<rect x="338.86" y="698.9" width="3.67" height="13.5" fill="#a6cde4" />
<rect x="342.47" y="698.9" width="3.67" height="13.5" fill="#a6cde4" />
<rect x="346.09" y="698.9" width="3.67" height="13.5" fill="#a6cde4" />
<rect x="349.7" y="698.9" width="3.67" height="13.5" fill="#a6cde4" />
<rect x="353.31" y="698.9" width="3.67" height="13.5" fill="#236b8e" />
<rect x="356.93" y="698.9" width="3.67" height="13.5" fill="#a6cde4" />
<rect x="360.55" y="698.9" width="3.67" height="13.5" fill="#a6cde4" />
<rect x="364.16" y="698.9" width="3.67" height="13.5" fill="#a6cde4" />
<rect x="367.78" y="698.9" width="3.67" height="13.5" fill="#a6cde4" />
<rect x="371.39" y="698.9" width="3.67" height="13.5" fill="#a6cde4" />
<rect x="375" y="698.9" width="3.67" height="13.5" fill="#a6cde4" />
<rect x="378.62" y="698.9" width="3.67" height="13.5" fill="#a6cde4" />
<rect x="382.24" y="698.9" width="3.67" height="13.5" fill="#a6cde4" />
<rect x="385.85" y="698.9" width="3.67" height="13.5" fill="#a6cde4" />
<rect x="389.47" y="698.9" width="3.67" height="13.5" fill="#236b8e" />
<rect x="393.08" y="698.9" width="3.67" height="13.5" fill="#a6cde4" />
<rect x="396.69" y="698.9" width="3.67" height="13.5" fill="#a6cde4" />
<rect x="400.31" y="698.9" width="3.67" height="13.5" fill="#a6cde4" />
<rect x="403.93" y="698.9" width="3.67" height="13.5" fill="#a6cde4" />
<rect x="407.54" y="698.9" width="3.67" height="13.5" fill="#236b8e" />
<rect x="411.16" y="698.9" width="3.67" height="13.5" fill="#a6cde4" />
<rect x="414.77" y="698.9" width="3.67" height="13.5" fill="#a6cde4" />
<rect x="418.39" y="698.9" width="3.67" height="13.5" fill="#236b8e" />
<rect x="422" y="698.9" width="3.67" height="13.5" fill="#a6cde4" />
<rect x="425.62" y="698.9" width="3.67" height="13.5" fill="#a6cde4" />
<rect x="429.23" y="698.9" width="3.67" height="13.5" fill="#a6cde4" />
<rect x="432.85" y="698.9" width="3.67" height="13.5" fill="#236b8e" />
<rect x="436.46" y="698.9" width="3.67" height="13.5" fill="#a6cde4" />
<rect x="440.08" y="698.9" width="3.67" height="13.5" fill="#a6cde4" />
<rect x="443.69" y="698.9" width="3.67" height="13.5" fill="#236b8e" />
<rect x="447.31" y="698.9" width="3.67" height="13.5" fill="#236b8e" />
<rect x="450.92" y="698.9" width="3.67" height="13.5" fill="#a6cde4" />
<rect x="454.54" y="698.9" width="3.67" height="13.5" fill="#236b8e" />
<rect x="458.15" y="698.9" width="3.67" height="13.5" fill="#a6cde4" />
<rect x="461.77" y="698.9" width="3.67" height="13.5" fill="#a6cde4" />
<rect x="465.38" y="698.9" width="3.67" height="13.5" fill="#a6cde4" />
<rect x="469" y="698.9" width="3.67" height="13.5" fill="#a6cde4" />
<rect x="472.61" y="698.9" width="3.67" height="13.5" fill="#a6cde4" />
<rect x="476.23" y="698.9" width="3.67" height="13.5" fill="#a6cde4" />
<rect x="479.84" y="698.9" width="3.67" height="13.5" fill="#236b8e" />
<rect x="483.46" y="698.9" width="3.67" height="13.5" fill="#a6cde4" />
<rect x="487.07" y="698.9" width="3.67" height="13.5" fill="#236b8e" />
<rect x="490.69" y="698.9" width="3.67" height="13.5" fill="#a6cde4" />
<rect x="494.3" y="698.9" width="3.67" height="13.5" fill="#236b8e" />
<rect x="497.92" y="698.9" width="3.67" height="13.5" fill="#236b8e" />
<rect x="63.81" y="698.9" width="0.6" height="13.5" fill="#ffffff" fill-opacity="0.45"/>
<rect x="67.43" y="698.9" width="0.6" height="13.5" fill="#ffffff" fill-opacity="0.45"/>
<rect x="71.05" y="698.9" width="0.6" height="13.5" fill="#ffffff" fill-opacity="0.45"/>
<rect x="74.66" y="698.9" width="0.6" height="13.5" fill="#ffffff" fill-opacity="0.45"/>
<rect x="78.28" y="698.9" width="0.6" height="13.5" fill="#ffffff" fill-opacity="0.45"/>
<rect x="81.89" y="698.9" width="0.6" height="13.5" fill="#ffffff" fill-opacity="0.45"/>
<rect x="85.51" y="698.9" width="0.6" height="13.5" fill="#ffffff" fill-opacity="0.45"/>
<rect x="89.12" y="698.9" width="0.6" height="13.5" fill="#ffffff" fill-opacity="0.45"/>
<rect x="92.73" y="698.9" width="0.6" height="13.5" fill="#ffffff" fill-opacity="0.45"/>
<rect x="96.35" y="698.9" width="0.6" height="13.5" fill="#ffffff" fill-opacity="0.45"/>
<rect x="99.97" y="698.9" width="0.6" height="13.5" fill="#ffffff" fill-opacity="0.45"/>
<rect x="103.58" y="698.9" width="0.6" height="13.5" fill="#ffffff" fill-opacity="0.45"/>
<rect x="107.2" y="698.9" width="0.6" height="13.5" fill="#ffffff" fill-opacity="0.45"/>
<rect x="110.81" y="698.9" width="0.6" height="13.5" fill="#ffffff" fill-opacity="0.45"/>
<rect x="114.42" y="698.9" width="0.6" height="13.5" fill="#ffffff" fill-opacity="0.45"/>
<rect x="118.04" y="698.9" width="0.6" height="13.5" fill="#ffffff" fill-opacity="0.45"/>
<rect x="121.66" y="698.9" width="0.6" height="13.5" fill="#ffffff" fill-opacity="0.45"/>
<rect x="125.27" y="698.9" width="0.6" height="13.5" fill="#ffffff" fill-opacity="0.45"/>
<rect x="128.88" y="698.9" width="0.6" height="13.5" fill="#ffffff" fill-opacity="0.45"/>
<rect x="132.5" y="698.9" width="0.6" height="13.5" fill="#ffffff" fill-opacity="0.45"/>
<rect x="136.12" y="698.9" width="0.6" height="13.5" fill="#ffffff" fill-opacity="0.45"/>
<rect x="139.73" y="698.9" width="0.6" height="13.5" fill="#ffffff" fill-opacity="0.45"/>
<rect x="143.34" y="698.9" width="0.6" height="13.5" fill="#ffffff" fill-opacity="0.45"/>
<rect x="146.96" y="698.9" width="0.6" height="13.5" fill="#ffffff" fill-opacity="0.45"/>
<rect x="150.57" y="698.9" width="0.6" height="13.5" fill="#ffffff" fill-opacity="0.45"/>
<rect x="154.19" y="698.9" width="0.6" height="13.5" fill="#ffffff" fill-opacity="0.45"/>
<rect x="157.81" y="698.9" width="0.6" height="13.5" fill="#ffffff" fill-opacity="0.45"/>
<rect x="161.42" y="698.9" width="0.6" height="13.5" fill="#ffffff" fill-opacity="0.45"/>
<rect x="165.03" y="698.9" width="0.6" height="13.5" fill="#ffffff" fill-opacity="0.45"/>
<rect x="168.65" y="698.9" width="0.6" height="13.5" fill="#ffffff" fill-opacity="0.45"/>
<rect x="172.26" y="698.9" width="0.6" height="13.5" fill="#ffffff" fill-opacity="0.45"/>
<rect x="175.88" y="698.9" width="0.6" height="13.5" fill="#ffffff" fill-opacity="0.45"/>
<rect x="179.5" y="698.9" width="0.6" height="13.5" fill="#ffffff" fill-opacity="0.45"/>
<rect x="183.11" y="698.9" width="0.6" height="13.5" fill="#ffffff" fill-opacity="0.45"/>
<rect x="186.72" y="698.9" width="0.6" height="13.5" fill="#ffffff" fill-opacity="0.45"/>
<rect x="190.34" y="698.9" width="0.6" height="13.5" fill="#ffffff" fill-opacity="0.45"/>
<rect x="193.95" y="698.9" width="0.6" height="13.5" fill="#ffffff" fill-opacity="0.45"/>
<rect x="197.57" y="698.9" width="0.6" height="13.5" fill="#ffffff" fill-opacity="0.45"/>
<rect x="201.19" y="698.9" width="0.6" height="13.5" fill="#ffffff" fill-opacity="0.45"/>
<rect x="204.8" y="698.9" width="0.6" height="13.5" fill="#ffffff" fill-opacity="0.45"/>
<rect x="208.41" y="698.9" width="0.6" height="13.5" fill="#ffffff" fill-opacity="0.45"/>
<rect x="212.03" y="698.9" width="0.6" height="13.5" fill="#ffffff" fill-opacity="0.45"/>
<rect x="215.65" y="698.9" width="0.6" height="13.5" fill="#ffffff" fill-opacity="0.45"/>
<rect x="219.26" y="698.9" width="0.6" height="13.5" fill="#ffffff" fill-opacity="0.45"/>
<rect x="222.88" y="698.9" width="0.6" height="13.5" fill="#ffffff" fill-opacity="0.45"/>
<rect x="226.49" y="698.9" width="0.6" height="13.5" fill="#ffffff" fill-opacity="0.45"/>
<rect x="230.1" y="698.9" width="0.6" height="13.5" fill="#ffffff" fill-opacity="0.45"/>
<rect x="233.72" y="698.9" width="0.6" height="13.5" fill="#ffffff" fill-opacity="0.45"/>
<rect x="237.34" y="698.9" width="0.6" height="13.5" fill="#ffffff" fill-opacity="0.45"/>
<rect x="240.95" y="698.9" width="0.6" height="13.5" fill="#ffffff" fill-opacity="0.45"/>
<rect x="244.56" y="698.9" width="0.6" height="13.5" fill="#ffffff" fill-opacity="0.45"/>
<rect x="248.18" y="698.9" width="0.6" height="13.5" fill="#ffffff" fill-opacity="0.45"/>
<rect x="251.79" y="698.9" width="0.6" height="13.5" fill="#ffffff" fill-opacity="0.45"/>
<rect x="255.41" y="698.9" width="0.6" height="13.5" fill="#ffffff" fill-opacity="0.45"/>
<rect x="259.03" y="698.9" width="0.6" height="13.5" fill="#ffffff" fill-opacity="0.45"/>
<rect x="262.64" y="698.9" width="0.6" height="13.5" fill="#ffffff" fill-opacity="0.45"/>
<rect x="266.25" y="698.9" width="0.6" height="13.5" fill="#ffffff" fill-opacity="0.45"/>
<rect x="269.87" y="698.9" width="0.6" height="13.5" fill="#ffffff" fill-opacity="0.45"/>
<rect x="273.49" y="698.9" width="0.6" height="13.5" fill="#ffffff" fill-opacity="0.45"/>
<rect x="277.1" y="698.9" width="0.6" height="13.5" fill="#ffffff" fill-opacity="0.45"/>
<rect x="280.71" y="698.9" width="0.6" height="13.5" fill="#ffffff" fill-opacity="0.45"/>
<rect x="284.33" y="698.9" width="0.6" height="13.5" fill="#ffffff" fill-opacity="0.45"/>
<rect x="287.94" y="698.9" width="0.6" height="13.5" fill="#ffffff" fill-opacity="0.45"/>
<rect x="291.56" y="698.9" width="0.6" height="13.5" fill="#ffffff" fill-opacity="0.45"/>
<rect x="295.18" y="698.9" width="0.6" height="13.5" fill="#ffffff" fill-opacity="0.45"/>
<rect x="298.79" y="698.9" width="0.6" height="13.5" fill="#ffffff" fill-opacity="0.45"/>
<rect x="302.41" y="698.9" width="0.6" height="13.5" fill="#ffffff" fill-opacity="0.45"/>
<rect x="306.02" y="698.9" width="0.6" height="13.5" fill="#ffffff" fill-opacity="0.45"/>
<rect x="309.63" y="698.9" width="0.6" height="13.5" fill="#ffffff" fill-opacity="0.45"/>
<rect x="313.25" y="698.9" width="0.6" height="13.5" fill="#ffffff" fill-opacity="0.45"/>
<rect x="316.87" y="698.9" width="0.6" height="13.5" fill="#ffffff" fill-opacity="0.45"/>
<rect x="320.48" y="698.9" width="0.6" height="13.5" fill="#ffffff" fill-opacity="0.45"/>
<rect x="324.1" y="698.9" width="0.6" height="13.5" fill="#ffffff" fill-opacity="0.45"/>
<rect x="327.71" y="698.9" width="0.6" height="13.5" fill="#ffffff" fill-opacity="0.45"/>
<rect x="331.32" y="698.9" width="0.6" height="13.5" fill="#ffffff" fill-opacity="0.45"/>
<rect x="334.94" y="698.9" width="0.6" height="13.5" fill="#ffffff" fill-opacity="0.45"/>
<rect x="338.56" y="698.9" width="0.6" height="13.5" fill="#ffffff" fill-opacity="0.45"/>
<rect x="342.17" y="698.9" width="0.6" height="13.5" fill="#ffffff" fill-opacity="0.45"/>
<rect x="345.79" y="698.9" width="0.6" height="13.5" fill="#ffffff" fill-opacity="0.45"/>
<rect x="349.4" y="698.9" width="0.6" height="13.5" fill="#ffffff" fill-opacity="0.45"/>
<rect x="353.01" y="698.9" width="0.6" height="13.5" fill="#ffffff" fill-opacity="0.45"/>
<rect x="356.63" y="698.9" width="0.6" height="13.5" fill="#ffffff" fill-opacity="0.45"/>
<rect x="360.25" y="698.9" width="0.6" height="13.5" fill="#ffffff" fill-opacity="0.45"/>
<rect x="363.86" y="698.9" width="0.6" height="13.5" fill="#ffffff" fill-opacity="0.45"/>
<rect x="367.48" y="698.9" width="0.6" height="13.5" fill="#ffffff" fill-opacity="0.45"/>
<rect x="371.09" y="698.9" width="0.6" height="13.5" fill="#ffffff" fill-opacity="0.45"/>
<rect x="374.7" y="698.9" width="0.6" height="13.5" fill="#ffffff" fill-opacity="0.45"/>
<rect x="378.32" y="698.9" width="0.6" height="13.5" fill="#ffffff" fill-opacity="0.45"/>
<rect x="381.94" y="698.9" width="0.6" height="13.5" fill="#ffffff" fill-opacity="0.45"/>
<rect x="385.55" y="698.9" width="0.6" height="13.5" fill="#ffffff" fill-opacity="0.45"/>
<rect x="389.17" y="698.9" width="0.6" height="13.5" fill="#ffffff" fill-opacity="0.45"/>
<rect x="392.78" y="698.9" width="0.6" height="13.5" fill="#ffffff" fill-opacity="0.45"/>
<rect x="396.39" y="698.9" width="0.6" height="13.5" fill="#ffffff" fill-opacity="0.45"/>
<rect x="400.01" y="698.9" width="0.6" height="13.5" fill="#ffffff" fill-opacity="0.45"/>
<rect x="403.62" y="698.9" width="0.6" height="13.5" fill="#ffffff" fill-opacity="0.45"/>
<rect x="407.24" y="698.9" width="0.6" height="13.5" fill="#ffffff" fill-opacity="0.45"/>
<rect x="410.86" y="698.9" width="0.6" height="13.5" fill="#ffffff" fill-opacity="0.45"/>
<rect x="414.47" y="698.9" width="0.6" height="13.5" fill="#ffffff" fill-opacity="0.45"/>
<rect x="418.09" y="698.9" width="0.6" height="13.5" fill="#ffffff" fill-opacity="0.45"/>
<rect x="421.7" y="698.9" width="0.6" height="13.5" fill="#ffffff" fill-opacity="0.45"/>
<rect x="425.31" y="698.9" width="0.6" height="13.5" fill="#ffffff" fill-opacity="0.45"/>
<rect x="428.93" y="698.9" width="0.6" height="13.5" fill="#ffffff" fill-opacity="0.45"/>
<rect x="432.55" y="698.9" width="0.6" height="13.5" fill="#ffffff" fill-opacity="0.45"/>
<rect x="436.16" y="698.9" width="0.6" height="13.5" fill="#ffffff" fill-opacity="0.45"/>
<rect x="439.78" y="698.9" width="0.6" height="13.5" fill="#ffffff" fill-opacity="0.45"/>
<rect x="443.39" y="698.9" width="0.6" height="13.5" fill="#ffffff" fill-opacity="0.45"/>
<rect x="447" y="698.9" width="0.6" height="13.5" fill="#ffffff" fill-opacity="0.45"/>
<rect x="450.62" y="698.9" width="0.6" height="13.5" fill="#ffffff" fill-opacity="0.45"/>
<rect x="454.24" y="698.9" width="0.6" height="13.5" fill="#ffffff" fill-opacity="0.45"/>
<rect x="457.85" y="698.9" width="0.6" height="13.5" fill="#ffffff" fill-opacity="0.45"/>
<rect x="461.47" y="698.9" width="0.6" height="13.5" fill="#ffffff" fill-opacity="0.45"/>
<rect x="465.08" y="698.9" width="0.6" height="13.5" fill="#ffffff" fill-opacity="0.45"/>
<rect x="468.69" y="698.9" width="0.6" height="13.5" fill="#ffffff" fill-opacity="0.45"/>
<rect x="472.31" y="698.9" width="0.6" height="13.5" fill="#ffffff" fill-opacity="0.45"/>
<rect x="475.93" y="698.9" width="0.6" height="13.5" fill="#ffffff" fill-opacity="0.45"/>
<rect x="479.54" y="698.9" width="0.6" height="13.5" fill="#ffffff" fill-opacity="0.45"/>
<rect x="483.16" y="698.9" width="0.6" height="13.5" fill="#ffffff" fill-opacity="0.45"/>
<rect x="486.77" y="698.9" width="0.6" height="13.5" fill="#ffffff" fill-opacity="0.45"/>
<rect x="490.38" y="698.9" width="0.6" height="13.5" fill="#ffffff" fill-opacity="0.45"/>
<rect x="494" y="698.9" width="0.6" height="13.5" fill="#ffffff" fill-opacity="0.45"/>
<rect x="497.62" y="698.9" width="0.6" height="13.5" fill="#ffffff" fill-opacity="0.45"/>
<text x="58.9" y="708.95" font-family="Liberation Sans" font-size="9" font-weight="bold" font-style="normal" text-anchor="end" fill="#000" >pCR</text>
<line x1="534" y1="380.2" x2="662.6" y2="380.2" stroke="#222" stroke-width="1.1" />
<line x1="534" y1="374.5" x2="534" y2="380.7" stroke="#222" stroke-width="1.1" />
<line x1="662.6" y1="374.5" x2="662.6" y2="380.7" stroke="#222" stroke-width="1.1" />
<text x="534.5" y="366.6" font-family="Liberation Sans" font-size="8.9" font-weight="normal" font-style="normal" text-anchor="middle" fill="#222" >0</text>
<text x="662.3" y="366.6" font-family="Liberation Sans" font-size="8.9" font-weight="normal" font-style="normal" text-anchor="middle" fill="#222" >122</text>
<text x="596.4" y="366.6" font-family="Liberation Sans" font-size="10.2" font-weight="normal" font-style="normal" text-anchor="middle" fill="#222" >No. of patients</text>
<rect x="534" y="383.55" width="42.52" height="11.95" fill="#993a5f" />
<rect x="576.52" y="383.55" width="11.41" height="11.95" fill="#236b8e" />
<rect x="587.92" y="383.55" width="20.74" height="11.95" fill="#a6cde4" />
<rect x="608.66" y="383.55" width="11.41" height="11.95" fill="#e5afcb" />
<rect x="534" y="396.79" width="17.63" height="11.95" fill="#993a5f" />
<rect x="551.63" y="396.79" width="1.04" height="11.95" fill="#d6cde5" />
<rect x="534" y="410.03" width="4.15" height="11.95" fill="#993a5f" />
<rect x="538.15" y="410.03" width="1.04" height="11.95" fill="#a6cde4" />
<rect x="539.19" y="410.03" width="2.07" height="11.95" fill="#e5afcb" />
<rect x="534" y="423.27" width="4.15" height="11.95" fill="#993a5f" />
<rect x="538.15" y="423.27" width="2.07" height="11.95" fill="#d6cde5" />
<rect x="534" y="436.51" width="2.07" height="11.95" fill="#236b8e" />
<rect x="536.07" y="436.51" width="1.04" height="11.95" fill="#a6cde4" />
<rect x="537.11" y="436.51" width="3.11" height="11.95" fill="#e5afcb" />
<rect x="534" y="449.75" width="4.15" height="11.95" fill="#993a5f" />
<rect x="538.15" y="449.75" width="1.04" height="11.95" fill="#a6cde4" />
<rect x="534" y="462.99" width="2.07" height="11.95" fill="#993a5f" />
<rect x="536.07" y="462.99" width="3.11" height="11.95" fill="#9461ad" />
<rect x="534" y="476.23" width="1.04" height="11.95" fill="#993a5f" />
<rect x="535.04" y="476.23" width="4.15" height="11.95" fill="#9461ad" />
<rect x="534" y="489.47" width="3.11" height="11.95" fill="#993a5f" />
<rect x="537.11" y="489.47" width="1.04" height="11.95" fill="#a6cde4" />
<rect x="534" y="502.71" width="3.11" height="11.95" fill="#993a5f" />
<rect x="537.11" y="502.71" width="1.04" height="11.95" fill="#a6cde4" />
<rect x="534" y="515.95" width="3.11" height="11.95" fill="#993a5f" />
<rect x="537.11" y="515.95" width="1.04" height="11.95" fill="#a6cde4" />
<rect x="534" y="529.19" width="4.15" height="11.95" fill="#993a5f" />
<rect x="534" y="542.43" width="3.11" height="11.95" fill="#993a5f" />
<rect x="537.11" y="542.43" width="1.04" height="11.95" fill="#a6cde4" />
<rect x="534" y="555.67" width="3.11" height="11.95" fill="#993a5f" />
<rect x="537.11" y="555.67" width="1.04" height="11.95" fill="#236b8e" />
<rect x="534" y="568.91" width="1.04" height="11.95" fill="#236b8e" />
<rect x="535.04" y="568.91" width="2.07" height="11.95" fill="#a6cde4" />
<rect x="537.11" y="568.91" width="1.04" height="11.95" fill="#d6cde5" />
<rect x="534" y="582.15" width="4.15" height="11.95" fill="#993a5f" />
<rect x="534" y="595.39" width="4.15" height="11.95" fill="#993a5f" />
<rect x="534" y="608.63" width="1.04" height="11.95" fill="#993a5f" />
<rect x="535.04" y="608.63" width="2.07" height="11.95" fill="#e5afcb" />
<rect x="537.11" y="608.63" width="1.04" height="11.95" fill="#d6cde5" />
<rect x="534" y="621.87" width="1.04" height="11.95" fill="#993a5f" />
<rect x="535.04" y="621.87" width="3.11" height="11.95" fill="#21a59c" />
<rect x="534" y="635.11" width="4.15" height="11.95" fill="#9461ad" />
<text x="567.8" y="459.2" font-family="Liberation Sans" font-size="8.75" font-weight="bold" font-style="normal" text-anchor="start" fill="#000" >Mutation</text>
<rect x="567.8" y="461.7" width="9.4" height="9.2" fill="#993a5f" />
<text x="580.1" y="470.6" font-family="Liberation Sans" font-size="9" font-weight="normal" font-style="normal" text-anchor="start" fill="#000" >Missense</text>
<rect x="567.8" y="473.38" width="9.4" height="9.2" fill="#236b8e" />
<text x="580.1" y="482.28" font-family="Liberation Sans" font-size="9" font-weight="normal" font-style="normal" text-anchor="start" fill="#000" >Nonsense</text>
<rect x="567.8" y="485.06" width="9.4" height="9.2" fill="#a6cde4" />
<text x="580.1" y="493.96" font-family="Liberation Sans" font-size="9" font-weight="normal" font-style="normal" text-anchor="start" fill="#000" >Frameshift</text>
<rect x="567.8" y="496.74" width="9.4" height="9.2" fill="#9461ad" />
<text x="580.1" y="505.64" font-family="Liberation Sans" font-size="9" font-weight="normal" font-style="normal" text-anchor="start" fill="#000" >Amplification</text>
<rect x="567.8" y="508.42" width="9.4" height="9.2" fill="#21a59c" />
<text x="580.1" y="517.32" font-family="Liberation Sans" font-size="9" font-weight="normal" font-style="normal" text-anchor="start" fill="#000" >Fusion</text>
<rect x="567.8" y="520.1" width="9.4" height="9.2" fill="#e5afcb" />
<text x="580.1" y="529" font-family="Liberation Sans" font-size="9" font-weight="normal" font-style="normal" text-anchor="start" fill="#000" >Others</text>
<rect x="567.8" y="531.78" width="9.4" height="9.2" fill="#d6cde5" />
<text x="580.1" y="540.68" font-family="Liberation Sans" font-size="9" font-weight="normal" font-style="normal" text-anchor="start" fill="#000" >Multi_Hit</text>
<text x="567.8" y="555.4" font-family="Liberation Sans" font-size="8.75" font-weight="bold" font-style="normal" text-anchor="start" fill="#000" >Age</text>
<rect x="567.8" y="559.7" width="9.4" height="9.2" fill="#993a5f" />
<text x="580.1" y="568.6" font-family="Liberation Sans" font-size="9" font-weight="normal" font-style="normal" text-anchor="start" fill="#000" >&lt;40</text>
<rect x="567.8" y="570.7" width="9.4" height="9.2" fill="#e5afcb" />
<text x="580.1" y="579.6" font-family="Liberation Sans" font-size="9" font-weight="normal" font-style="normal" text-anchor="start" fill="#000" >≥40</text>
<text x="567.8" y="592.8" font-family="Liberation Sans" font-size="8.75" font-weight="bold" font-style="normal" text-anchor="start" fill="#000" >cT</text>
<rect x="567.8" y="596.2" width="9.4" height="9.2" fill="#d6cde5" />
<text x="580.1" y="605.1" font-family="Liberation Sans" font-size="9" font-weight="normal" font-style="normal" text-anchor="start" fill="#000" >cT1</text>
<rect x="567.8" y="606.9" width="9.4" height="9.2" fill="#e5afcb" />
<text x="580.1" y="615.8" font-family="Liberation Sans" font-size="9" font-weight="normal" font-style="normal" text-anchor="start" fill="#000" >cT2</text>
<rect x="567.8" y="617.6" width="9.4" height="9.2" fill="#9461ad" />
<text x="580.1" y="626.5" font-family="Liberation Sans" font-size="9" font-weight="normal" font-style="normal" text-anchor="start" fill="#000" >cT3</text>
<rect x="567.8" y="628.3" width="9.4" height="9.2" fill="#993a5f" />
<text x="580.1" y="637.2" font-family="Liberation Sans" font-size="9" font-weight="normal" font-style="normal" text-anchor="start" fill="#000" >cT4</text>
<text x="567.8" y="652.4" font-family="Liberation Sans" font-size="8.75" font-weight="bold" font-style="normal" text-anchor="start" fill="#000" >cN</text>
<rect x="567.8" y="655.8" width="9.4" height="9.2" fill="#9461ad" />
<text x="580.1" y="664.7" font-family="Liberation Sans" font-size="9" font-weight="normal" font-style="normal" text-anchor="start" fill="#000" >cN0</text>
<rect x="567.8" y="667" width="9.4" height="9.2" fill="#d6cde5" />
<text x="580.1" y="675.9" font-family="Liberation Sans" font-size="9" font-weight="normal" font-style="normal" text-anchor="start" fill="#000" >cN+</text>
<text x="567.8" y="689.2" font-family="Liberation Sans" font-size="8.75" font-weight="bold" font-style="normal" text-anchor="start" fill="#000" >pCR</text>
<rect x="567.8" y="692.3" width="9.4" height="9.2" fill="#236b8e" />
<text x="580.1" y="701.2" font-family="Liberation Sans" font-size="9" font-weight="normal" font-style="normal" text-anchor="start" fill="#000" >Yes</text>
<rect x="567.8" y="703" width="9.4" height="9.2" fill="#a6cde4" />
<text x="580.1" y="711.9" font-family="Liberation Sans" font-size="9" font-weight="normal" font-style="normal" text-anchor="start" fill="#000" >No</text>
<text x="4.4" y="744.6" font-family="Liberation Sans" font-size="13.4" font-weight="bold" font-style="normal" text-anchor="start" fill="#1c1210" >C</text>
<line x1="51.5" y1="760.5" x2="51.5" y2="915.75" stroke="#111" stroke-width="1.1" />
<line x1="50.95" y1="915.2" x2="165" y2="915.2" stroke="#111" stroke-width="1.1" />
<line x1="49.9" y1="901.6" x2="51.5" y2="901.6" stroke="#111" stroke-width="0.9" />
<text x="48.2" y="903.9" font-family="Liberation Sans" font-size="6.5" font-weight="normal" font-style="normal" text-anchor="end" fill="#333" >0%</text>
<line x1="49.9" y1="888.1" x2="51.5" y2="888.1" stroke="#111" stroke-width="0.9" />
<text x="48.2" y="890.4" font-family="Liberation Sans" font-size="6.5" font-weight="normal" font-style="normal" text-anchor="end" fill="#333" >10%</text>
<line x1="49.9" y1="874.6" x2="51.5" y2="874.6" stroke="#111" stroke-width="0.9" />
<text x="48.2" y="876.9" font-family="Liberation Sans" font-size="6.5" font-weight="normal" font-style="normal" text-anchor="end" fill="#333" >20%</text>
<line x1="49.9" y1="861.1" x2="51.5" y2="861.1" stroke="#111" stroke-width="0.9" />
<text x="48.2" y="863.4" font-family="Liberation Sans" font-size="6.5" font-weight="normal" font-style="normal" text-anchor="end" fill="#333" >30%</text>
<line x1="49.9" y1="847.6" x2="51.5" y2="847.6" stroke="#111" stroke-width="0.9" />
<text x="48.2" y="849.9" font-family="Liberation Sans" font-size="6.5" font-weight="normal" font-style="normal" text-anchor="end" fill="#333" >40%</text>
<line x1="49.9" y1="834.1" x2="51.5" y2="834.1" stroke="#111" stroke-width="0.9" />
<text x="48.2" y="836.4" font-family="Liberation Sans" font-size="6.5" font-weight="normal" font-style="normal" text-anchor="end" fill="#333" >50%</text>
<line x1="49.9" y1="820.6" x2="51.5" y2="820.6" stroke="#111" stroke-width="0.9" />
<text x="48.2" y="822.9" font-family="Liberation Sans" font-size="6.5" font-weight="normal" font-style="normal" text-anchor="end" fill="#333" >60%</text>
<line x1="49.9" y1="807.1" x2="51.5" y2="807.1" stroke="#111" stroke-width="0.9" />
<text x="48.2" y="809.4" font-family="Liberation Sans" font-size="6.5" font-weight="normal" font-style="normal" text-anchor="end" fill="#333" >70%</text>
<line x1="49.9" y1="793.6" x2="51.5" y2="793.6" stroke="#111" stroke-width="0.9" />
<text x="48.2" y="795.9" font-family="Liberation Sans" font-size="6.5" font-weight="normal" font-style="normal" text-anchor="end" fill="#333" >80%</text>
<line x1="49.9" y1="780.1" x2="51.5" y2="780.1" stroke="#111" stroke-width="0.9" />
<text x="48.2" y="782.4" font-family="Liberation Sans" font-size="6.5" font-weight="normal" font-style="normal" text-anchor="end" fill="#333" >90%</text>
<line x1="49.9" y1="766.6" x2="51.5" y2="766.6" stroke="#111" stroke-width="0.9" />
<text x="48.2" y="768.9" font-family="Liberation Sans" font-size="6.5" font-weight="normal" font-style="normal" text-anchor="end" fill="#333" >100%</text>
<text x="108.8" y="749" font-family="Liberation Sans" font-size="9.3" font-weight="bold" font-style="normal" text-anchor="middle" fill="#000" >Age</text>
<text x="107.5" y="760.9" font-family="Liberation Sans" font-size="9.0" text-anchor="middle" fill="#3a3a3a"><tspan font-style="italic">p</tspan> = 0.097</text>
<rect x="64.2" y="766.6" width="36.4" height="118.1" fill="#cc5242" />
<rect x="64.2" y="884.7" width="36.4" height="16.9" fill="#4ba8bc" />
<rect x="64.2" y="766.6" width="36.4" height="135" fill="none" stroke="#111" stroke-width="1.1"/>
<line x1="64.2" y1="884.7" x2="100.6" y2="884.7" stroke="#111" stroke-width="1.1" />
<rect x="72.7" y="815.3" width="16" height="9.4" rx="1.3" fill="#fff" stroke="#1a1a1a" stroke-width="0.8"/>
<text x="80.7" y="822.4" font-family="Liberation Sans" font-size="6.9" font-weight="normal" font-style="normal" text-anchor="middle" fill="#000" >88%</text>
<rect x="72.7" y="887.9" width="16" height="9.4" rx="1.3" fill="#fff" stroke="#1a1a1a" stroke-width="0.8"/>
<text x="80.7" y="895" font-family="Liberation Sans" font-size="6.9" font-weight="normal" font-style="normal" text-anchor="middle" fill="#000" >12%</text>
<text x="82.4" y="910.3" font-family="Liberation Sans" font-size="6.5" font-weight="normal" font-style="normal" text-anchor="middle" fill="#222" >(n = 40)</text>
<line x1="82.4" y1="915.2" x2="82.4" y2="917.4" stroke="#111" stroke-width="0.9" />
<text x="82.4" y="928.9" font-family="Liberation Sans" font-size="8.8" font-weight="normal" font-style="normal" text-anchor="middle" fill="#000" stroke="#000" stroke-width="0.35">&lt;40</text>
<rect x="116.6" y="766.6" width="35.6" height="100.4" fill="#cc5242" />
<rect x="116.6" y="867" width="35.6" height="34.6" fill="#4ba8bc" />
<rect x="116.6" y="766.6" width="35.6" height="135" fill="none" stroke="#111" stroke-width="1.1"/>
<line x1="116.6" y1="867" x2="152.2" y2="867" stroke="#111" stroke-width="1.1" />
<rect x="127.7" y="808" width="16" height="9.4" rx="1.3" fill="#fff" stroke="#1a1a1a" stroke-width="0.8"/>
<text x="135.7" y="815.1" font-family="Liberation Sans" font-size="6.9" font-weight="normal" font-style="normal" text-anchor="middle" fill="#000" >74%</text>
<rect x="127.7" y="878.5" width="16" height="9.4" rx="1.3" fill="#fff" stroke="#1a1a1a" stroke-width="0.8"/>
<text x="135.7" y="885.6" font-family="Liberation Sans" font-size="6.9" font-weight="normal" font-style="normal" text-anchor="middle" fill="#000" >26%</text>
<text x="134.4" y="910.3" font-family="Liberation Sans" font-size="6.5" font-weight="normal" font-style="normal" text-anchor="middle" fill="#222" >(n = 82)</text>
<line x1="134.4" y1="915.2" x2="134.4" y2="917.4" stroke="#111" stroke-width="0.9" />
<text x="134.4" y="928.9" font-family="Liberation Sans" font-size="8.8" font-weight="normal" font-style="normal" text-anchor="middle" fill="#000" stroke="#000" stroke-width="0.35">≥40</text>
<line x1="198.5" y1="760.5" x2="198.5" y2="916.25" stroke="#111" stroke-width="1.1" />
<line x1="197.95" y1="915.7" x2="311.4" y2="915.7" stroke="#111" stroke-width="1.1" />
<line x1="196.9" y1="902.6" x2="198.5" y2="902.6" stroke="#111" stroke-width="0.9" />
<text x="195.2" y="904.9" font-family="Liberation Sans" font-size="6.5" font-weight="normal" font-style="normal" text-anchor="end" fill="#333" >0%</text>
<line x1="196.9" y1="888.94" x2="198.5" y2="888.94" stroke="#111" stroke-width="0.9" />
<text x="195.2" y="891.24" font-family="Liberation Sans" font-size="6.5" font-weight="normal" font-style="normal" text-anchor="end" fill="#333" >10%</text>
<line x1="196.9" y1="875.28" x2="198.5" y2="875.28" stroke="#111" stroke-width="0.9" />
<text x="195.2" y="877.58" font-family="Liberation Sans" font-size="6.5" font-weight="normal" font-style="normal" text-anchor="end" fill="#333" >20%</text>
<line x1="196.9" y1="861.62" x2="198.5" y2="861.62" stroke="#111" stroke-width="0.9" />
<text x="195.2" y="863.92" font-family="Liberation Sans" font-size="6.5" font-weight="normal" font-style="normal" text-anchor="end" fill="#333" >30%</text>
<line x1="196.9" y1="847.96" x2="198.5" y2="847.96" stroke="#111" stroke-width="0.9" />
<text x="195.2" y="850.26" font-family="Liberation Sans" font-size="6.5" font-weight="normal" font-style="normal" text-anchor="end" fill="#333" >40%</text>
<line x1="196.9" y1="834.3" x2="198.5" y2="834.3" stroke="#111" stroke-width="0.9" />
<text x="195.2" y="836.6" font-family="Liberation Sans" font-size="6.5" font-weight="normal" font-style="normal" text-anchor="end" fill="#333" >50%</text>
<line x1="196.9" y1="820.64" x2="198.5" y2="820.64" stroke="#111" stroke-width="0.9" />
<text x="195.2" y="822.94" font-family="Liberation Sans" font-size="6.5" font-weight="normal" font-style="normal" text-anchor="end" fill="#333" >60%</text>
<line x1="196.9" y1="806.98" x2="198.5" y2="806.98" stroke="#111" stroke-width="0.9" />
<text x="195.2" y="809.28" font-family="Liberation Sans" font-size="6.5" font-weight="normal" font-style="normal" text-anchor="end" fill="#333" >70%</text>
<line x1="196.9" y1="793.32" x2="198.5" y2="793.32" stroke="#111" stroke-width="0.9" />
<text x="195.2" y="795.62" font-family="Liberation Sans" font-size="6.5" font-weight="normal" font-style="normal" text-anchor="end" fill="#333" >80%</text>
<line x1="196.9" y1="779.66" x2="198.5" y2="779.66" stroke="#111" stroke-width="0.9" />
<text x="195.2" y="781.96" font-family="Liberation Sans" font-size="6.5" font-weight="normal" font-style="normal" text-anchor="end" fill="#333" >90%</text>
<line x1="196.9" y1="766" x2="198.5" y2="766" stroke="#111" stroke-width="0.9" />
<text x="195.2" y="768.3" font-family="Liberation Sans" font-size="6.5" font-weight="normal" font-style="normal" text-anchor="end" fill="#333" >100%</text>
<text x="257.8" y="749" font-family="Liberation Sans" font-size="9.3" font-weight="bold" font-style="normal" text-anchor="middle" fill="#000" >cT</text>
<text x="255" y="760.9" font-family="Liberation Sans" font-size="9.0" text-anchor="middle" fill="#3a3a3a"><tspan font-style="italic">p</tspan> = 0.100</text>
<rect x="210.4" y="766" width="36.2" height="102.6" fill="#cc5242" />
<rect x="210.4" y="868.6" width="36.2" height="34" fill="#4ba8bc" />
<rect x="210.4" y="766" width="36.2" height="136.6" fill="none" stroke="#111" stroke-width="1.1"/>
<line x1="210.4" y1="868.6" x2="246.6" y2="868.6" stroke="#111" stroke-width="1.1" />
<rect x="221.3" y="814.7" width="16" height="9.4" rx="1.3" fill="#fff" stroke="#1a1a1a" stroke-width="0.8"/>
<text x="229.3" y="821.8" font-family="Liberation Sans" font-size="6.9" font-weight="normal" font-style="normal" text-anchor="middle" fill="#000" >76%</text>
<rect x="221.3" y="879.3" width="16" height="9.4" rx="1.3" fill="#fff" stroke="#1a1a1a" stroke-width="0.8"/>
<text x="229.3" y="886.4" font-family="Liberation Sans" font-size="6.9" font-weight="normal" font-style="normal" text-anchor="middle" fill="#000" >24%</text>
<text x="228.5" y="911.6" font-family="Liberation Sans" font-size="6.5" font-weight="normal" font-style="normal" text-anchor="middle" fill="#222" >(n = 98)</text>
<line x1="228.5" y1="915.7" x2="228.5" y2="917.9" stroke="#111" stroke-width="0.9" />
<text x="228.5" y="928.6" font-family="Liberation Sans" font-size="8.8" font-weight="normal" font-style="normal" text-anchor="middle" fill="#000" stroke="#000" stroke-width="0.35">1/2</text>
<rect x="263.7" y="766" width="36.8" height="124.7" fill="#cc5242" />
<rect x="263.7" y="890.7" width="36.8" height="11.9" fill="#4ba8bc" />
<rect x="263.7" y="766" width="36.8" height="136.6" fill="none" stroke="#111" stroke-width="1.1"/>
<line x1="263.7" y1="890.7" x2="300.5" y2="890.7" stroke="#111" stroke-width="1.1" />
<rect x="275" y="823.4" width="16" height="9.4" rx="1.3" fill="#fff" stroke="#1a1a1a" stroke-width="0.8"/>
<text x="283" y="830.5" font-family="Liberation Sans" font-size="6.9" font-weight="normal" font-style="normal" text-anchor="middle" fill="#000" >92%</text>
<rect x="275" y="891.7" width="16" height="9.4" rx="1.3" fill="#fff" stroke="#1a1a1a" stroke-width="0.8"/>
<text x="283" y="898.8" font-family="Liberation Sans" font-size="6.9" font-weight="normal" font-style="normal" text-anchor="middle" fill="#000" >8%</text>
<text x="282.1" y="911.6" font-family="Liberation Sans" font-size="6.5" font-weight="normal" font-style="normal" text-anchor="middle" fill="#222" >(n = 24)</text>
<line x1="282.1" y1="915.7" x2="282.1" y2="917.9" stroke="#111" stroke-width="0.9" />
<text x="282.1" y="928.6" font-family="Liberation Sans" font-size="8.8" font-weight="normal" font-style="normal" text-anchor="middle" fill="#000" stroke="#000" stroke-width="0.35">3/4</text>
<line x1="349" y1="760.5" x2="349" y2="917.55" stroke="#111" stroke-width="1.1" />
<line x1="348.45" y1="917" x2="461.9" y2="917" stroke="#111" stroke-width="1.1" />
<line x1="347.4" y1="903" x2="349" y2="903" stroke="#111" stroke-width="0.9" />
<text x="345.7" y="905.3" font-family="Liberation Sans" font-size="6.5" font-weight="normal" font-style="normal" text-anchor="end" fill="#333" >0%</text>
<line x1="347.4" y1="889.23" x2="349" y2="889.23" stroke="#111" stroke-width="0.9" />
<text x="345.7" y="891.53" font-family="Liberation Sans" font-size="6.5" font-weight="normal" font-style="normal" text-anchor="end" fill="#333" >10%</text>
<line x1="347.4" y1="875.46" x2="349" y2="875.46" stroke="#111" stroke-width="0.9" />
<text x="345.7" y="877.76" font-family="Liberation Sans" font-size="6.5" font-weight="normal" font-style="normal" text-anchor="end" fill="#333" >20%</text>
<line x1="347.4" y1="861.69" x2="349" y2="861.69" stroke="#111" stroke-width="0.9" />
<text x="345.7" y="863.99" font-family="Liberation Sans" font-size="6.5" font-weight="normal" font-style="normal" text-anchor="end" fill="#333" >30%</text>
<line x1="347.4" y1="847.92" x2="349" y2="847.92" stroke="#111" stroke-width="0.9" />
<text x="345.7" y="850.22" font-family="Liberation Sans" font-size="6.5" font-weight="normal" font-style="normal" text-anchor="end" fill="#333" >40%</text>
<line x1="347.4" y1="834.15" x2="349" y2="834.15" stroke="#111" stroke-width="0.9" />
<text x="345.7" y="836.45" font-family="Liberation Sans" font-size="6.5" font-weight="normal" font-style="normal" text-anchor="end" fill="#333" >50%</text>
<line x1="347.4" y1="820.38" x2="349" y2="820.38" stroke="#111" stroke-width="0.9" />
<text x="345.7" y="822.68" font-family="Liberation Sans" font-size="6.5" font-weight="normal" font-style="normal" text-anchor="end" fill="#333" >60%</text>
<line x1="347.4" y1="806.61" x2="349" y2="806.61" stroke="#111" stroke-width="0.9" />
<text x="345.7" y="808.91" font-family="Liberation Sans" font-size="6.5" font-weight="normal" font-style="normal" text-anchor="end" fill="#333" >70%</text>
<line x1="347.4" y1="792.84" x2="349" y2="792.84" stroke="#111" stroke-width="0.9" />
<text x="345.7" y="795.14" font-family="Liberation Sans" font-size="6.5" font-weight="normal" font-style="normal" text-anchor="end" fill="#333" >80%</text>
<line x1="347.4" y1="779.07" x2="349" y2="779.07" stroke="#111" stroke-width="0.9" />
<text x="345.7" y="781.37" font-family="Liberation Sans" font-size="6.5" font-weight="normal" font-style="normal" text-anchor="end" fill="#333" >90%</text>
<line x1="347.4" y1="765.3" x2="349" y2="765.3" stroke="#111" stroke-width="0.9" />
<text x="345.7" y="767.6" font-family="Liberation Sans" font-size="6.5" font-weight="normal" font-style="normal" text-anchor="end" fill="#333" >100%</text>
<text x="405.9" y="749" font-family="Liberation Sans" font-size="9.3" font-weight="bold" font-style="normal" text-anchor="middle" fill="#000" >cN</text>
<text x="405.8" y="760.9" font-family="Liberation Sans" font-size="9.0" text-anchor="middle" fill="#3a3a3a"><tspan font-style="italic">p</tspan> = 0.064</text>
<rect x="361.4" y="765.3" width="36.2" height="97.1" fill="#cc5242" />
<rect x="361.4" y="862.4" width="36.2" height="40.6" fill="#4ba8bc" />
<rect x="361.4" y="765.3" width="36.2" height="137.7" fill="none" stroke="#111" stroke-width="1.1"/>
<line x1="361.4" y1="862.4" x2="397.6" y2="862.4" stroke="#111" stroke-width="1.1" />
<rect x="371.5" y="811.7" width="16" height="9.4" rx="1.3" fill="#fff" stroke="#1a1a1a" stroke-width="0.8"/>
<text x="379.5" y="818.8" font-family="Liberation Sans" font-size="6.9" font-weight="normal" font-style="normal" text-anchor="middle" fill="#000" >71%</text>
<rect x="371.5" y="877.3" width="16" height="9.4" rx="1.3" fill="#fff" stroke="#1a1a1a" stroke-width="0.8"/>
<text x="379.5" y="884.4" font-family="Liberation Sans" font-size="6.9" font-weight="normal" font-style="normal" text-anchor="middle" fill="#000" >29%</text>
<text x="379.5" y="913" font-family="Liberation Sans" font-size="6.5" font-weight="normal" font-style="normal" text-anchor="middle" fill="#222" >(n = 51)</text>
<line x1="379.5" y1="917" x2="379.5" y2="919.2" stroke="#111" stroke-width="0.9" />
<text x="379.5" y="927.8" font-family="Liberation Sans" font-size="8.8" font-weight="normal" font-style="normal" text-anchor="middle" fill="#000" stroke="#000" stroke-width="0.35">negative</text>
<rect x="413.5" y="765.3" width="35.7" height="116.4" fill="#cc5242" />
<rect x="413.5" y="881.7" width="35.7" height="21.3" fill="#4ba8bc" />
<rect x="413.5" y="765.3" width="35.7" height="137.7" fill="none" stroke="#111" stroke-width="1.1"/>
<line x1="413.5" y1="881.7" x2="449.2" y2="881.7" stroke="#111" stroke-width="1.1" />
<rect x="423.7" y="818.4" width="16" height="9.4" rx="1.3" fill="#fff" stroke="#1a1a1a" stroke-width="0.8"/>
<text x="431.7" y="825.5" font-family="Liberation Sans" font-size="6.9" font-weight="normal" font-style="normal" text-anchor="middle" fill="#000" >85%</text>
<rect x="423.7" y="888.4" width="16" height="9.4" rx="1.3" fill="#fff" stroke="#1a1a1a" stroke-width="0.8"/>
<text x="431.7" y="895.5" font-family="Liberation Sans" font-size="6.9" font-weight="normal" font-style="normal" text-anchor="middle" fill="#000" >15%</text>
<text x="431.35" y="913" font-family="Liberation Sans" font-size="6.5" font-weight="normal" font-style="normal" text-anchor="middle" fill="#222" >(n = 71)</text>
<line x1="431.35" y1="917" x2="431.35" y2="919.2" stroke="#111" stroke-width="0.9" />
<text x="431.35" y="927.8" font-family="Liberation Sans" font-size="8.8" font-weight="normal" font-style="normal" text-anchor="middle" fill="#000" stroke="#000" stroke-width="0.35">positive</text>
<line x1="500.8" y1="760.5" x2="500.8" y2="917.95" stroke="#111" stroke-width="1.1" />
<line x1="500.25" y1="917.4" x2="614.4" y2="917.4" stroke="#111" stroke-width="1.1" />
<line x1="499.2" y1="903.2" x2="500.8" y2="903.2" stroke="#111" stroke-width="0.9" />
<text x="497.5" y="905.5" font-family="Liberation Sans" font-size="6.5" font-weight="normal" font-style="normal" text-anchor="end" fill="#333" >0%</text>
<line x1="499.2" y1="889.55" x2="500.8" y2="889.55" stroke="#111" stroke-width="0.9" />
<text x="497.5" y="891.85" font-family="Liberation Sans" font-size="6.5" font-weight="normal" font-style="normal" text-anchor="end" fill="#333" >10%</text>
<line x1="499.2" y1="875.9" x2="500.8" y2="875.9" stroke="#111" stroke-width="0.9" />
<text x="497.5" y="878.2" font-family="Liberation Sans" font-size="6.5" font-weight="normal" font-style="normal" text-anchor="end" fill="#333" >20%</text>
<line x1="499.2" y1="862.25" x2="500.8" y2="862.25" stroke="#111" stroke-width="0.9" />
<text x="497.5" y="864.55" font-family="Liberation Sans" font-size="6.5" font-weight="normal" font-style="normal" text-anchor="end" fill="#333" >30%</text>
<line x1="499.2" y1="848.6" x2="500.8" y2="848.6" stroke="#111" stroke-width="0.9" />
<text x="497.5" y="850.9" font-family="Liberation Sans" font-size="6.5" font-weight="normal" font-style="normal" text-anchor="end" fill="#333" >40%</text>
<line x1="499.2" y1="834.95" x2="500.8" y2="834.95" stroke="#111" stroke-width="0.9" />
<text x="497.5" y="837.25" font-family="Liberation Sans" font-size="6.5" font-weight="normal" font-style="normal" text-anchor="end" fill="#333" >50%</text>
<line x1="499.2" y1="821.3" x2="500.8" y2="821.3" stroke="#111" stroke-width="0.9" />
<text x="497.5" y="823.6" font-family="Liberation Sans" font-size="6.5" font-weight="normal" font-style="normal" text-anchor="end" fill="#333" >60%</text>
<line x1="499.2" y1="807.65" x2="500.8" y2="807.65" stroke="#111" stroke-width="0.9" />
<text x="497.5" y="809.95" font-family="Liberation Sans" font-size="6.5" font-weight="normal" font-style="normal" text-anchor="end" fill="#333" >70%</text>
<line x1="499.2" y1="794" x2="500.8" y2="794" stroke="#111" stroke-width="0.9" />
<text x="497.5" y="796.3" font-family="Liberation Sans" font-size="6.5" font-weight="normal" font-style="normal" text-anchor="end" fill="#333" >80%</text>
<line x1="499.2" y1="780.35" x2="500.8" y2="780.35" stroke="#111" stroke-width="0.9" />
<text x="497.5" y="782.65" font-family="Liberation Sans" font-size="6.5" font-weight="normal" font-style="normal" text-anchor="end" fill="#333" >90%</text>
<line x1="499.2" y1="766.7" x2="500.8" y2="766.7" stroke="#111" stroke-width="0.9" />
<text x="497.5" y="769" font-family="Liberation Sans" font-size="6.5" font-weight="normal" font-style="normal" text-anchor="end" fill="#333" >100%</text>
<text x="557" y="749" font-family="Liberation Sans" font-size="9.3" font-weight="bold" font-style="normal" text-anchor="middle" fill="#000" >Ki67</text>
<text x="553.8" y="760.9" font-family="Liberation Sans" font-size="9.0" text-anchor="middle" fill="#3a3a3a"><tspan font-style="italic">p</tspan> = 0.010</text>
<rect x="513.3" y="766.7" width="36.7" height="87.2" fill="#cc5242" />
<rect x="513.3" y="853.9" width="36.7" height="49.3" fill="#4ba8bc" />
<rect x="513.3" y="766.7" width="36.7" height="136.5" fill="none" stroke="#111" stroke-width="1.1"/>
<line x1="513.3" y1="853.9" x2="550" y2="853.9" stroke="#111" stroke-width="1.1" />
<rect x="524.3" y="805" width="16" height="9.4" rx="1.3" fill="#fff" stroke="#1a1a1a" stroke-width="0.8"/>
<text x="532.3" y="812.1" font-family="Liberation Sans" font-size="6.9" font-weight="normal" font-style="normal" text-anchor="middle" fill="#000" >64%</text>
<rect x="524.3" y="872.5" width="16" height="9.4" rx="1.3" fill="#fff" stroke="#1a1a1a" stroke-width="0.8"/>
<text x="532.3" y="879.6" font-family="Liberation Sans" font-size="6.9" font-weight="normal" font-style="normal" text-anchor="middle" fill="#000" >36%</text>
<text x="531.65" y="912.8" font-family="Liberation Sans" font-size="6.5" font-weight="normal" font-style="normal" text-anchor="middle" fill="#222" >(n = 33)</text>
<line x1="531.65" y1="917.4" x2="531.65" y2="919.6" stroke="#111" stroke-width="0.9" />
<text x="531.65" y="927.8" font-family="Liberation Sans" font-size="8.8" font-weight="normal" font-style="normal" text-anchor="middle" fill="#000" stroke="#000" stroke-width="0.35">low</text>
<rect x="565.1" y="766.7" width="36.1" height="116.7" fill="#cc5242" />
<rect x="565.1" y="883.4" width="36.1" height="19.8" fill="#4ba8bc" />
<rect x="565.1" y="766.7" width="36.1" height="136.5" fill="none" stroke="#111" stroke-width="1.1"/>
<line x1="565.1" y1="883.4" x2="601.2" y2="883.4" stroke="#111" stroke-width="1.1" />
<rect x="575.1" y="821.6" width="16" height="9.4" rx="1.3" fill="#fff" stroke="#1a1a1a" stroke-width="0.8"/>
<text x="583.1" y="828.7" font-family="Liberation Sans" font-size="6.9" font-weight="normal" font-style="normal" text-anchor="middle" fill="#000" >85%</text>
<rect x="575.1" y="889.1" width="16" height="9.4" rx="1.3" fill="#fff" stroke="#1a1a1a" stroke-width="0.8"/>
<text x="583.1" y="896.2" font-family="Liberation Sans" font-size="6.9" font-weight="normal" font-style="normal" text-anchor="middle" fill="#000" >15%</text>
<text x="583.15" y="912.8" font-family="Liberation Sans" font-size="6.5" font-weight="normal" font-style="normal" text-anchor="middle" fill="#222" >(n = 82)</text>
<line x1="583.15" y1="917.4" x2="583.15" y2="919.6" stroke="#111" stroke-width="0.9" />
<text x="583.15" y="927.8" font-family="Liberation Sans" font-size="8.8" font-weight="normal" font-style="normal" text-anchor="middle" fill="#000" stroke="#000" stroke-width="0.35">high</text>
<rect x="619.3" y="770.5" width="13.3" height="12.8" fill="#cc5242" stroke="#2a2a2a" stroke-width="1.1"/>
<rect x="619.3" y="792.8" width="13.3" height="12.8" fill="#4ba8bc" stroke="#2a2a2a" stroke-width="1.1"/>
<text x="638.9" y="782.2" font-family="Liberation Sans" font-size="10" font-weight="normal" font-style="normal" text-anchor="start" fill="#222" >ctDNA+</text>
<text x="638.9" y="804.4" font-family="Liberation Sans" font-size="10" font-weight="normal" font-style="normal" text-anchor="start" fill="#222" >ctDNA-</text>
<text x="4.0" y="960.0" font-family="Liberation Sans" font-size="13.4" font-weight="bold" fill="#1c1210">D</text>
<text transform="translate(33.4,1043.5) rotate(-90)" font-family="Liberation Serif" font-size="9.5" font-weight="bold" text-anchor="middle" fill="#222" textLength="155.5" lengthAdjust="spacingAndGlyphs">Maximum variant allele frequency (%)</text>
<text x="109" y="963.1" font-family="Liberation Sans" font-size="9.6" font-weight="bold" text-anchor="middle" fill="#000">Age</text>
<text x="92.3" y="984.7" font-family="Liberation Sans" font-size="10.4" fill="#222" textLength="41.7" lengthAdjust="spacingAndGlyphs"><tspan font-style="italic">p</tspan> = 0.592</text>
<line x1="64.5" y1="1077.88" x2="162" y2="1077.88" stroke="#111" stroke-width="2" stroke-dasharray="2 2.9"/>
<path d="M91.30,1082.79 C91.55,1082.62 92.05,1082.15 92.80,1081.74 C93.55,1081.33 94.55,1080.80 95.80,1080.33 C97.05,1079.87 98.63,1079.34 100.30,1078.93 C101.97,1078.52 105.80,1078.20 105.80,1077.88 C105.80,1077.55 101.97,1077.35 100.30,1077.00 C98.63,1076.65 96.80,1076.21 95.80,1075.77 C94.80,1075.33 94.62,1074.89 94.30,1074.36 C93.98,1073.84 94.02,1073.34 93.90,1072.61 C93.78,1071.87 93.73,1070.70 93.60,1069.97 C93.47,1069.24 93.12,1068.95 93.10,1068.22 C93.08,1067.48 93.63,1066.31 93.50,1065.58 C93.37,1064.85 92.58,1064.41 92.30,1063.83 C92.02,1063.24 91.88,1062.65 91.80,1062.07 C91.72,1061.48 91.80,1060.90 91.80,1060.31 C91.80,1059.73 91.80,1059.14 91.80,1058.56 C91.80,1057.97 91.80,1057.39 91.80,1056.80 C91.80,1056.21 91.80,1055.63 91.80,1055.04 C91.80,1054.46 91.80,1053.87 91.80,1053.29 C91.80,1052.70 91.80,1052.12 91.80,1051.53 C91.80,1050.95 91.80,1050.36 91.80,1049.78 C91.80,1049.19 91.80,1048.60 91.80,1048.02 C91.80,1047.43 91.80,1046.85 91.80,1046.26 C91.80,1045.68 91.80,1045.09 91.80,1044.51 C91.80,1043.92 91.80,1043.34 91.80,1042.75 C91.80,1042.16 91.80,1041.58 91.80,1040.99 C91.80,1040.41 91.80,1039.82 91.80,1039.24 C91.80,1038.65 91.80,1038.07 91.80,1037.48 C91.80,1036.90 91.80,1036.31 91.80,1035.72 C91.80,1035.14 91.80,1034.55 91.80,1033.97 C91.80,1033.38 91.80,1032.80 91.80,1032.21 C91.80,1031.63 91.80,1031.04 91.80,1030.46 C91.80,1029.87 91.80,1029.29 91.80,1028.70 C91.80,1028.11 91.80,1027.53 91.80,1026.94 C91.80,1026.36 91.80,1025.77 91.80,1025.19 C91.80,1024.60 91.80,1024.02 91.80,1023.43 C91.80,1022.85 91.80,1022.26 91.80,1021.67 C91.80,1021.09 91.80,1020.50 91.80,1019.92 C91.80,1019.33 91.80,1018.75 91.80,1018.16 C91.80,1017.58 91.80,1016.99 91.80,1016.41 C91.80,1015.82 91.80,1015.24 91.80,1014.65 C91.80,1014.06 91.80,1013.48 91.80,1012.89 C91.80,1012.31 91.80,1011.72 91.80,1011.14 C91.80,1010.55 91.80,1009.97 91.80,1009.38 C91.80,1008.80 91.80,1008.21 91.80,1007.62 C91.80,1007.04 91.80,1006.45 91.80,1005.87 C91.80,1005.28 91.80,1004.70 91.80,1004.11 C91.80,1003.53 91.80,1002.94 91.80,1002.36 C91.80,1001.77 91.80,1001.19 91.80,1000.60 C91.80,1000.01 91.88,999.28 91.80,998.84 C91.72,998.40 91.38,998.11 91.30,997.97 C91.22,997.82 91.38,997.82 91.30,997.97 C91.22,998.11 90.88,998.40 90.80,998.84 C90.72,999.28 90.80,1000.01 90.80,1000.60 C90.80,1001.19 90.80,1001.77 90.80,1002.36 C90.80,1002.94 90.80,1003.53 90.80,1004.11 C90.80,1004.70 90.80,1005.28 90.80,1005.87 C90.80,1006.45 90.80,1007.04 90.80,1007.62 C90.80,1008.21 90.80,1008.80 90.80,1009.38 C90.80,1009.97 90.80,1010.55 90.80,1011.14 C90.80,1011.72 90.80,1012.31 90.80,1012.89 C90.80,1013.48 90.80,1014.06 90.80,1014.65 C90.80,1015.24 90.80,1015.82 90.80,1016.41 C90.80,1016.99 90.80,1017.58 90.80,1018.16 C90.80,1018.75 90.80,1019.33 90.80,1019.92 C90.80,1020.50 90.80,1021.09 90.80,1021.67 C90.80,1022.26 90.80,1022.85 90.80,1023.43 C90.80,1024.02 90.80,1024.60 90.80,1025.19 C90.80,1025.77 90.80,1026.36 90.80,1026.94 C90.80,1027.53 90.80,1028.11 90.80,1028.70 C90.80,1029.29 90.80,1029.87 90.80,1030.46 C90.80,1031.04 90.80,1031.63 90.80,1032.21 C90.80,1032.80 90.80,1033.38 90.80,1033.97 C90.80,1034.55 90.80,1035.14 90.80,1035.72 C90.80,1036.31 90.80,1036.90 90.80,1037.48 C90.80,1038.07 90.80,1038.65 90.80,1039.24 C90.80,1039.82 90.80,1040.41 90.80,1040.99 C90.80,1041.58 90.80,1042.16 90.80,1042.75 C90.80,1043.34 90.80,1043.92 90.80,1044.51 C90.80,1045.09 90.80,1045.68 90.80,1046.26 C90.80,1046.85 90.80,1047.43 90.80,1048.02 C90.80,1048.60 90.80,1049.19 90.80,1049.78 C90.80,1050.36 90.80,1050.95 90.80,1051.53 C90.80,1052.12 90.80,1052.70 90.80,1053.29 C90.80,1053.87 90.80,1054.46 90.80,1055.04 C90.80,1055.63 90.80,1056.21 90.80,1056.80 C90.80,1057.39 90.80,1057.97 90.80,1058.56 C90.80,1059.14 90.80,1059.73 90.80,1060.31 C90.80,1060.90 90.88,1061.48 90.80,1062.07 C90.72,1062.65 90.58,1063.24 90.30,1063.83 C90.02,1064.41 89.23,1064.85 89.10,1065.58 C88.97,1066.31 89.52,1067.48 89.50,1068.22 C89.48,1068.95 89.13,1069.24 89.00,1069.97 C88.87,1070.70 88.82,1071.87 88.70,1072.61 C88.58,1073.34 88.62,1073.84 88.30,1074.36 C87.98,1074.89 87.80,1075.33 86.80,1075.77 C85.80,1076.21 83.97,1076.65 82.30,1077.00 C80.63,1077.35 76.80,1077.55 76.80,1077.88 C76.80,1078.20 80.63,1078.52 82.30,1078.93 C83.97,1079.34 85.55,1079.87 86.80,1080.33 C88.05,1080.80 89.05,1081.33 89.80,1081.74 C90.55,1082.15 91.05,1082.62 91.30,1082.79Z" fill="#b5434e" stroke="#a52f3a" stroke-width="1.1" stroke-linejoin="round"/>
<circle cx="91.3" cy="1002.36" r="1.5" fill="#a52f3a"/>
<circle cx="91.3" cy="1012.02" r="1.5" fill="#a52f3a"/>
<circle cx="91.3" cy="1065.58" r="1.5" fill="#a52f3a"/>
<circle cx="91.3" cy="1068.22" r="1.5" fill="#a52f3a"/>
<circle cx="91.3" cy="1072.26" r="1.5" fill="#a52f3a"/>
<line x1="85.8" y1="1076.82" x2="96.8" y2="1076.82" stroke="#111" stroke-width="0.9" stroke-dasharray="1.6 1.2"/>
<line x1="91.3" y1="1113" x2="91.3" y2="1119" stroke="#111" stroke-width="1.8"/>
<text x="90.6" y="1129.7" font-family="Liberation Sans" font-size="10.4" font-weight="bold" text-anchor="middle" fill="#000">&lt;40</text>
<text x="90.6" y="1141.8" font-family="Liberation Sans" font-size="10.4" font-weight="bold" text-anchor="middle" fill="#000">(n=40)</text>
<path d="M134.00,1082.44 C134.27,1082.27 134.77,1081.80 135.60,1081.39 C136.43,1080.98 137.68,1080.42 139.00,1079.98 C140.32,1079.54 141.92,1079.10 143.50,1078.75 C145.08,1078.40 148.42,1078.17 148.50,1077.88 C148.58,1077.58 145.50,1077.35 144.00,1077.00 C142.50,1076.65 140.57,1076.21 139.50,1075.77 C138.43,1075.33 138.05,1074.89 137.60,1074.36 C137.15,1073.84 137.02,1073.34 136.80,1072.61 C136.58,1071.87 136.43,1070.85 136.30,1069.97 C136.17,1069.09 136.05,1068.22 136.00,1067.34 C135.95,1066.46 136.17,1065.58 136.00,1064.70 C135.83,1063.83 135.25,1062.80 135.00,1062.07 C134.75,1061.34 134.58,1060.90 134.50,1060.31 C134.42,1059.73 134.50,1059.14 134.50,1058.56 C134.50,1057.97 134.50,1057.39 134.50,1056.80 C134.50,1056.21 134.50,1055.63 134.50,1055.04 C134.50,1054.46 134.50,1053.87 134.50,1053.29 C134.50,1052.70 134.50,1052.12 134.50,1051.53 C134.50,1050.95 134.50,1050.36 134.50,1049.78 C134.50,1049.19 134.50,1048.60 134.50,1048.02 C134.50,1047.43 134.50,1046.85 134.50,1046.26 C134.50,1045.68 134.50,1045.09 134.50,1044.51 C134.50,1043.92 134.50,1043.34 134.50,1042.75 C134.50,1042.16 134.50,1041.58 134.50,1040.99 C134.50,1040.41 134.50,1039.82 134.50,1039.24 C134.50,1038.65 134.50,1038.07 134.50,1037.48 C134.50,1036.90 134.50,1036.31 134.50,1035.72 C134.50,1035.14 134.50,1034.55 134.50,1033.97 C134.50,1033.38 134.50,1032.80 134.50,1032.21 C134.50,1031.63 134.50,1031.04 134.50,1030.46 C134.50,1029.87 134.50,1029.29 134.50,1028.70 C134.50,1028.11 134.50,1027.53 134.50,1026.94 C134.50,1026.36 134.50,1025.77 134.50,1025.19 C134.50,1024.60 134.50,1024.02 134.50,1023.43 C134.50,1022.85 134.50,1022.26 134.50,1021.67 C134.50,1021.09 134.50,1020.50 134.50,1019.92 C134.50,1019.33 134.50,1018.75 134.50,1018.16 C134.50,1017.58 134.50,1016.99 134.50,1016.41 C134.50,1015.82 134.50,1015.24 134.50,1014.65 C134.50,1014.06 134.50,1013.48 134.50,1012.89 C134.50,1012.31 134.50,1011.72 134.50,1011.14 C134.50,1010.55 134.50,1009.97 134.50,1009.38 C134.50,1008.80 134.50,1008.21 134.50,1007.62 C134.50,1007.04 134.50,1006.45 134.50,1005.87 C134.50,1005.28 134.50,1004.70 134.50,1004.11 C134.50,1003.53 134.50,1002.94 134.50,1002.36 C134.50,1001.77 134.50,1001.19 134.50,1000.60 C134.50,1000.01 134.50,999.43 134.50,998.84 C134.50,998.26 134.50,997.67 134.50,997.09 C134.50,996.50 134.58,995.80 134.50,995.33 C134.42,994.86 134.08,994.45 134.00,994.28 C133.92,994.10 134.08,994.10 134.00,994.28 C133.92,994.45 133.58,994.86 133.50,995.33 C133.42,995.80 133.50,996.50 133.50,997.09 C133.50,997.67 133.50,998.26 133.50,998.84 C133.50,999.43 133.50,1000.01 133.50,1000.60 C133.50,1001.19 133.50,1001.77 133.50,1002.36 C133.50,1002.94 133.50,1003.53 133.50,1004.11 C133.50,1004.70 133.50,1005.28 133.50,1005.87 C133.50,1006.45 133.50,1007.04 133.50,1007.62 C133.50,1008.21 133.50,1008.80 133.50,1009.38 C133.50,1009.97 133.50,1010.55 133.50,1011.14 C133.50,1011.72 133.50,1012.31 133.50,1012.89 C133.50,1013.48 133.50,1014.06 133.50,1014.65 C133.50,1015.24 133.50,1015.82 133.50,1016.41 C133.50,1016.99 133.50,1017.58 133.50,1018.16 C133.50,1018.75 133.50,1019.33 133.50,1019.92 C133.50,1020.50 133.50,1021.09 133.50,1021.67 C133.50,1022.26 133.50,1022.85 133.50,1023.43 C133.50,1024.02 133.50,1024.60 133.50,1025.19 C133.50,1025.77 133.50,1026.36 133.50,1026.94 C133.50,1027.53 133.50,1028.11 133.50,1028.70 C133.50,1029.29 133.50,1029.87 133.50,1030.46 C133.50,1031.04 133.50,1031.63 133.50,1032.21 C133.50,1032.80 133.50,1033.38 133.50,1033.97 C133.50,1034.55 133.50,1035.14 133.50,1035.72 C133.50,1036.31 133.50,1036.90 133.50,1037.48 C133.50,1038.07 133.50,1038.65 133.50,1039.24 C133.50,1039.82 133.50,1040.41 133.50,1040.99 C133.50,1041.58 133.50,1042.16 133.50,1042.75 C133.50,1043.34 133.50,1043.92 133.50,1044.51 C133.50,1045.09 133.50,1045.68 133.50,1046.26 C133.50,1046.85 133.50,1047.43 133.50,1048.02 C133.50,1048.60 133.50,1049.19 133.50,1049.78 C133.50,1050.36 133.50,1050.95 133.50,1051.53 C133.50,1052.12 133.50,1052.70 133.50,1053.29 C133.50,1053.87 133.50,1054.46 133.50,1055.04 C133.50,1055.63 133.50,1056.21 133.50,1056.80 C133.50,1057.39 133.50,1057.97 133.50,1058.56 C133.50,1059.14 133.58,1059.73 133.50,1060.31 C133.42,1060.90 133.25,1061.34 133.00,1062.07 C132.75,1062.80 132.17,1063.83 132.00,1064.70 C131.83,1065.58 132.05,1066.46 132.00,1067.34 C131.95,1068.22 131.83,1069.09 131.70,1069.97 C131.57,1070.85 131.42,1071.87 131.20,1072.61 C130.98,1073.34 130.85,1073.84 130.40,1074.36 C129.95,1074.89 129.57,1075.33 128.50,1075.77 C127.43,1076.21 125.50,1076.65 124.00,1077.00 C122.50,1077.35 119.42,1077.58 119.50,1077.88 C119.58,1078.17 122.92,1078.40 124.50,1078.75 C126.08,1079.10 127.68,1079.54 129.00,1079.98 C130.32,1080.42 131.57,1080.98 132.40,1081.39 C133.23,1081.80 133.73,1082.27 134.00,1082.44Z" fill="#3f7bb0" stroke="#2d6ba2" stroke-width="1.1" stroke-linejoin="round"/>
<circle cx="134" cy="1016.41" r="1.5" fill="#2d6ba2"/>
<circle cx="134" cy="1026.94" r="1.5" fill="#2d6ba2"/>
<circle cx="134" cy="1052.41" r="1.5" fill="#2d6ba2"/>
<circle cx="134" cy="1063.83" r="1.5" fill="#2d6ba2"/>
<circle cx="134" cy="1067.34" r="1.5" fill="#2d6ba2"/>
<circle cx="134" cy="1070.85" r="1.5" fill="#2d6ba2"/>
<line x1="128.5" y1="1076.47" x2="139.5" y2="1076.47" stroke="#111" stroke-width="0.9" stroke-dasharray="1.6 1.2"/>
<line x1="134" y1="1113" x2="134" y2="1119" stroke="#111" stroke-width="1.8"/>
<text x="133.5" y="1129.7" font-family="Liberation Sans" font-size="10.4" font-weight="bold" text-anchor="middle" fill="#000">≥40</text>
<text x="133.8" y="1141.8" font-family="Liberation Sans" font-size="10.4" font-weight="bold" text-anchor="middle" fill="#000">(n=82)</text>
<rect x="62.5" y="972.5" width="100.5" height="140.5" fill="none" stroke="#111" stroke-width="2"/>
<line x1="56" y1="972.5" x2="62.5" y2="972.5" stroke="#111" stroke-width="1.8"/>
<text x="53.7" y="975.9" font-family="Liberation Sans" font-size="9.9" font-weight="bold" text-anchor="end" fill="#000">60</text>
<line x1="56" y1="1007.62" x2="62.5" y2="1007.62" stroke="#111" stroke-width="1.8"/>
<text x="53.7" y="1011.02" font-family="Liberation Sans" font-size="9.9" font-weight="bold" text-anchor="end" fill="#000">40</text>
<line x1="56" y1="1042.75" x2="62.5" y2="1042.75" stroke="#111" stroke-width="1.8"/>
<text x="53.7" y="1046.15" font-family="Liberation Sans" font-size="9.9" font-weight="bold" text-anchor="end" fill="#000">20</text>
<line x1="56" y1="1077.88" x2="62.5" y2="1077.88" stroke="#111" stroke-width="1.8"/>
<text x="53.7" y="1081.28" font-family="Liberation Sans" font-size="9.9" font-weight="bold" text-anchor="end" fill="#000">0</text>
<line x1="56" y1="1113" x2="62.5" y2="1113" stroke="#111" stroke-width="1.8"/>
<text x="53.7" y="1116.4" font-family="Liberation Sans" font-size="9.9" font-weight="bold" text-anchor="end" fill="#000">-20</text>
<text x="268.5" y="964.9" font-family="Liberation Sans" font-size="9.6" font-weight="bold" text-anchor="middle" fill="#000">cT</text>
<text x="247.8" y="988" font-family="Liberation Sans" font-size="10.4" fill="#222" textLength="56" lengthAdjust="spacingAndGlyphs"><tspan font-style="italic">p</tspan> = 2.20E-07</text>
<line x1="218.8" y1="1079" x2="316" y2="1079" stroke="#111" stroke-width="2" stroke-dasharray="2 2.9"/>
<path d="M245.30,1081.79 C245.72,1081.65 246.63,1081.24 247.80,1080.92 C248.97,1080.60 250.38,1080.19 252.30,1079.87 C254.22,1079.55 259.13,1079.26 259.30,1079.00 C259.47,1078.74 254.97,1078.59 253.30,1078.30 C251.63,1078.01 250.22,1077.72 249.30,1077.26 C248.38,1076.79 248.13,1076.24 247.80,1075.51 C247.47,1074.78 247.43,1073.76 247.30,1072.89 C247.17,1072.02 247.07,1071.00 247.00,1070.28 C246.93,1069.55 246.93,1069.11 246.90,1068.53 C246.87,1067.95 246.92,1067.51 246.80,1066.79 C246.68,1066.06 246.37,1064.89 246.20,1064.17 C246.03,1063.44 245.87,1063.01 245.80,1062.42 C245.73,1061.83 245.80,1061.23 245.80,1060.63 C245.80,1060.03 245.80,1059.43 245.80,1058.84 C245.80,1058.24 245.80,1057.64 245.80,1057.04 C245.80,1056.45 245.80,1055.85 245.80,1055.25 C245.80,1054.65 245.80,1054.06 245.80,1053.46 C245.80,1052.86 245.80,1052.26 245.80,1051.67 C245.80,1051.07 245.80,1050.47 245.80,1049.87 C245.80,1049.28 245.80,1048.68 245.80,1048.08 C245.80,1047.48 245.80,1046.89 245.80,1046.29 C245.80,1045.69 245.80,1045.09 245.80,1044.50 C245.80,1043.90 245.80,1043.30 245.80,1042.70 C245.80,1042.11 245.80,1041.51 245.80,1040.91 C245.80,1040.31 245.80,1039.72 245.80,1039.12 C245.80,1038.52 245.80,1037.92 245.80,1037.33 C245.80,1036.73 245.80,1036.13 245.80,1035.53 C245.80,1034.94 245.80,1034.34 245.80,1033.74 C245.80,1033.14 245.80,1032.55 245.80,1031.95 C245.80,1031.35 245.80,1030.75 245.80,1030.16 C245.80,1029.56 245.80,1028.96 245.80,1028.36 C245.80,1027.77 245.80,1027.17 245.80,1026.57 C245.80,1025.97 245.80,1025.38 245.80,1024.78 C245.80,1024.18 245.80,1023.58 245.80,1022.99 C245.80,1022.39 245.80,1021.79 245.80,1021.19 C245.80,1020.60 245.80,1020.00 245.80,1019.40 C245.80,1018.80 245.80,1018.21 245.80,1017.61 C245.80,1017.01 245.80,1016.41 245.80,1015.82 C245.80,1015.22 245.80,1014.62 245.80,1014.02 C245.80,1013.43 245.80,1012.83 245.80,1012.23 C245.80,1011.63 245.80,1011.03 245.80,1010.44 C245.80,1009.84 245.80,1009.24 245.80,1008.64 C245.80,1008.05 245.80,1007.45 245.80,1006.85 C245.80,1006.25 245.80,1005.66 245.80,1005.06 C245.80,1004.46 245.88,1003.80 245.80,1003.27 C245.72,1002.74 245.38,1002.10 245.30,1001.87 C245.22,1001.64 245.38,1001.64 245.30,1001.87 C245.22,1002.10 244.88,1002.74 244.80,1003.27 C244.72,1003.80 244.80,1004.46 244.80,1005.06 C244.80,1005.66 244.80,1006.25 244.80,1006.85 C244.80,1007.45 244.80,1008.05 244.80,1008.64 C244.80,1009.24 244.80,1009.84 244.80,1010.44 C244.80,1011.03 244.80,1011.63 244.80,1012.23 C244.80,1012.83 244.80,1013.43 244.80,1014.02 C244.80,1014.62 244.80,1015.22 244.80,1015.82 C244.80,1016.41 244.80,1017.01 244.80,1017.61 C244.80,1018.21 244.80,1018.80 244.80,1019.40 C244.80,1020.00 244.80,1020.60 244.80,1021.19 C244.80,1021.79 244.80,1022.39 244.80,1022.99 C244.80,1023.58 244.80,1024.18 244.80,1024.78 C244.80,1025.38 244.80,1025.97 244.80,1026.57 C244.80,1027.17 244.80,1027.77 244.80,1028.36 C244.80,1028.96 244.80,1029.56 244.80,1030.16 C244.80,1030.75 244.80,1031.35 244.80,1031.95 C244.80,1032.55 244.80,1033.14 244.80,1033.74 C244.80,1034.34 244.80,1034.94 244.80,1035.53 C244.80,1036.13 244.80,1036.73 244.80,1037.33 C244.80,1037.92 244.80,1038.52 244.80,1039.12 C244.80,1039.72 244.80,1040.31 244.80,1040.91 C244.80,1041.51 244.80,1042.11 244.80,1042.70 C244.80,1043.30 244.80,1043.90 244.80,1044.50 C244.80,1045.09 244.80,1045.69 244.80,1046.29 C244.80,1046.89 244.80,1047.48 244.80,1048.08 C244.80,1048.68 244.80,1049.28 244.80,1049.87 C244.80,1050.47 244.80,1051.07 244.80,1051.67 C244.80,1052.26 244.80,1052.86 244.80,1053.46 C244.80,1054.06 244.80,1054.65 244.80,1055.25 C244.80,1055.85 244.80,1056.45 244.80,1057.04 C244.80,1057.64 244.80,1058.24 244.80,1058.84 C244.80,1059.43 244.80,1060.03 244.80,1060.63 C244.80,1061.23 244.87,1061.83 244.80,1062.42 C244.73,1063.01 244.57,1063.44 244.40,1064.17 C244.23,1064.89 243.92,1066.06 243.80,1066.79 C243.68,1067.51 243.73,1067.95 243.70,1068.53 C243.67,1069.11 243.67,1069.55 243.60,1070.28 C243.53,1071.00 243.43,1072.02 243.30,1072.89 C243.17,1073.76 243.13,1074.78 242.80,1075.51 C242.47,1076.24 242.22,1076.79 241.30,1077.26 C240.38,1077.72 238.97,1078.01 237.30,1078.30 C235.63,1078.59 231.13,1078.74 231.30,1079.00 C231.47,1079.26 236.38,1079.55 238.30,1079.87 C240.22,1080.19 241.63,1080.60 242.80,1080.92 C243.97,1081.24 244.88,1081.65 245.30,1081.79Z" fill="#b5434e" stroke="#a52f3a" stroke-width="1.1" stroke-linejoin="round"/>
<circle cx="245.3" cy="1033.63" r="1.5" fill="#a52f3a"/>
<circle cx="245.3" cy="1047.59" r="1.5" fill="#a52f3a"/>
<circle cx="245.3" cy="1065.04" r="1.5" fill="#a52f3a"/>
<circle cx="245.3" cy="1070.28" r="1.5" fill="#a52f3a"/>
<line x1="239.8" y1="1078.13" x2="250.8" y2="1078.13" stroke="#111" stroke-width="0.9" stroke-dasharray="1.6 1.2"/>
<line x1="245.3" y1="1113.9" x2="245.3" y2="1119.9" stroke="#111" stroke-width="1.8"/>
<text x="244.8" y="1131.2" font-family="Liberation Sans" font-size="10.4" font-weight="bold" text-anchor="middle" fill="#000">1/2</text>
<text x="245" y="1142.6" font-family="Liberation Sans" font-size="10.4" font-weight="bold" text-anchor="middle" fill="#000">(n=98)</text>
<path d="M288.20,1105.70 C288.25,1105.38 288.40,1104.42 288.50,1103.78 C288.60,1103.14 288.70,1102.50 288.80,1101.86 C288.90,1101.22 289.01,1100.55 289.10,1099.94 C289.19,1099.33 289.28,1098.78 289.37,1098.19 C289.46,1097.61 289.54,1097.03 289.63,1096.45 C289.72,1095.87 289.74,1095.43 289.90,1094.70 C290.06,1093.98 290.30,1092.89 290.60,1092.09 C290.90,1091.29 291.33,1090.63 291.70,1089.91 C292.07,1089.18 292.35,1088.45 292.80,1087.72 C293.25,1087.00 293.87,1086.27 294.40,1085.54 C294.93,1084.82 295.43,1084.09 296.00,1083.36 C296.57,1082.64 297.23,1081.91 297.85,1081.18 C298.47,1080.45 299.25,1079.67 299.70,1079.00 C300.15,1078.33 300.28,1077.76 300.57,1077.14 C300.86,1076.52 301.14,1075.90 301.43,1075.28 C301.72,1074.66 302.23,1074.13 302.30,1073.42 C302.37,1072.70 302.00,1071.79 301.85,1070.97 C301.70,1070.16 301.59,1069.30 301.40,1068.53 C301.21,1067.76 300.93,1067.08 300.70,1066.35 C300.47,1065.62 300.27,1064.89 300.00,1064.17 C299.73,1063.44 299.37,1062.71 299.05,1061.99 C298.73,1061.26 298.40,1060.46 298.10,1059.81 C297.80,1059.15 297.53,1058.64 297.25,1058.06 C296.97,1057.48 296.68,1056.90 296.40,1056.32 C296.12,1055.73 295.83,1055.15 295.55,1054.57 C295.27,1053.99 294.98,1053.49 294.70,1052.83 C294.42,1052.16 294.14,1051.31 293.87,1050.56 C293.59,1049.80 293.31,1049.04 293.03,1048.29 C292.76,1047.53 292.39,1046.70 292.20,1046.02 C292.01,1045.34 292.00,1044.83 291.90,1044.23 C291.80,1043.63 291.70,1043.04 291.60,1042.44 C291.50,1041.85 291.40,1041.25 291.30,1040.65 C291.20,1040.06 291.08,1039.45 291.00,1038.87 C290.92,1038.28 290.87,1037.70 290.80,1037.12 C290.73,1036.54 290.67,1035.96 290.60,1035.38 C290.53,1034.79 290.47,1034.21 290.40,1033.63 C290.33,1033.05 290.26,1032.54 290.20,1031.88 C290.14,1031.23 290.10,1030.43 290.05,1029.70 C290.00,1028.98 289.82,1028.25 289.90,1027.52 C289.98,1026.80 290.33,1026.07 290.55,1025.34 C290.77,1024.61 290.91,1023.89 291.20,1023.16 C291.49,1022.43 291.93,1021.71 292.30,1020.98 C292.67,1020.25 293.13,1019.52 293.40,1018.80 C293.67,1018.07 293.73,1017.34 293.90,1016.62 C294.07,1015.89 294.35,1015.09 294.40,1014.43 C294.45,1013.78 294.27,1013.27 294.20,1012.69 C294.13,1012.11 294.07,1011.53 294.00,1010.94 C293.93,1010.36 293.91,1009.85 293.80,1009.20 C293.69,1008.55 293.51,1007.77 293.37,1007.05 C293.22,1006.33 293.08,1005.61 292.93,1004.90 C292.79,1004.18 292.66,1003.42 292.50,1002.74 C292.34,1002.06 292.17,1001.46 292.00,1000.82 C291.83,1000.18 291.67,999.54 291.50,998.90 C291.33,998.26 291.15,997.68 291.00,996.98 C290.85,996.29 290.72,995.47 290.58,994.72 C290.44,993.96 290.31,993.20 290.17,992.45 C290.03,991.69 289.86,990.86 289.75,990.18 C289.64,989.50 289.61,988.98 289.53,988.38 C289.46,987.78 289.39,987.17 289.32,986.57 C289.24,985.97 289.19,985.38 289.10,984.77 C289.01,984.16 288.90,983.53 288.80,982.91 C288.70,982.29 288.60,981.67 288.50,981.05 C288.40,980.43 288.25,979.50 288.20,979.19 C288.15,978.88 288.25,978.88 288.20,979.19 C288.15,979.50 288.00,980.43 287.90,981.05 C287.80,981.67 287.70,982.29 287.60,982.91 C287.50,983.53 287.39,984.16 287.30,984.77 C287.21,985.38 287.16,985.97 287.08,986.57 C287.01,987.17 286.94,987.78 286.87,988.38 C286.79,988.98 286.76,989.50 286.65,990.18 C286.54,990.86 286.37,991.69 286.23,992.45 C286.09,993.20 285.96,993.96 285.82,994.72 C285.68,995.47 285.55,996.29 285.40,996.98 C285.25,997.68 285.07,998.26 284.90,998.90 C284.73,999.54 284.57,1000.18 284.40,1000.82 C284.23,1001.46 284.06,1002.06 283.90,1002.74 C283.74,1003.42 283.61,1004.18 283.47,1004.90 C283.32,1005.61 283.18,1006.33 283.03,1007.05 C282.89,1007.77 282.71,1008.55 282.60,1009.20 C282.49,1009.85 282.47,1010.36 282.40,1010.94 C282.33,1011.53 282.27,1012.11 282.20,1012.69 C282.13,1013.27 281.95,1013.78 282.00,1014.43 C282.05,1015.09 282.33,1015.89 282.50,1016.62 C282.67,1017.34 282.73,1018.07 283.00,1018.80 C283.27,1019.52 283.73,1020.25 284.10,1020.98 C284.47,1021.71 284.91,1022.43 285.20,1023.16 C285.49,1023.89 285.63,1024.61 285.85,1025.34 C286.07,1026.07 286.42,1026.80 286.50,1027.52 C286.58,1028.25 286.40,1028.98 286.35,1029.70 C286.30,1030.43 286.26,1031.23 286.20,1031.88 C286.14,1032.54 286.07,1033.05 286.00,1033.63 C285.93,1034.21 285.87,1034.79 285.80,1035.38 C285.73,1035.96 285.67,1036.54 285.60,1037.12 C285.53,1037.70 285.48,1038.28 285.40,1038.87 C285.32,1039.45 285.20,1040.06 285.10,1040.65 C285.00,1041.25 284.90,1041.85 284.80,1042.44 C284.70,1043.04 284.60,1043.63 284.50,1044.23 C284.40,1044.83 284.39,1045.34 284.20,1046.02 C284.01,1046.70 283.64,1047.53 283.37,1048.29 C283.09,1049.04 282.81,1049.80 282.53,1050.56 C282.26,1051.31 281.98,1052.16 281.70,1052.83 C281.42,1053.49 281.13,1053.99 280.85,1054.57 C280.57,1055.15 280.28,1055.73 280.00,1056.32 C279.72,1056.90 279.43,1057.48 279.15,1058.06 C278.87,1058.64 278.60,1059.15 278.30,1059.81 C278.00,1060.46 277.67,1061.26 277.35,1061.99 C277.03,1062.71 276.67,1063.44 276.40,1064.17 C276.12,1064.89 275.93,1065.62 275.70,1066.35 C275.47,1067.08 275.19,1067.76 275.00,1068.53 C274.81,1069.30 274.70,1070.16 274.55,1070.97 C274.40,1071.79 274.03,1072.70 274.10,1073.42 C274.17,1074.13 274.68,1074.66 274.97,1075.28 C275.26,1075.90 275.54,1076.52 275.83,1077.14 C276.12,1077.76 276.25,1078.33 276.70,1079.00 C277.15,1079.67 277.93,1080.45 278.55,1081.18 C279.17,1081.91 279.82,1082.64 280.40,1083.36 C280.97,1084.09 281.47,1084.82 282.00,1085.54 C282.53,1086.27 283.15,1087.00 283.60,1087.72 C284.05,1088.45 284.33,1089.18 284.70,1089.91 C285.07,1090.63 285.50,1091.29 285.80,1092.09 C286.10,1092.89 286.34,1093.98 286.50,1094.70 C286.66,1095.43 286.68,1095.87 286.77,1096.45 C286.86,1097.03 286.94,1097.61 287.03,1098.19 C287.12,1098.78 287.21,1099.33 287.30,1099.94 C287.39,1100.55 287.50,1101.22 287.60,1101.86 C287.70,1102.50 287.80,1103.14 287.90,1103.78 C288.00,1104.42 288.15,1105.38 288.20,1105.70Z" fill="#6597c2" stroke="#2d6ba2" stroke-width="1.9" stroke-linejoin="round"/>
<line x1="278.7" y1="1066.44" x2="297.7" y2="1066.44" stroke="#111" stroke-width="1.4" stroke-dasharray="2.6 1.4"/>
<line x1="277.2" y1="1075.16" x2="299.2" y2="1075.16" stroke="#2b69a0" stroke-width="0.7" stroke-dasharray="1 1"/>
<line x1="288.2" y1="1113.9" x2="288.2" y2="1119.9" stroke="#111" stroke-width="1.8"/>
<text x="288.2" y="1131.2" font-family="Liberation Sans" font-size="10.4" font-weight="bold" text-anchor="middle" fill="#000">3/4</text>
<text x="288.8" y="1142.6" font-family="Liberation Sans" font-size="10.4" font-weight="bold" text-anchor="middle" fill="#000">(n=24)</text>
<rect x="216.8" y="974.3" width="100.2" height="139.6" fill="none" stroke="#111" stroke-width="2"/>
<line x1="210.3" y1="974.3" x2="216.8" y2="974.3" stroke="#111" stroke-width="1.8"/>
<text x="208" y="977.7" font-family="Liberation Sans" font-size="9.9" font-weight="bold" text-anchor="end" fill="#000">60</text>
<line x1="210.3" y1="1009.2" x2="216.8" y2="1009.2" stroke="#111" stroke-width="1.8"/>
<text x="208" y="1012.6" font-family="Liberation Sans" font-size="9.9" font-weight="bold" text-anchor="end" fill="#000">40</text>
<line x1="210.3" y1="1044.1" x2="216.8" y2="1044.1" stroke="#111" stroke-width="1.8"/>
<text x="208" y="1047.5" font-family="Liberation Sans" font-size="9.9" font-weight="bold" text-anchor="end" fill="#000">20</text>
<line x1="210.3" y1="1079" x2="216.8" y2="1079" stroke="#111" stroke-width="1.8"/>
<text x="208" y="1082.4" font-family="Liberation Sans" font-size="9.9" font-weight="bold" text-anchor="end" fill="#000">0</text>
<line x1="210.3" y1="1113.9" x2="216.8" y2="1113.9" stroke="#111" stroke-width="1.8"/>
<text x="208" y="1117.3" font-family="Liberation Sans" font-size="9.9" font-weight="bold" text-anchor="end" fill="#000">-20</text>
<text x="421.3" y="965.5" font-family="Liberation Sans" font-size="9.6" font-weight="bold" text-anchor="middle" fill="#000">cN</text>
<text x="404.4" y="989.2" font-family="Liberation Sans" font-size="10.4" fill="#222" textLength="45.4" lengthAdjust="spacingAndGlyphs"><tspan font-style="italic">p</tspan> = 0.0008</text>
<line x1="377.1" y1="1078.47" x2="473" y2="1078.47" stroke="#111" stroke-width="2" stroke-dasharray="2 2.9"/>
<path d="M403.10,1081.24 C403.52,1081.06 404.43,1080.55 405.60,1080.20 C406.77,1079.86 408.20,1079.45 410.10,1079.17 C412.00,1078.88 416.83,1078.71 417.00,1078.47 C417.17,1078.24 412.75,1078.07 411.10,1077.78 C409.45,1077.50 408.00,1077.21 407.10,1076.75 C406.20,1076.29 406.00,1075.60 405.70,1075.02 C405.40,1074.45 405.40,1074.02 405.30,1073.30 C405.20,1072.58 405.18,1071.57 405.10,1070.71 C405.02,1069.84 404.83,1068.84 404.80,1068.12 C404.77,1067.40 405.05,1067.11 404.90,1066.39 C404.75,1065.67 404.12,1064.52 403.90,1063.80 C403.68,1063.08 403.65,1062.65 403.60,1062.08 C403.55,1061.50 403.60,1060.92 403.60,1060.35 C403.60,1059.77 403.60,1059.20 403.60,1058.62 C403.60,1058.05 403.60,1057.47 403.60,1056.90 C403.60,1056.32 403.60,1055.75 403.60,1055.17 C403.60,1054.60 403.60,1054.02 403.60,1053.44 C403.60,1052.87 403.60,1052.29 403.60,1051.72 C403.60,1051.14 403.60,1050.57 403.60,1049.99 C403.60,1049.42 403.60,1048.84 403.60,1048.27 C403.60,1047.69 403.60,1047.11 403.60,1046.54 C403.60,1045.96 403.60,1045.39 403.60,1044.81 C403.60,1044.24 403.60,1043.66 403.60,1043.09 C403.60,1042.51 403.60,1041.94 403.60,1041.36 C403.60,1040.79 403.60,1040.21 403.60,1039.63 C403.60,1039.06 403.60,1038.48 403.60,1037.91 C403.60,1037.33 403.60,1036.76 403.60,1036.18 C403.60,1035.61 403.60,1035.03 403.60,1034.46 C403.60,1033.88 403.60,1033.30 403.60,1032.73 C403.60,1032.15 403.60,1031.58 403.60,1031.00 C403.60,1030.43 403.60,1029.85 403.60,1029.28 C403.60,1028.70 403.60,1028.13 403.60,1027.55 C403.60,1026.98 403.60,1026.40 403.60,1025.82 C403.60,1025.25 403.60,1024.67 403.60,1024.10 C403.60,1023.52 403.60,1022.95 403.60,1022.37 C403.60,1021.80 403.60,1021.22 403.60,1020.65 C403.60,1020.07 403.60,1019.49 403.60,1018.92 C403.60,1018.34 403.60,1017.77 403.60,1017.19 C403.60,1016.62 403.60,1016.04 403.60,1015.47 C403.60,1014.89 403.52,1014.23 403.60,1013.74 C403.68,1013.25 404.18,1012.91 404.10,1012.53 C404.02,1012.16 403.27,1011.67 403.10,1011.50 C402.93,1011.32 403.27,1011.32 403.10,1011.50 C402.93,1011.67 402.18,1012.16 402.10,1012.53 C402.02,1012.91 402.52,1013.25 402.60,1013.74 C402.68,1014.23 402.60,1014.89 402.60,1015.47 C402.60,1016.04 402.60,1016.62 402.60,1017.19 C402.60,1017.77 402.60,1018.34 402.60,1018.92 C402.60,1019.49 402.60,1020.07 402.60,1020.65 C402.60,1021.22 402.60,1021.80 402.60,1022.37 C402.60,1022.95 402.60,1023.52 402.60,1024.10 C402.60,1024.67 402.60,1025.25 402.60,1025.82 C402.60,1026.40 402.60,1026.98 402.60,1027.55 C402.60,1028.13 402.60,1028.70 402.60,1029.28 C402.60,1029.85 402.60,1030.43 402.60,1031.00 C402.60,1031.58 402.60,1032.15 402.60,1032.73 C402.60,1033.30 402.60,1033.88 402.60,1034.46 C402.60,1035.03 402.60,1035.61 402.60,1036.18 C402.60,1036.76 402.60,1037.33 402.60,1037.91 C402.60,1038.48 402.60,1039.06 402.60,1039.63 C402.60,1040.21 402.60,1040.79 402.60,1041.36 C402.60,1041.94 402.60,1042.51 402.60,1043.09 C402.60,1043.66 402.60,1044.24 402.60,1044.81 C402.60,1045.39 402.60,1045.96 402.60,1046.54 C402.60,1047.11 402.60,1047.69 402.60,1048.27 C402.60,1048.84 402.60,1049.42 402.60,1049.99 C402.60,1050.57 402.60,1051.14 402.60,1051.72 C402.60,1052.29 402.60,1052.87 402.60,1053.44 C402.60,1054.02 402.60,1054.60 402.60,1055.17 C402.60,1055.75 402.60,1056.32 402.60,1056.90 C402.60,1057.47 402.60,1058.05 402.60,1058.62 C402.60,1059.20 402.60,1059.77 402.60,1060.35 C402.60,1060.92 402.65,1061.50 402.60,1062.08 C402.55,1062.65 402.52,1063.08 402.30,1063.80 C402.08,1064.52 401.45,1065.67 401.30,1066.39 C401.15,1067.11 401.43,1067.40 401.40,1068.12 C401.37,1068.84 401.18,1069.84 401.10,1070.71 C401.02,1071.57 401.00,1072.58 400.90,1073.30 C400.80,1074.02 400.80,1074.45 400.50,1075.02 C400.20,1075.60 400.00,1076.29 399.10,1076.75 C398.20,1077.21 396.75,1077.50 395.10,1077.78 C393.45,1078.07 389.03,1078.24 389.20,1078.47 C389.37,1078.71 394.20,1078.88 396.10,1079.17 C398.00,1079.45 399.43,1079.86 400.60,1080.20 C401.77,1080.55 402.68,1081.06 403.10,1081.24Z" fill="#b5434e" stroke="#a52f3a" stroke-width="1.1" stroke-linejoin="round"/>
<circle cx="403.1" cy="1019.78" r="1.5" fill="#a52f3a"/>
<circle cx="403.1" cy="1066.39" r="1.5" fill="#a52f3a"/>
<circle cx="403.1" cy="1071.57" r="1.5" fill="#a52f3a"/>
<line x1="397.6" y1="1077.96" x2="408.6" y2="1077.96" stroke="#111" stroke-width="0.9" stroke-dasharray="1.6 1.2"/>
<line x1="403.1" y1="1113" x2="403.1" y2="1119" stroke="#111" stroke-width="1.8"/>
<text x="400.2" y="1131.9" font-family="Liberation Sans" font-size="10.4" font-weight="bold" text-anchor="middle" fill="#000">negative</text>
<text x="403.3" y="1143.4" font-family="Liberation Sans" font-size="10.4" font-weight="bold" text-anchor="middle" fill="#000">(n=51)</text>
<path d="M445.60,1086.42 C445.85,1086.19 446.43,1085.55 447.10,1085.03 C447.77,1084.52 448.60,1083.94 449.60,1083.31 C450.60,1082.68 451.85,1081.90 453.10,1081.24 C454.35,1080.58 455.87,1079.94 457.10,1079.34 C458.33,1078.73 460.50,1078.13 460.50,1077.61 C460.50,1077.09 458.33,1076.72 457.10,1076.23 C455.87,1075.74 454.15,1075.22 453.10,1074.68 C452.05,1074.13 451.35,1073.61 450.80,1072.95 C450.25,1072.29 450.07,1071.51 449.80,1070.71 C449.53,1069.90 449.40,1068.98 449.20,1068.12 C449.00,1067.25 448.87,1066.39 448.60,1065.53 C448.33,1064.66 447.87,1063.80 447.60,1062.94 C447.33,1062.08 447.20,1061.21 447.00,1060.35 C446.80,1059.49 446.52,1058.48 446.40,1057.76 C446.28,1057.04 446.32,1056.61 446.28,1056.03 C446.23,1055.46 446.17,1054.88 446.15,1054.31 C446.13,1053.73 446.15,1053.16 446.15,1052.58 C446.15,1052.01 446.15,1051.43 446.15,1050.86 C446.15,1050.28 446.15,1049.70 446.15,1049.13 C446.14,1048.55 446.14,1047.98 446.14,1047.40 C446.14,1046.83 446.14,1046.25 446.14,1045.68 C446.14,1045.10 446.14,1044.53 446.14,1043.95 C446.14,1043.37 446.14,1042.80 446.14,1042.22 C446.14,1041.65 446.14,1041.07 446.14,1040.50 C446.14,1039.92 446.14,1039.35 446.14,1038.77 C446.14,1038.20 446.14,1037.62 446.13,1037.04 C446.13,1036.47 446.13,1035.89 446.13,1035.32 C446.13,1034.74 446.13,1034.17 446.13,1033.59 C446.13,1033.02 446.13,1032.44 446.13,1031.87 C446.13,1031.29 446.13,1030.72 446.13,1030.14 C446.13,1029.56 446.13,1028.99 446.13,1028.41 C446.13,1027.84 446.13,1027.26 446.13,1026.69 C446.13,1026.11 446.12,1025.54 446.12,1024.96 C446.12,1024.39 446.12,1023.81 446.12,1023.23 C446.12,1022.66 446.12,1022.08 446.12,1021.51 C446.12,1020.93 446.12,1020.36 446.12,1019.78 C446.12,1019.21 446.12,1018.63 446.12,1018.06 C446.12,1017.48 446.12,1016.91 446.12,1016.33 C446.12,1015.75 446.12,1015.18 446.12,1014.60 C446.11,1014.03 446.11,1013.45 446.11,1012.88 C446.11,1012.30 446.11,1011.73 446.11,1011.15 C446.11,1010.58 446.11,1010.00 446.11,1009.42 C446.11,1008.85 446.11,1008.27 446.11,1007.70 C446.11,1007.12 446.11,1006.55 446.11,1005.97 C446.11,1005.40 446.11,1004.82 446.11,1004.25 C446.11,1003.67 446.11,1003.10 446.10,1002.52 C446.10,1001.94 446.10,1001.37 446.10,1000.79 C446.10,1000.22 446.10,999.64 446.10,999.07 C446.10,998.49 446.18,997.86 446.10,997.34 C446.02,996.82 445.68,996.19 445.60,995.96 C445.52,995.73 445.68,995.73 445.60,995.96 C445.52,996.19 445.18,996.82 445.10,997.34 C445.02,997.86 445.10,998.49 445.10,999.07 C445.10,999.64 445.10,1000.22 445.10,1000.79 C445.10,1001.37 445.10,1001.94 445.10,1002.52 C445.09,1003.10 445.09,1003.67 445.09,1004.25 C445.09,1004.82 445.09,1005.40 445.09,1005.97 C445.09,1006.55 445.09,1007.12 445.09,1007.70 C445.09,1008.27 445.09,1008.85 445.09,1009.42 C445.09,1010.00 445.09,1010.58 445.09,1011.15 C445.09,1011.73 445.09,1012.30 445.09,1012.88 C445.09,1013.45 445.09,1014.03 445.08,1014.60 C445.08,1015.18 445.08,1015.75 445.08,1016.33 C445.08,1016.91 445.08,1017.48 445.08,1018.06 C445.08,1018.63 445.08,1019.21 445.08,1019.78 C445.08,1020.36 445.08,1020.93 445.08,1021.51 C445.08,1022.08 445.08,1022.66 445.08,1023.23 C445.08,1023.81 445.08,1024.39 445.08,1024.96 C445.08,1025.54 445.07,1026.11 445.07,1026.69 C445.07,1027.26 445.07,1027.84 445.07,1028.41 C445.07,1028.99 445.07,1029.56 445.07,1030.14 C445.07,1030.72 445.07,1031.29 445.07,1031.87 C445.07,1032.44 445.07,1033.02 445.07,1033.59 C445.07,1034.17 445.07,1034.74 445.07,1035.32 C445.07,1035.89 445.07,1036.47 445.07,1037.04 C445.06,1037.62 445.06,1038.20 445.06,1038.77 C445.06,1039.35 445.06,1039.92 445.06,1040.50 C445.06,1041.07 445.06,1041.65 445.06,1042.22 C445.06,1042.80 445.06,1043.37 445.06,1043.95 C445.06,1044.53 445.06,1045.10 445.06,1045.68 C445.06,1046.25 445.06,1046.83 445.06,1047.40 C445.06,1047.98 445.06,1048.55 445.05,1049.13 C445.05,1049.70 445.05,1050.28 445.05,1050.86 C445.05,1051.43 445.05,1052.01 445.05,1052.58 C445.05,1053.16 445.07,1053.73 445.05,1054.31 C445.03,1054.88 444.97,1055.46 444.93,1056.03 C444.88,1056.61 444.92,1057.04 444.80,1057.76 C444.68,1058.48 444.40,1059.49 444.20,1060.35 C444.00,1061.21 443.87,1062.08 443.60,1062.94 C443.33,1063.80 442.87,1064.66 442.60,1065.53 C442.33,1066.39 442.20,1067.25 442.00,1068.12 C441.80,1068.98 441.67,1069.90 441.40,1070.71 C441.13,1071.51 440.95,1072.29 440.40,1072.95 C439.85,1073.61 439.15,1074.13 438.10,1074.68 C437.05,1075.22 435.33,1075.74 434.10,1076.23 C432.87,1076.72 430.70,1077.09 430.70,1077.61 C430.70,1078.13 432.87,1078.73 434.10,1079.34 C435.33,1079.94 436.85,1080.58 438.10,1081.24 C439.35,1081.90 440.60,1082.68 441.60,1083.31 C442.60,1083.94 443.43,1084.52 444.10,1085.03 C444.77,1085.55 445.35,1086.19 445.60,1086.42Z" fill="#3f7bb0" stroke="#2d6ba2" stroke-width="1.1" stroke-linejoin="round"/>
<circle cx="445.6" cy="1002.52" r="1.5" fill="#2d6ba2"/>
<circle cx="445.6" cy="1016.33" r="1.5" fill="#2d6ba2"/>
<circle cx="445.6" cy="1028.41" r="1.5" fill="#2d6ba2"/>
<circle cx="445.6" cy="1056.03" r="1.5" fill="#2d6ba2"/>
<line x1="440.1" y1="1075.89" x2="451.1" y2="1075.89" stroke="#111" stroke-width="0.9" stroke-dasharray="1.6 1.2"/>
<line x1="445.6" y1="1113" x2="445.6" y2="1119" stroke="#111" stroke-width="1.8"/>
<text x="449" y="1131.9" font-family="Liberation Sans" font-size="10.4" font-weight="bold" text-anchor="middle" fill="#000">positive</text>
<text x="448.8" y="1143.4" font-family="Liberation Sans" font-size="10.4" font-weight="bold" text-anchor="middle" fill="#000">(n=71)</text>
<rect x="375.1" y="974.9" width="98.9" height="138.1" fill="none" stroke="#111" stroke-width="2"/>
<line x1="368.6" y1="974.9" x2="375.1" y2="974.9" stroke="#111" stroke-width="1.8"/>
<text x="366.3" y="978.3" font-family="Liberation Sans" font-size="9.9" font-weight="bold" text-anchor="end" fill="#000">60</text>
<line x1="368.6" y1="1009.42" x2="375.1" y2="1009.42" stroke="#111" stroke-width="1.8"/>
<text x="366.3" y="1012.82" font-family="Liberation Sans" font-size="9.9" font-weight="bold" text-anchor="end" fill="#000">40</text>
<line x1="368.6" y1="1043.95" x2="375.1" y2="1043.95" stroke="#111" stroke-width="1.8"/>
<text x="366.3" y="1047.35" font-family="Liberation Sans" font-size="9.9" font-weight="bold" text-anchor="end" fill="#000">20</text>
<line x1="368.6" y1="1078.47" x2="375.1" y2="1078.47" stroke="#111" stroke-width="1.8"/>
<text x="366.3" y="1081.88" font-family="Liberation Sans" font-size="9.9" font-weight="bold" text-anchor="end" fill="#000">0</text>
<line x1="368.6" y1="1113" x2="375.1" y2="1113" stroke="#111" stroke-width="1.8"/>
<text x="366.3" y="1116.4" font-family="Liberation Sans" font-size="9.9" font-weight="bold" text-anchor="end" fill="#000">-20</text>
<text x="585.4" y="964.6" font-family="Liberation Sans" font-size="9.6" font-weight="bold" text-anchor="middle" fill="#000">Ki67</text>
<text x="563.1" y="988.7" font-family="Liberation Sans" font-size="10.4" fill="#222" textLength="40.4" lengthAdjust="spacingAndGlyphs"><tspan font-style="italic">p</tspan> = 0.002</text>
<line x1="537.1" y1="1076.75" x2="633.8" y2="1076.75" stroke="#111" stroke-width="2" stroke-dasharray="2 2.9"/>
<path d="M563.60,1081.20 C563.93,1081.06 564.60,1080.66 565.60,1080.35 C566.60,1080.03 567.52,1079.69 569.60,1079.32 C571.68,1078.95 577.77,1078.49 578.10,1078.12 C578.43,1077.75 573.35,1077.46 571.60,1077.09 C569.85,1076.72 568.50,1076.38 567.60,1075.89 C566.70,1075.41 566.53,1074.75 566.20,1074.18 C565.87,1073.61 565.77,1073.18 565.60,1072.47 C565.43,1071.76 565.40,1070.61 565.20,1069.90 C565.00,1069.19 564.58,1068.76 564.40,1068.19 C564.22,1067.62 564.15,1067.05 564.10,1066.47 C564.05,1065.90 564.10,1065.33 564.10,1064.76 C564.10,1064.19 564.10,1063.62 564.10,1063.05 C564.10,1062.48 564.10,1061.91 564.10,1061.34 C564.10,1060.77 564.10,1060.20 564.10,1059.62 C564.10,1059.05 564.10,1058.48 564.10,1057.91 C564.10,1057.34 564.10,1056.77 564.10,1056.20 C564.10,1055.63 564.10,1055.06 564.10,1054.49 C564.10,1053.92 564.10,1053.35 564.10,1052.78 C564.10,1052.20 564.10,1051.63 564.10,1051.06 C564.10,1050.49 564.10,1049.92 564.10,1049.35 C564.10,1048.78 564.10,1048.21 564.10,1047.64 C564.10,1047.07 564.10,1046.50 564.10,1045.92 C564.10,1045.35 564.10,1044.78 564.10,1044.21 C564.10,1043.64 564.10,1043.07 564.10,1042.50 C564.10,1041.93 564.10,1041.36 564.10,1040.79 C564.10,1040.22 564.10,1039.65 564.10,1039.08 C564.10,1038.50 564.10,1037.93 564.10,1037.36 C564.10,1036.79 564.10,1036.22 564.10,1035.65 C564.10,1035.08 564.10,1034.51 564.10,1033.94 C564.10,1033.37 564.10,1032.80 564.10,1032.22 C564.10,1031.65 564.10,1031.08 564.10,1030.51 C564.10,1029.94 564.10,1029.37 564.10,1028.80 C564.10,1028.23 564.10,1027.66 564.10,1027.09 C564.10,1026.52 564.10,1025.95 564.10,1025.38 C564.10,1024.80 564.10,1024.23 564.10,1023.66 C564.10,1023.09 564.10,1022.52 564.10,1021.95 C564.10,1021.38 564.10,1020.81 564.10,1020.24 C564.10,1019.67 564.10,1019.10 564.10,1018.52 C564.10,1017.95 564.18,1017.27 564.10,1016.81 C564.02,1016.36 563.68,1015.96 563.60,1015.78 C563.52,1015.61 563.68,1015.61 563.60,1015.78 C563.52,1015.96 563.18,1016.36 563.10,1016.81 C563.02,1017.27 563.10,1017.95 563.10,1018.52 C563.10,1019.10 563.10,1019.67 563.10,1020.24 C563.10,1020.81 563.10,1021.38 563.10,1021.95 C563.10,1022.52 563.10,1023.09 563.10,1023.66 C563.10,1024.23 563.10,1024.80 563.10,1025.38 C563.10,1025.95 563.10,1026.52 563.10,1027.09 C563.10,1027.66 563.10,1028.23 563.10,1028.80 C563.10,1029.37 563.10,1029.94 563.10,1030.51 C563.10,1031.08 563.10,1031.65 563.10,1032.22 C563.10,1032.80 563.10,1033.37 563.10,1033.94 C563.10,1034.51 563.10,1035.08 563.10,1035.65 C563.10,1036.22 563.10,1036.79 563.10,1037.36 C563.10,1037.93 563.10,1038.50 563.10,1039.08 C563.10,1039.65 563.10,1040.22 563.10,1040.79 C563.10,1041.36 563.10,1041.93 563.10,1042.50 C563.10,1043.07 563.10,1043.64 563.10,1044.21 C563.10,1044.78 563.10,1045.35 563.10,1045.92 C563.10,1046.50 563.10,1047.07 563.10,1047.64 C563.10,1048.21 563.10,1048.78 563.10,1049.35 C563.10,1049.92 563.10,1050.49 563.10,1051.06 C563.10,1051.63 563.10,1052.20 563.10,1052.78 C563.10,1053.35 563.10,1053.92 563.10,1054.49 C563.10,1055.06 563.10,1055.63 563.10,1056.20 C563.10,1056.77 563.10,1057.34 563.10,1057.91 C563.10,1058.48 563.10,1059.05 563.10,1059.62 C563.10,1060.20 563.10,1060.77 563.10,1061.34 C563.10,1061.91 563.10,1062.48 563.10,1063.05 C563.10,1063.62 563.10,1064.19 563.10,1064.76 C563.10,1065.33 563.15,1065.90 563.10,1066.47 C563.05,1067.05 562.98,1067.62 562.80,1068.19 C562.62,1068.76 562.20,1069.19 562.00,1069.90 C561.80,1070.61 561.77,1071.76 561.60,1072.47 C561.43,1073.18 561.33,1073.61 561.00,1074.18 C560.67,1074.75 560.50,1075.41 559.60,1075.89 C558.70,1076.38 557.35,1076.72 555.60,1077.09 C553.85,1077.46 548.77,1077.75 549.10,1078.12 C549.43,1078.49 555.52,1078.95 557.60,1079.32 C559.68,1079.69 560.60,1080.03 561.60,1080.35 C562.60,1080.66 563.27,1081.06 563.60,1081.20Z" fill="#b5434e" stroke="#a52f3a" stroke-width="1.1" stroke-linejoin="round"/>
<circle cx="563.6" cy="1016.81" r="1.5" fill="#a52f3a"/>
<circle cx="563.6" cy="1048.49" r="1.5" fill="#a52f3a"/>
<circle cx="563.6" cy="1059.62" r="1.5" fill="#a52f3a"/>
<circle cx="563.6" cy="1069.9" r="1.5" fill="#a52f3a"/>
<circle cx="563.6" cy="1074.18" r="1.5" fill="#a52f3a"/>
<line x1="558.1" y1="1078.12" x2="569.1" y2="1078.12" stroke="#111" stroke-width="0.9" stroke-dasharray="1.6 1.2"/>
<line x1="563.6" y1="1111" x2="563.6" y2="1117" stroke="#111" stroke-width="1.8"/>
<text x="566" y="1128.4" font-family="Liberation Sans" font-size="10.4" font-weight="bold" text-anchor="middle" fill="#000">low</text>
<text x="564.2" y="1142" font-family="Liberation Sans" font-size="10.4" font-weight="bold" text-anchor="middle" fill="#000">(n=33)</text>
<path d="M606.10,1083.26 C606.40,1083.03 607.15,1082.40 607.90,1081.89 C608.65,1081.37 609.48,1080.75 610.60,1080.17 C611.72,1079.60 612.90,1079.03 614.60,1078.46 C616.30,1077.89 620.55,1077.21 620.80,1076.75 C621.05,1076.29 617.55,1076.12 616.10,1075.72 C614.65,1075.32 613.07,1074.87 612.10,1074.35 C611.13,1073.84 610.73,1073.24 610.30,1072.64 C609.87,1072.04 609.70,1071.50 609.50,1070.76 C609.30,1070.01 609.20,1069.04 609.10,1068.19 C609.00,1067.33 609.13,1066.48 608.90,1065.62 C608.67,1064.76 608.03,1063.91 607.70,1063.05 C607.37,1062.19 607.08,1061.34 606.90,1060.48 C606.72,1059.62 606.65,1058.63 606.60,1057.91 C606.55,1057.20 606.60,1056.77 606.60,1056.20 C606.60,1055.63 606.60,1055.06 606.60,1054.49 C606.60,1053.92 606.60,1053.35 606.60,1052.78 C606.60,1052.20 606.60,1051.63 606.60,1051.06 C606.60,1050.49 606.60,1049.92 606.60,1049.35 C606.60,1048.78 606.60,1048.21 606.60,1047.64 C606.60,1047.07 606.60,1046.50 606.60,1045.92 C606.60,1045.35 606.60,1044.78 606.60,1044.21 C606.60,1043.64 606.60,1043.07 606.60,1042.50 C606.60,1041.93 606.60,1041.36 606.60,1040.79 C606.60,1040.22 606.60,1039.65 606.60,1039.08 C606.60,1038.50 606.60,1037.93 606.60,1037.36 C606.60,1036.79 606.60,1036.22 606.60,1035.65 C606.60,1035.08 606.60,1034.51 606.60,1033.94 C606.60,1033.37 606.60,1032.80 606.60,1032.22 C606.60,1031.65 606.60,1031.08 606.60,1030.51 C606.60,1029.94 606.60,1029.37 606.60,1028.80 C606.60,1028.23 606.60,1027.66 606.60,1027.09 C606.60,1026.52 606.60,1025.95 606.60,1025.38 C606.60,1024.80 606.60,1024.23 606.60,1023.66 C606.60,1023.09 606.60,1022.52 606.60,1021.95 C606.60,1021.38 606.60,1020.81 606.60,1020.24 C606.60,1019.67 606.60,1019.10 606.60,1018.52 C606.60,1017.95 606.60,1017.38 606.60,1016.81 C606.60,1016.24 606.60,1015.67 606.60,1015.10 C606.60,1014.53 606.60,1013.96 606.60,1013.39 C606.60,1012.82 606.60,1012.25 606.60,1011.67 C606.60,1011.10 606.60,1010.53 606.60,1009.96 C606.60,1009.39 606.60,1008.82 606.60,1008.25 C606.60,1007.68 606.60,1007.11 606.60,1006.54 C606.60,1005.97 606.60,1005.40 606.60,1004.83 C606.60,1004.25 606.60,1003.68 606.60,1003.11 C606.60,1002.54 606.60,1001.97 606.60,1001.40 C606.60,1000.83 606.60,1000.26 606.60,999.69 C606.60,999.12 606.68,998.43 606.60,997.98 C606.52,997.52 606.18,997.12 606.10,996.95 C606.02,996.78 606.18,996.78 606.10,996.95 C606.02,997.12 605.68,997.52 605.60,997.98 C605.52,998.43 605.60,999.12 605.60,999.69 C605.60,1000.26 605.60,1000.83 605.60,1001.40 C605.60,1001.97 605.60,1002.54 605.60,1003.11 C605.60,1003.68 605.60,1004.25 605.60,1004.83 C605.60,1005.40 605.60,1005.97 605.60,1006.54 C605.60,1007.11 605.60,1007.68 605.60,1008.25 C605.60,1008.82 605.60,1009.39 605.60,1009.96 C605.60,1010.53 605.60,1011.10 605.60,1011.67 C605.60,1012.25 605.60,1012.82 605.60,1013.39 C605.60,1013.96 605.60,1014.53 605.60,1015.10 C605.60,1015.67 605.60,1016.24 605.60,1016.81 C605.60,1017.38 605.60,1017.95 605.60,1018.52 C605.60,1019.10 605.60,1019.67 605.60,1020.24 C605.60,1020.81 605.60,1021.38 605.60,1021.95 C605.60,1022.52 605.60,1023.09 605.60,1023.66 C605.60,1024.23 605.60,1024.80 605.60,1025.38 C605.60,1025.95 605.60,1026.52 605.60,1027.09 C605.60,1027.66 605.60,1028.23 605.60,1028.80 C605.60,1029.37 605.60,1029.94 605.60,1030.51 C605.60,1031.08 605.60,1031.65 605.60,1032.22 C605.60,1032.80 605.60,1033.37 605.60,1033.94 C605.60,1034.51 605.60,1035.08 605.60,1035.65 C605.60,1036.22 605.60,1036.79 605.60,1037.36 C605.60,1037.93 605.60,1038.50 605.60,1039.08 C605.60,1039.65 605.60,1040.22 605.60,1040.79 C605.60,1041.36 605.60,1041.93 605.60,1042.50 C605.60,1043.07 605.60,1043.64 605.60,1044.21 C605.60,1044.78 605.60,1045.35 605.60,1045.92 C605.60,1046.50 605.60,1047.07 605.60,1047.64 C605.60,1048.21 605.60,1048.78 605.60,1049.35 C605.60,1049.92 605.60,1050.49 605.60,1051.06 C605.60,1051.63 605.60,1052.20 605.60,1052.78 C605.60,1053.35 605.60,1053.92 605.60,1054.49 C605.60,1055.06 605.60,1055.63 605.60,1056.20 C605.60,1056.77 605.65,1057.20 605.60,1057.91 C605.55,1058.63 605.48,1059.62 605.30,1060.48 C605.12,1061.34 604.83,1062.19 604.50,1063.05 C604.17,1063.91 603.53,1064.76 603.30,1065.62 C603.07,1066.48 603.20,1067.33 603.10,1068.19 C603.00,1069.04 602.90,1070.01 602.70,1070.76 C602.50,1071.50 602.33,1072.04 601.90,1072.64 C601.47,1073.24 601.07,1073.84 600.10,1074.35 C599.13,1074.87 597.55,1075.32 596.10,1075.72 C594.65,1076.12 591.15,1076.29 591.40,1076.75 C591.65,1077.21 595.90,1077.89 597.60,1078.46 C599.30,1079.03 600.48,1079.60 601.60,1080.17 C602.72,1080.75 603.55,1081.37 604.30,1081.89 C605.05,1082.40 605.80,1083.03 606.10,1083.26Z" fill="#3f7bb0" stroke="#2d6ba2" stroke-width="1.1" stroke-linejoin="round"/>
<circle cx="606.1" cy="1013.39" r="1.5" fill="#2d6ba2"/>
<circle cx="606.1" cy="1028.8" r="1.5" fill="#2d6ba2"/>
<circle cx="606.1" cy="1042.5" r="1.5" fill="#2d6ba2"/>
<circle cx="606.1" cy="1054.49" r="1.5" fill="#2d6ba2"/>
<circle cx="606.1" cy="1064.76" r="1.5" fill="#2d6ba2"/>
<circle cx="606.1" cy="1069.9" r="1.5" fill="#2d6ba2"/>
<line x1="600.6" y1="1076.24" x2="611.6" y2="1076.24" stroke="#111" stroke-width="0.9" stroke-dasharray="1.6 1.2"/>
<line x1="606.1" y1="1111" x2="606.1" y2="1117" stroke="#111" stroke-width="1.8"/>
<text x="606.4" y="1128.4" font-family="Liberation Sans" font-size="10.4" font-weight="bold" text-anchor="middle" fill="#000">high</text>
<text x="606.8" y="1142" font-family="Liberation Sans" font-size="10.4" font-weight="bold" text-anchor="middle" fill="#000">(n=82)</text>
<rect x="535.1" y="974" width="99.7" height="137" fill="none" stroke="#111" stroke-width="2"/>
<line x1="528.6" y1="974" x2="535.1" y2="974" stroke="#111" stroke-width="1.8"/>
<text x="526.3" y="977.4" font-family="Liberation Sans" font-size="9.9" font-weight="bold" text-anchor="end" fill="#000">60</text>
<line x1="528.6" y1="1008.25" x2="535.1" y2="1008.25" stroke="#111" stroke-width="1.8"/>
<text x="526.3" y="1011.65" font-family="Liberation Sans" font-size="9.9" font-weight="bold" text-anchor="end" fill="#000">40</text>
<line x1="528.6" y1="1042.5" x2="535.1" y2="1042.5" stroke="#111" stroke-width="1.8"/>
<text x="526.3" y="1045.9" font-family="Liberation Sans" font-size="9.9" font-weight="bold" text-anchor="end" fill="#000">20</text>
<line x1="528.6" y1="1076.75" x2="535.1" y2="1076.75" stroke="#111" stroke-width="1.8"/>
<text x="526.3" y="1080.15" font-family="Liberation Sans" font-size="9.9" font-weight="bold" text-anchor="end" fill="#000">0</text>
<line x1="528.6" y1="1111" x2="535.1" y2="1111" stroke="#111" stroke-width="1.8"/>
<text x="526.3" y="1114.4" font-family="Liberation Sans" font-size="9.9" font-weight="bold" text-anchor="end" fill="#000">-20</text>
</svg></body></html>
